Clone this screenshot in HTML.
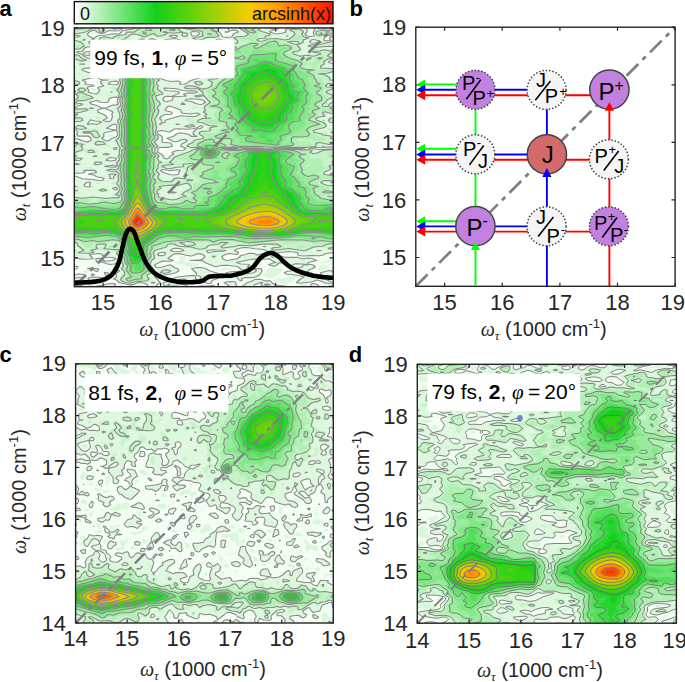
<!DOCTYPE html><html><head><meta charset="utf-8"><style>
html,body{margin:0;padding:0;background:#fff;overflow:hidden}
svg{display:block}
text{font-family:"Liberation Sans",sans-serif;fill:#262626}
.tk{font-size:22px}
.al{font-size:20px}
.om{font-family:"Liberation Serif",serif;font-style:italic}
.pl{font-size:22px;font-weight:bold;fill:#000}
.lb{font-size:21px;fill:#000}
.cbt{font-size:18px;fill:#111}
.cf{font-size:20px;fill:#000}
.cb{font-size:24px;fill:#000}
.cs{font-size:13px;fill:#000}
.cs2{font-size:16px;fill:#000}
</style></head><body>
<svg width="685" height="682" viewBox="0 0 685 682">
<defs>
<linearGradient id="cbg" x1="0" x2="1" y1="0" y2="0"><stop offset="0" stop-color="#ffffff"/><stop offset="0.315" stop-color="#11d11a"/><stop offset="0.485" stop-color="#78d20a"/><stop offset="0.676" stop-color="#f5cc00"/><stop offset="0.79" stop-color="#ff9a00"/><stop offset="1" stop-color="#ff1400"/></linearGradient>
<clipPath id="clipa"><rect x="74.3" y="27.9" width="259.0" height="258.8"/></clipPath>
<clipPath id="clipc"><rect x="75.6" y="363.8" width="257.7" height="259.2"/></clipPath>
<clipPath id="clipd"><rect x="417.3" y="364.3" width="259.1" height="258.9"/></clipPath>
</defs>
<rect x="74.3" y="1.6" width="258.7" height="22.2" fill="url(#cbg)" stroke="#111" stroke-width="1.4"/>
<text x="80" y="19.5" class="cbt">0</text>
<text x="331" y="19.5" text-anchor="end" class="cbt">arcsinh(x)</text>
<g clip-path="url(#clipa)">
<rect x="74.3" y="27.9" width="259.0" height="258.8" fill="#d9f8db"/>
<g transform="scale(0.25)">
<path fill-rule="evenodd" fill="#f4fdf4" d="M297 104l584 0-14 1-8 6 0 9 24 6 17-3 5-3-1-8-12-8 257 0 16 3 13-3 163 0 0 424-3 1 3 1 0 61-68 2 44 2 24-1 0 439-32 5-8 7-8 3-20 2 12 4 35-4 3 9 18 3 0 58-7 3 7 15 0 17-77 0-19-3-10-5-1-8-13-4-25 4-4 8 9 8-11 0-9-8-16-3-17 11-61 0-35-5-8 0-8 5-747 0 0-16 16-2 33-14-17-8-16-1-16 3 0-55 10-3-10-6 0-4 9-7-4-8-5-1 0-499 10-5-10-4 0-155 5-2-5-3 0-221 12 0-12-1 0-39zM501 112l13 2 12-2-4-3-8-1zM1123 112l1 4 19-4-11-2zM369 128l-5 8 6 2 14-2-6-6zM434 128l8 1 6-1-6-1zM1095 128l13 2 18-2-2-4-8-2zM773 136l6 2 9-2-9-3zM905 136l-4 8 18 0-3-5zM1231 136l6 3 8-1 2-2-2-3-8-1zM677 168l14 2 8-2-8-4zM798 192l13 2 6-2-14-4zM360 200l11 0-1-3-9-2zM528 200l29 0-11-4zM705 208l2 0 8 1 2-1-2-1-8 1zM597 224l5 4 8 1 33-2 16 3 16-6-8-5-41-1zM351 280l2 1 5-1-5 0zM704 280l-5 5-16 3 24 6 3-6 10-8-5-3zM361 352l9 13 8 0 6-5-10-8zM684 441l15 1 5-1-13-2zM672 465l3 0 6 0-6-1zM642 529l1 0 2 0-2 0zM433 537l-2 8 3 2 8 1 12-3 4-8zM691 593l21 0-5-2zM972 1002l30 0-14-2zM718 1026l3 16-20 8 14 8 16-2 8 4 5 7 11 2 24-3 18-7-18-7-40-3-10-7 15-8-2-8zM1001 1042l27 7 5-7zM389 1059l-3 8 8-1 10-7zM644 1059l10 0-3-3zM1006 1067l14 1 15-1-15-5zM1059 1067l1 0 4 0-4-1zM1276 1067l-4 8 2 8 3 0 16-1 22-7-6-11-8-3-16 0zM883 1075l0 5 8 3 17-5 24 0 6-3-38-6zM1071 1075l-2 8-15 16 2 8 12 4 24 1 39-29-2-8-5-3-48-1zM334 1083l-2 8 13 1 6-1 7-8-13-2zM698 1099l1 0 8 0 8 0 3 0-3-1-8 0-8 1zM650 1107l1 10 3 6 13-1 13-7-5-8zM1150 1107l-2 3-8 2-33 3-7 3-1 5 9 6 16 5 24 2 25-15 16-14-16-4zM891 1115l9 4 8 0 16-1 9-3-9-6zM367 1131l-16 8 2 7 36-7 20-8-15-3zM718 1131l13 2 18-2-18-5-8 1zM478 1139l-5 8 18 0-2-8zM555 1139l-34 8 17 3 24-1 9-2-4-8zM1282 1139l11 4 23-4-23-4-8 1z"/>
<path fill-rule="evenodd" fill="#ddf8de" d="M297 104l208 0-31 19-16 1-24-2-16 10-8 1-16-1-16-12-8 2-12 6-9 8 5 8 16 8 8 0 11-8 13-3 24-1 24-5 26 1 14-14 40-5 16-8 26-5 281 0 0 16 26 8 12 20 17 2 16-2 8-4 0-8 21-8-13-8-24 5-4-13-9-8 147 0 10 3 10-3 67 0-21 7-8 6-24 6-6 5 30 8 32-6 5-2-4-8 15-7 49-6 19 5 4 8 0 8-8 8 7 8 18 2 12-2-4-16 6-8-5-16 87 0 0 34-41 6-5 16 6 4 16-2 5-2-4-8 7-5 16 0 0 50-8-1-8 4 16 3 0 35-16 2-12 8 12 5 16-1 0 110-8 6 8 3 0 151-17 7 17 8 0 50-106 6 42 5 64-2 0 98-16-1-5 4 21 2 0 315-8-3-24 2-8 2-8 5-16 3-64 1-23-6 1-8-35-4-37 4-26 8-7 8 6 3 24-6 24 6 49 0 24 7 16-4 16 1 22 9-34 8-4 6-8 1-32-2-33 7-7-3-9-8-24 0-8 9-8 4-8 0-18-5 18-7 13-2-29-15-24 2-40-1-64 13-2 1 2 1 16 5 32 1 2 2-8 8 6 4 8 3 40 0 5 9-10 16-14 8-13 3-32 0-14 5 1 8-3 0-8-3-9-13-23-8-16-2-3-6 51-6 8 1 16 8 8 1 27-4 11-8-6-5-8-2-48 2-16-12-40-5-49 5-40-16-8-7-49-1 41-3 8-3 9-10-9-8-8-3-16 0-16 8-8 1-40-9-24 0-27 19 20 8-9 3-32-1-33 15 4 8 13 4 48-11 16 11 12 4 5 8-13 8-28 7-49 5-7 4 9 8 7 10 7 6-14 8-2 8 17 4 32-2 24 2 8-2 4-2-4-4-32 2-16-3-6-3 0-8 22-6 24-14 17-4 63-5 4 5-1 8 13 4 6-4 2-8-18-8 0-8-19-16 21-5 16 0 16 3 24 12 56 14-8 1-23 15-17 6-8 13-8 1-40-11-32 4-18-5-6-6-8-1-16 3-11 12 3 3 8 3 23 2 9 4 5 4-2 8-163 0 3-8 0-8-12-6-24-3-22 9-10 1-40-8-16-12-13-5 13-7-2-9 4-8 11-8-24-8 5-8 17-8-3-6-32 5-16-3-16-8-24 1-2-6-1-8 11-1 14 1 10 11 33-3 14-8-15-4-32-1-9-11-15-4-36 4 12 15 4 1-13 2-32 1-40-9 0-297 5-1-5-1 0-27 40 13 41 3 24 4 18-1 4-8-30-6-8-6-8-2-16-2 7-3 25-5-8-8-41 0-2 0 5 8-19 4-32-1 0-138 24 2 32 11 8 0 11-6 0-8-11-9-40 0-7-7 5-8-5-8-17-4 0-51 11-1 11-8-22-1 0-22 14-1 1-8 17-3 10-5-10-3-16 1-5 2-3 5-8 3 0-51 15-6-7-8-8-3 0-210 16 2 17-5-33-5 0-35zM1322 112l3 0 8 1 7-1-7-1-8 0zM764 128l-1 8 8 8 16-1 10-7-2-9-16-1zM677 144l22 6 11-6-19-5zM1147 144l1 0 3 0-3-1zM367 160l-12 8 6 10 17-1 17-9-18-8-7-8zM596 160l6 2 23-2-15-5-8 0zM657 160l5 8 5 2 16 6 16 2 10-2 13-16-23-6zM864 160l11 2 13-2-13-4zM1245 160l-7 8 7 3 16 1 25-4-25-9zM768 168l3 2 2-2zM496 176l2 0 1 0-1 0zM776 176l-6 8 17 13 32 6 17-3-2-8-23-14-32-5zM546 184l-38 16 6 6 40-1 16 3 8 5 18 3-10 1-5 7 7 8 14 3 33 0 9 5 8 8-4 8-13 4-49 4 24 3 31 13 10 8 16 7 56 9 8-3 4-5-2-8 14-7 16-3 32 0 26-6-18-10-40-3-12-3 20-8 4-8-28-9-12 1-6 16-6 3-16 1-16-9-4-3-2-8 14-12 24 1 17-5-2-8-7-9-8-3-48 13-52-1-13-4-8-12-18-8-22-3zM339 192l-10 13-24 3 24 10 11-10 47-8-5-8-12-6-17 1zM460 208l-4 8 18 7 16-1 19-6-3-4zM768 216l3 1 8 0 7-1-7-1-8 0zM333 224l16 8 29 6 8 0 8-6-57-13zM808 240l3 9 8 4 17-5 15-8-8-3-16-2zM319 256l2 0 8 1 8-1 1 0-1 0-8 0-8 0zM446 256l4 7 8 1 23-8-15-6zM343 272l-14 5-1 3 25 10 8-1 20-9-20-8zM425 272l-26 8 6 8 13 3 8-2 13-9 3-5 13-3-5-4zM776 296l3 3 16 0 1-3-9-2zM455 304l11 6 8-3 1-3-9-7-8 3zM631 304l5 8 31 11 24 3 16-2 16 4-5 8 5 1 16-1 24-14 33-10-1-2-20-6-4-3-24 6-24-3-24 6-32-3-16-7-16 1zM797 304l14 3 23-3-7-3-24-1zM368 312l-39 8 14 8-3 8 30 4 6 4-23 3-4 5 6 8-2 8 17 6 16 2 8-6 5-10-8-8 3-3 21-5-13-14 0-4 8-5 23-1-31-3-24-12zM440 328l-6 9 32 2 6-3 2-8-8-4-16 1zM656 352l3 9 48 4 10 3-2 6-24 10 8 3 46-3-11-8 21-4 24 0 11-4-19-5-24 1-16-2-24-7zM440 368l2 1 6-1-6 0zM439 392l-8 17-5 1-26-1-6-5-8-2-27 7 7 8 20 4 16 9 8 2 16-1 24-11 16 0 8-3-5-8 4-17-7-4-8 0zM654 392l-2 9 15 6 22-6 3-9-1-6-16-1-16 2zM740 401l7 3 24 3 8 6 16 4 16-1 11-7-11-9-8-2-40-3zM725 417l15 0-9-6zM673 425l-6 4-7 12 28 8-1 8-28 1-13 7-8 8 8 8 0 8 5 3 9-3 0-8 63-18 48 4 13-2 16-8-13-5-24 4-32-3-6-4-2-9-32-12zM391 441l1 8 22 8 11 8 4 8-17 8 22 6 8-3 6-11 2-8-3-8 5-8-10-7-24-8-16 1zM360 481l-11 16 4 1 17-4 16 4 20-9-4-3zM1292 481l1 0 2 0-2-1zM455 497l-29 16 32 7 8 0 2-7-2-14zM637 497l7 0-1-3zM704 497l3 0 8 0 2 0-2-1-8 0zM799 505l-12 6-24 5-64 0-12 5-4 5-8 2-24-6-16 1-7 6 5 8 14 8 3 8-2 8 2 8 33 3 7 13-15 4-24 0-16 2-3 2-1 16 15 8 7 8 3 8 11 3 9-3 3-8 16-8-7-8 3-1 16-6 32-4 5-5-21-8 3-8 5-4 11-4 7-8-18-3-11 3-5 4-16 2-8-1-6-5-17-8 26-8 13-10 16-4 31 6 11 8 23 0-15-8 0-8 14-13 18-3 6-8zM424 529l-6 2-4 6 2 8-9 8 11 7 8 3 8 0 15-10 17-6 6-10-6-15zM454 593l4 5 8-1 2-4-2-3zM782 593l5 1 6-1-6-1zM901 593l23 2 27-2-27-2zM1132 593l65 2 23-2-23-2zM408 617l18 3 11-3-11-3zM373 625l14 0-9-2zM307 633l-11 8 17 1 8-2 7-7-7-2zM433 633l-10 8 19 3 20-3 4-8-24-3zM416 665l42 4 9-4-17-4zM641 681l18 11 24 7 16 1 15-3 1-8 6-8-14-2-24 4-32-5zM436 697l5 8-3 8 12 2 5-2 0-8 11-8-16-1zM347 730l-10 8 2 8 14 2 10-2-5-8 4-8zM1324 730l1 0 8 0 1 0-1-1-8 0zM451 754l7 4 8 1 4-5-4-5zM297 762l8 0 6 0-6-1zM674 770l17 2 13-2-13-3zM1054 986l6 1 2-1-2 0zM692 994l-11 8 10 4 24 1 21-5-15-8zM954 994l-16 8 16 8-6 8-32-4-15 4-13 8 2 8 10 6 8 2 40-7 16-13 18-4 14-5 16 0 24 6 36-9-6-8-14-4-64-8zM290 1002l13 0-6-1zM827 1002l5 8 3 1 24-5 32-1 13-3-53-3zM1268 1002l1 0 8 1 8-1-8 0-8 0zM641 1010l-6 3-5 5 5 4 16 0 10-4 0-8-2-1zM900 128l8-2 5 2zM683 262l8-1 10 3 3 8-5 3-8 3-16 0-16-6zM297 543l5 2-13 5 0-8zM1237 1057l16 3 8 7-8 6-16 6-8 9-20 3 36 2 16 11 8 2 16-7-3-8 27-8 13 0 19 12 0 19-32-1-11 2 31 16-12 3-20-3-28-11-16 7-27 4-29 2-11-2 11-11 20-13-36-7-33-3-11-6 28-8 14-8 26-6 8-9zM297 1066l15 1-5 8-18 3 0-10zM353 1073l8-1 33 3-2 8-6 3-16-9-19-2zM1333 1069l8-1 0 10-10-3zM418 1090l14 1 2 8-8 4-5-4zM290 1099l39-2 9 2 4 8-53 6zM370 1096l8 3-8 3-5-3zM353 1113l8-4 17-1 61 7-21 0-27 8-21 1-11-1-7-8zM1020 1118l16-1 24 6 19 0 21 17 32 2 16 5-8 8-41 0-7-5-40-5-8-6 0-5 8-4-35 9 5 16-46 0-11-8 15-8 6-8 18-5zM900 1130l16-4 24 1 3 4 1 8 5 8-9 8-28 0 10-8-22-14-3-2zM418 1138l24-4 16 1 4 4-6 8 2 1 16 3 32 0 15 4-147 0 1-8 3-1zM1245 1136l16-1 8 4 7 8-7 3-24-3-2-8zM297 1142l24-1 8 2 3 12-43 0 0-13zM787 1146l16-2 32 0 16-3 14 6 8 8-13 0-17-4-4 4-44 0-8-7-5-1zM1309 1147l16-5 16 0 0 13-58 0z"/>
<path fill-rule="evenodd" fill="#c6f4c8" d="M297 104l-8 4 0-4zM337 111l16-3 49-1 14 5 6 8-6 8-14 2-7-2-3-8-6-5-8-1-8 1-33 17-24 4-16 0-8-3 0-18 16-2 16 1zM442 104l52 0-20 12-16 3-8-2-7-5-5-8zM554 111l24-3 6-4 260 0 3 8-1 8 21 8 12 16-12 5-37 3-11 6-24 7-33-13 43-8 3-16-13-5-24-1-48-9-3 7 3 3 22 5 9 8-1 8-6 6-16-1-8-5-1-8-7-2-32 0-8 2-18 8 19 8-9 1-41-5-16-8-8 2-23 10 7 12 8 4 49-4 24 13 32 7 4 8-17 8-11 1-24-9-33 0-24-11-30-5-10-7-7-9 20-8-6-8-15-5-16 0-9 5-3 8 6 8 1 8-3 3-32-2-8 1-5 6 7 8 22 8-24 8-16 2-15-2-9-9-8-3-8 0-6 4 8 8 3 8-13 9-8 4-40-1-20-4 11-6 36-10-11-16 15-8 3-8-11-8 2-8 15-6 40 0 16-5 24-3 8-2 2-8 38-4zM588 120l15 0-9-3zM916 104l27 0-19 4-8-2-4-2zM956 106l4-2 76 0 10 8-8 8 49 16 5 8-18 8 42 1 24 4 16-3 14-10 5-8-8-8-14-8 20-5 32 0 8 4 4 9-6 8 4 8 6 3 24 5-26 8 2 9-21 15 10 16-5 5-21 11 13 5 40-3 16 2 24-4-32-4-10-4 17-8 0-8-25-8 2-2 8-4 32-1 48-10 15-7-1-8 10-1 0 40-16-4-60 5 12 7 24-4 16 7 22 6-6 6-8 2-1 8 17-8 0 18-16 0-16 6-11 8 5 8-12 8 10 6 21 2 11 0 8-4 0 20-42 8 10 4 24 16 8 1 0 27-24-5-11 5 11 3 24-2 0 10-29 13 13 6 16 2 0 48-15 9 15 2 0 21-32-2-5 3 4 8-7 3-34 5 5 8 29 9 6 7 3 8-1 3-16 7-26 6-4 8 14 1 8-4 16-2 7 5 0 8 33 7 0 3-7 6 7 2 0 24-40 7-32 0-40 4-89 0-36 3 93 5 40 0 21 3-13 8 8 2 8 0 24-10 56-3 0 65-16 2 4 8-7 8-17 8-2 8 38 6 0 22-40 0-12 5 20 9 32 0 0 236-28 3 4 4 8 2 16 0 0 12-16 5-16-4-16-7-24-1-16 3-23 10-1 6-16-1-57-10-56 7-12-2-10-8 22-8-40-9-40 7-56-1-48 11-25 2-24-2 6-8-6-3-24 0-9 3-2 8-37 5-16-1-16-6-57-6-7-2-6-6-10-1-6 1-4 8-6 4-43 12-7 8 6 16 0 8-13 8-7 17 20 24-8 8-21 8 8 16 1 8 15 3 7 5-15 5-8-2-8-8-48 1-24 8-24-4-17-8-2-8 7-8 7-16-1-8-11-8 8-16-4-9-3-19-8-7-12-6-3-8 7-6 10-2-2-1-40-1-24 3-16-2-9 1-5 8-10 3-41 2-24 6-5-3 5-8 21-8-13-11-8-2-16 2 0-7 8-1 7-5-7-4-8 0 0-188 40 5 41-6 56 4 49-3-25-4-6-4 22-6 8-7 5-11-5-10-8-5-11-1-14-8 9-4 16-1 6-12-2-8 5-8-1-2-8-6-32-2-18-6 26-6 24 1 5-3 4-8-14-8-1-8 6-1 9-7 1-8-8-8 7-8-1-16 4-8-4-11-8-8-10-5-1-8 11-5 8-7 4-12-3-40-7-8 0-8 9-8 0-8-3-16-8-13-11-3 19-6 8-10-5-8 2-17-9-8 6-8-3-8-7-5-26-11 10-5 8 0 8 5 8-7 6-9 0-8-5-8 5-8 1-8-7-9-8-4-20-3 20-7 16-14 27-3 16-8-35-7 8-4 40 1 13 2 1 8 9 8 41 6 24 10 3 16-7 8 2 8 19 8-12 8-2 8 6 6 10 2-12 8 19 16 6 8-32 8 7 17 12 8 2 8-15 16 8 8 0 8-3 8-8 8-5 8-1 8 4 8-3 8 6 8-1 8-7 16 2 8 10 8 1 8-15 16 14 16-11 8-1 16 18 16-6 8 9 8 16 6 16-2 23-20 25-8-1-8 25-2 16-6 8-7 16 3 16-4-16-4-24 4-23-8 8-8 18-8 5-12 38-4-2-8-14-8-1-8 11-7 28-1-1-8 7-8-34-13-22 5 1 8-11 4-24 1-18-5 32-8 0-8-15-8-4-8 14 0 7 3 16 2 24-5 17-16-12-8 5-8-2-3-12-5 12-4 3-4 22-16-17-16-8-4-24 1-14-6 30-12 3-4-11-6-16-5-32 0-15-5 7-9 32-3 6-4-6-8 24-6 16 2 12 12-27 8 15 7 8 1 20-8 1-16-20-8 15-6 30-2-6-8 0-8-36-8-6-8 23-8-7-8 5-8 37-12 7-4-3-16-37-8-4-8 13-8 1-8-20-16 11-8-10-8 2-3 8 2 1 9 23 5 33-8 40 1 4-6-16-8 20-7 26-1 17-8-39-24zM1032 160l12 3 14-3-14-4zM1162 168l19 4 6-4zM909 192l15 3 19-3-11-5zM1313 401l-6 8 2 3 8 0 19-11-3-5-8 0zM1269 577l8 3 12-3-12-2zM890 593l34 4 56-3 69-1-77-1-40-4zM665 657l2 0 8 1 3-1-3-1-8 1zM751 657l12 3 12-3zM641 673l-6 2-7 6 14 16-3 8 2 8 4 8 6 2 24 1 9-3 7-8 8-4 24 0 8-3 2-9 10-16-4-5-16-4-16 0-24 5-32-6zM652 746l-4 8-17 8-1 8 12 8-5 8 6 3 48 6 12-1 18-8-8-8 47-24-1-8-12-8-32 5-32-1zM729 970l18 7 8 0 8-3 3-4-19-2zM407 978l-13 5-3 3 11 4 8-1 4-3-3-8zM1076 109l6-5 43 0-25 12-8 1-16-3-4-2zM1269 104l72 0 0 3-16 0-17 5 9 5 24 1 0 13-24 7-35 6 0 8-5 3-14-3 11-8-5-1-7-7-1-8 8-5 35-3-35-6-5-10zM948 135l10 1-2 3-8-1zM293 152l11 8 9 1 8-2 8-8 8-2 12 3-1 8-17 8 12 16-22 13-8 2-24-4 0-44zM739 168l14 8-6 4-16-3-2-1 2-6zM522 179l8 0 1 5-9 2-5-2zM297 215l16 4 24 16 18 5-18 5-16 2-32-11 0-24zM530 216l8-4 8-1 17 13-9 4-16-1-9-3zM426 223l24 0 16 9-14 8-2 8-16 4-16 0-12-12 12-12zM779 230l17 2-17 1-7-1zM594 240l16 1 13 7-21 6-24-2-7-4zM297 263l14 1-6 2-4 6 1 8-13 6 0-23zM345 264l33 0 32-4 8 1 3 3-27 4-16-3zM675 272l8-2 9 2zM305 295l16-3 9 4-17 4-8-2-1-2zM410 302l24-5 8 3 9 12-9 1-24-4-13-5zM297 310l8-1 6 3-14 6-6-6zM297 321l16 3 10 4-2 8-8 5-24 2 0-23zM675 335l5 1-5 7-8-7zM321 350l16 1 10 9-13 8 11 7 16 5 18 12-42 12-24 3-24 8 0-17 16-5 3-9-12-8 21-8-10-8 6-7zM426 378l19 6-19 2-5-2zM771 424l19 1 4 8-23 3-5-3zM337 431l33-2 15 4-7 3-57 16-32 2 0-18zM386 464l10 1 8 8-10 2-13-2zM297 469l32 1 5 3 4 8-9 6-8 2-32 0 0-20zM1317 471l24-3 0 26-16-1-13-4-1-8zM691 481l8-1 3 1-3 0-8 0-1 0zM667 496l11 1-3 2zM305 501l24 0 32 15 17-2 26 7-8 8 8 16-12 8 2 8 28 8 20 16-8 3-8-6-48 0-8-5 8-9 8-6 6-1-14-8-17-16-8-2-28 2 0-8 4-4 24-4-40-3-16-5 3-8zM1317 512l24 1-16 8-8 1-6-1 2-8zM707 553l1 0-1 0-1 0zM297 560l6 1 12 8 32 8-14 8 6 8 6 4 8 0 25-4 8 4 6 12-39 5-8-1-8-6-8-1-16 3-3 8 7 8-12 2-16 9 0-47 7-4 0-8-7-3 0-15zM353 633l1 0-1 0zM394 632l16-2 5 3-13 4-13-4zM297 649l9 0 23 8-8 4-32-1 0-8zM378 647l24-2 24 4-9 8-39 7-10-7 3-8zM345 669l25-1 3 5-20 2-10-2zM297 678l8-3 8 6-8 4-8-1-2-3zM410 705l2 0-2 1-3-1zM297 712l8 8 8 1-24 2 0-14zM386 729l19 1-11 6-8-2-2-4zM297 741l16 3 8 6 9 4-9 1-32-5 0-9zM394 753l24-1 8 2 9 8-17 6-24-2-8-4 5-8zM297 768l30 2-14 3-8 7-8 1-8-2 0-14zM1237 1009l24 1-8 3-21-3zM851 1017l24 1-8 9-16 2-10-3 5-8zM988 1026l3 0-3 4-10 4 2-8zM643 1081l24-6 26 8-13 8-21 4-16-1-8-3 4-8zM819 1098l32-1 16 2-8 3zM948 1095l14 4-6 2-8-1-4-1zM297 1105l18 2-26 2 0-5zM1325 1102l16 0 0 8-23-3zM763 1122l8 0 1 1-1 0-8 0-1 0zM811 1122l8-5 8 0 6 6-14 2zM1229 1123l8-1 1 1-1 0-8 0-1 0zM675 1131l16 0-3 8-13 2-10-2zM924 1130l2 1-2 1-5-1zM1060 1135l16 0 8 4-8 4-8 1-14-5zM297 1146l17 1 5 8-30 0 0-10zM988 1145l8-1 5 3 3 8-12 0-8-8zM1116 1146l13 1 2 8-21 0 1-8zM1325 1146l16-1 0 10-40 0zM450 1155l8 0 8 0 8-1 8 0 8 0 8 0 4 1-4 0-8 0-8 0-8 0-8 0-8 0-8 0-2 0zM610 1153l9 2-13 0zM651 1155l8-1 8 0 3 1-3 0-8 0-8 0-4 0zM715 1153l16-4 8 6-28 0zM811 1154l8 0 3 1-3 0-8 0z"/>
<path fill-rule="evenodd" fill="#b0f0b3" d="M450 104l36 0-20 9-8 0-4-1zM594 104l23 0 9 4 6-4 55 0 20 11 4 5-4 7-24 0-21-7 5-5 9-3-41-2-6 10 6 2 8 11 7 3-7 1-33-7-8 2-2 4-14 5-16 0-15-5-3-8 10-9 8-1 16 6 16 2 20-6-19-8zM731 104l107 0 2 8-7 8 26 10 11 14-19 3-19-3-18-8 7-8-10-6-16-5-24 1-16-3-24-8-7-3zM972 107l6-3 48 0 6 8-9 8 14 8-5 8 7 8-11 6-11 10 4 8 23 3 36-11 28-3 15 3 1 8 8 4 16 1 17 7 20 12-10 8-23 8-1 8 25 8 25 16 20 9 44-1-4-1-5-7 2-8 11-6 24-1 14 7-14 10-16 6 0 8-21 16 21 5 32 0 14 3-14 9-40 3-8 4 16 12 20 4-4 2-5 6 10 16-6 8 13 8-11 8-2 8 3 8 16 8-1 8-16 17-20 8 4 8 23 9 40 3 0 16-16-3-16-6-24 0-14 5 3 8-7 8-14 8 5 8 24 8 11 6 3 10-43 10-13 6 6 8 28 16 29 8-5 8-13 4-16-1-24-6-16 1-32-4-8 3-2 3 2 3 8 1 40-2 13 14-8 8-102 2-64 5-40-3-64 0-48-3-46 7 38 6 160-6 129 10 25-2-1 8 12 8-4 17 16 3 24-2 15 6 1 4 6 4-6 1-6 7 6 8 20 8-36 16-2 8 66 12 0 11-48-3-15 4-10 9 10 8 23 5 40 1 0 3-16-1-9 8 25 9 0 11-40 6-8 6 8 3 16 2 24-1 0 180-48 2-18 6-14 2-10-2-6-8-24-3-24 1-24 6-33 2-8-2-8-11-128 17-22-2-6-8-4-1-73-5-8 1-16 8-16 2-24-7-32 1-40-7-72 8-16 5-15 11-26 4-20 20 6 16-18 24 0 9 12 16-4 9-7 7-16 8 0 8 6 8-15 7-24 0-24 7-29-6-2-8 14-8 3-8-14-24 8-8-2-8-7-9-1-16-15-16 2-8 9-8-3-8-3-4-8-1-24 4-8-1-8-6 8-5 24 0 8-3-2-8-14-4-24 5-56 4-12 3 6 8-11 6-16-4-16-11-3-7-5-1-16-3-16 2 0-176 40 5 42-3-10 10-11 6 3 0 14 0 43-12 64 3 8-9 1-6-7-8 1-8 8-16-9-16 3-17-2-16 4-8-10-16 7-8 2-8-8-8 10-16 0-8-4-8 4-8-1-16 8-8-10-16-4-16 9-24-3-16 1-16-6-16 1-8 6-8 1-16-7-16 10-24-4-8 2-17-8-8 5-9-7-15 11-24-3-16 3-8-4-14-12-10 12-14 8-4 40-5 32 1 24 4 31 10 4 16-5 8-1 8 12 8-6 8 0 8 4 8-5 16 17 16-23 8 15 33-6 16 5 8-15 40 5 8 2 16-1 16-3 8 1 8 9 8 1 8-17 16 14 16-8 8-1 16 10 8 5 8-8 8 3 16 0 24-8 8 12 16-7 8 1 8 12 12 34 5 3 8-21 1-16-3-9 2-2 8 7 8-9 8 0 8 6 8-2 10 9 10 32 3 16 9 24-1 9-7 15-7 34-9 1-8-20-8 28-16-3-16 8-6 19-2 6-9-17-11-11-13-12-8 7-8-1-8 6-8 18-8-15-6-34-2-2-8-4-2-32-2-5-4 49-16 28-16 32-8-16-5-27-3 4-8 23-13 33-11-6-8-15-8 4-4 16-2 32 5 18-7-12-8 25-8-1-8-6-6-8-2-38 0-17-8-6-8 13-2 24 1 8-4 3-3-6-8-2-8 6-8 11-8-12-4-16-1-16-10 8-7 20-10-12-11-9-14 0-8-16-16 28-8 10-8 5-8 15-16 12-8-9-8-2-8-16-8-10-8 51-16 1-16 9-8 1-8-50-24 12-9 33 2 32-3 11-6-2-8 31-8 8-5 14-3-6-6-8-2-24 3-12-11 36-5 15-11-15-8-23-16zM1212 264l9 8 8 1 15-1 8-8-23-4zM879 561l4 1 6-1-6 0zM1220 665l9 4 5-4-5-7zM782 681l18 0-5-2zM1092 106l4-2 15 0-11 8-8 1-7-1zM1277 104l47 0-39 9-8-3-4-6zM297 119l18 1 0 8-12 0-8-8zM329 119l16-3 9 4-17 4-11-4zM1173 119l18 1-2 4-16-2-6-2zM1197 127l2 1-2 2-2-2zM1277 126l40-3 16 5-26 8-30 4-9-4 2-8zM1060 135l2 1-2 0-6 0zM1189 140l8-1 14 13-14 9-32-1zM418 151l28 9 19 16 1 8 19 8-19 3-10-3 1-8-39-5-4-3-7-16 3-6zM466 151l16-6 4 7-12 2zM787 151l16-1 6 2-14 4-13-4zM297 167l-8 4 0-7zM1341 167l0 1-1 0zM602 175l33-6 17 7-9 6-17 1-16-2-12-5zM900 174l16 2-5 8-11 1-7-1 1-8zM1317 175l14 1-14 2-7-2zM305 182l8-3 11 5-11 8-8 0-2 0-3-8zM1245 183l24 1-16 2zM394 207l16-2 5 3-18 8-11 0-6 0 6-1zM1301 207l12 1-12 5-5-5zM297 220l16 4-3 8-21-2 0-9zM297 326l9 2 4 8-21 3 0-14zM1333 327l8-2 0 13-10-10zM321 359l8-1 7 2-7 2-8-1-1-1zM329 384l18 0 11 8-29 4-7-4zM295 409l-6 1 0-3zM1341 405l0 10-6-6zM297 439l26 2-10 1-7 7-17 2 0-12zM297 472l12 1-3 8-17 3 0-11zM1341 472l0 15-16-2-5-4 5-5zM755 505l8-1 2 1-2 0-8 0-1 0zM321 510l8 3-14 0zM1333 561l8 0 0 5-8-1-2-4zM297 596l8 0 7 5-23 6 0-11zM1333 601l8-2 0 36-16 1-8-4-7-7 6-8-7-5-8-3 24-5zM295 625l-6 3 0-7zM450 681l1 0-1 0-1 0zM707 728l8-1 9 3-9 3-8-1-2-2zM795 986l8-3 8 0 4 3-12 3zM1197 983l16-2 5 5-8 8-21 1-3-1 4-8zM297 1152l5 3-13 0 0-6zM1317 1153l24-5 0 7-27 0z"/>
<path fill-rule="evenodd" fill="#99eb9d" d="M466 104l9 0-9 2-6-2zM659 104l8 0 3 0-3 0-8 0-2 0zM755 111l8-4 8 0 14 5-14 2zM811 104l20 0-2 8-10 2-8-3-4-7zM980 109l8-5 29 0 3 8-13 8 17 8-12 4-16-4-20-16zM1293 104l6 0-6 0-4 0zM683 117l8-1 11 4-11 3-13-3zM570 127l10 1 5 8-9 0zM1309 127l11 1-11 1-7-1zM835 135l8 0 3 1-3 1-8-1-4 0zM1285 132l4 4-11 0zM426 162l8 0 10 6-2 6-8 2-8-2-7-6zM1084 167l16-3 7 4 9 16 24-4 17 4 9 8-10 8-18 8-5 8 23 16 45 16 8 8-10 8 6 9 16 4 35 3-19 3-9 5 28 16 1 8 8 8 1 8 14 8-23 8 20 4 8 4-8 11-10 5 2 8 15 8 4 8-3 10-16 7-10 8 5 8 14 8-9 4-17 4-3 8 11 8-6 8-16 8-2 8 42 16-33 9-16 11-4 4 14 16-9 8-25 3-32-1-7 6 0 16 9 8-10 6-81 6-48-4-77 0-38-8 7-16-12-8-33 1-16-2-8-7 32-12 26-4-9-4-23-4 23-3 9-5-9-8-3-8 3-8-25-4-7-4 5-16-4-8 2-8 12-8-8-8-8-4-34-4 26-5 7-3 5-8-5-8-25-17 14-8-1-8-12-8 15-8 9-16 19-16 14-8-16-16-14-8 6-8 25-4 9-4 1-16 12-8 10-15 8 0 16 4 16-5-8-9-24 8-8-1-4-6-21-8-13-8 44-8 26-16 16-4 16-7 16 0 12 3-4 5-12 3 2 8 15 0 43-24zM618 175l19 1-11 2zM1277 231l11 1-11 4-5-4zM498 272l32-5 32 1 40 9 7 3 5 8 0 8-5 8 0 8 7 8-2 8 2 16-6 16 9 16-12 8 10 33-2 16 5 8-6 8-9 32 5 8 2 16-2 8 1 24 7 8 0 8-14 16 13 16-11 8 3 8-1 8 10 8 4 8-8 8 1 40-6 8 9 16-7 8 2 8 8 8 1 9-8 8 0 8 4 8-4 8 1 8 5 8-1 16 7 14 9 3 24 1 14 6 10 1 40-5 12-4 4-6 8-2 19 8 16 0 4-8-14-8 9-8-1-8-14-8 21-8 25-24 23-5 39-3-15-4-2-5-41-8-16-8 13-8-3-8 44-16 0-8-11-4-30-4-12-16-30-4-7-4-5-8 15-8 16-16 27-8-24-8-3-8 29-16 16-4 16 0 6 4-2 8 42 8 7 8-39 8 35 7 56 1 56-4 64-2 105 9 13 5 11 7 17 1-17 1-10 7 22 16-5 8-12 8 10 24-5 8 16 13 8 3 8 0 16-5 21 5-1 8-20 7-17 10 2 8 36 8-22 8 5 8 0 8 5 8 15 7 5 9 27 4 22 12 10 1 0 155-16 1-40-5-32 4-40-6-89-1-128 12-64-13-49 1-14 3-10 5-8 0-16-7-8-1-80 0-88 9-53 18 3 8-11 16 5 8 1 8-19 24 1 9 11 16-6 8-22 16-3 8 2 8-30 3-16 6-12-1-6-8 24-8-6-3-15-21-2-8 6-8-11-17-2-17-12-15 1-8 7-8 1-8-10-24-10-8-25-3-56 8-24-5-25 4-16-2-16-7-24 8 0-153 32-1 32 6 41-4 24-5 40 6 24-7 6-5 0-16-5-8 1-8 6-16-7-16 3-17-4-16 5-8-7-16 5-16-6-8 9-16-4-16 4-8-1-16 15-8-14-8-5-24 5-24-1-32-5-16 1-8 6-8 2-16-7-16 7-16 1-8-4-8 2-17-7-8 5-8-5-16 8-24 1-24-6-16-9-8 5-9zM907 609l-7 2-9 6-4 8 13 9 10-1-2-8 12-8zM862 649l5 1 8 0 4-1-4-1-8 0zM813 754l22 4 10-4-18-2zM828 770l7 6 13-6-5-4-8-1zM1333 440l8 0 0 10-7-1-5-8zM1333 480l8-2 0 4-8 0-2-1zM290 601l-1 0zM1333 622l8 1 0 4-15-2zM1293 767l8-4 8 0 16 3 8 4-24 2-18-2zM1333 1154l8 0 0 1-8 0-5 0z"/>
<path fill-rule="evenodd" fill="#82e787" d="M996 108l8-2 4 6-12 2-7-2zM1068 181l16-2 11 5-11 3-16 0-6-3zM980 191l5 1-5 1-2-1zM1132 191l8-2 9 3-25 13-4 11 1 8 15 8-2 8 14 5 37 3-3 8 8 16 7 7 42 25-15 8 10 8-8 8 13 8 0 8-8 8 11 16 9 8 2 8-9 17 0 16-19 8 19 8-7 2-11 14 20 8-3 8-25 8 4 24-9 14-16 7-14 11-37 16-3 16-18 8 6 8-11 8-20 2-32-2-24-6-72-5-23-5 16-8-5-8-25-8 2-8-2-8-6-8 5-8-11-16 9-8-4-8-28-3-10-5 3-8-3-8 1-3 21-13-3-8-17-8 6-8 1-16-16-16-11-1 11 0 5-8-6-8 1-8 13-8-15-8 3-8 39-24 12-16-11-3-16 0-16-5 32-5 8-10 0-9 6-8 10-5 24-3 8-5 10-11 0-8 12-8 10-17 24-1 17 2 15 5 16 1 37-6zM932 207l24-4 8 2 1 3-9 7-8 0-16-5-4-2zM514 271l16-2 32 1 40 10 5 8 0 8-4 8-1 8 5 8 1 16-6 24 7 16-8 8 9 41-2 8 3 8-6 8-6 32 5 16-2 16 2 24 6 8-2 8-10 16 12 16-8 5-16 3 16 7 0 9 13 16-8 8 0 16-2 8 3 8-1 8-6 8 1 8 7 8-5 8 2 8 6 8-6 25 3 8 0 16 3 8-1 8 11 32 13 4 16-3 24 4 48-1 24-7 40-1 14-4 7-8 2-16 44-8 16-16-4-8 17-9 14-15-6-6-8-3-35-8-8-8 19-7 8 0 16 12 8 3 9 0 29-16-28-16 5-16 34-16-5-16-14-8 11-8-5-8 77-10 64-2 105 10 8 2 6 8-12 16 28 8-6 5-12 3-2 8 10 8 0 8-13 24 9 3 8 7 5 6 1 8 10 5 8 12 14 8 7 16-2 8 1 8 27 24 1 8 32-5 16 7 24 2 0 148-56-7-32 6-64-10-209 12-10-1-22-10-16-2-41 3-56-2-120 7-40-5-24 3-16 5-40 25 3 8-7 16 6 8 0 8-18 24 7 25-6 8-18 13-32 1-8-3-9-11 0-8 5-8-12-17-2-16-3-8-7-8-1-8 7-8 1-8-8-24-7-8-36-10-40-4-65 9-24-5-16-1-16 8 0-144 24 1 24 6 49-1 32 4 40-1 8-1 16-9 12-12 0-16-5-8 7-24-6-16 1-25-3-8 4-8-6-16 4-16-5-8 10-16-6-16 4-8 0-16 14-8-12-8-5-24 3-32-5-48 6-8 3-16-7-16 6-16 1-8-3-8 1-17-7-8 5-8-4-16 7-24 1-24-7-16-6-8 6-10zM1164 641l1 1 1-1-1 0zM883 545l8 0 2 0-2 0-8 0zM811 576l16-5 16 6 32 2 12 6-30 8 29 8 2 8-15 16 1 8-47 6-32-15-4-7 9-16 23-8-15-8 1-8zM859 681l17 0 4 8-13 8-8 0-10-8z"/>
<path fill-rule="evenodd" fill="#6ce371" d="M1076 215l24-2 6 3-4 8 2 8-4 8 16 8 24 5 33 11 4 8-4 8 13 16 7 16 19 8-1 8 8 8 2 8-9 8 16 16 5 8-8 8-2 8 5 17-20 16 6 8 2 8-16 24-3 8 5 8-29 6-15 10-5 8 10 24-43 16 5 8-2 8-11 8 3 8-7 3-120-14-5-5 0-8 5-5 22-3-46-4-8-4-4-8-7-8 7-8-13-16 10-8-4-8-13-7-18-1 18-8-17-8 12-16-5-8-13-8 3-8 0-25-4-8-14-16 18-16-18-8 0-8 30-14 27-26-2-8-5-8 5-16 39-10 7-6-3-8 9-8 1-8 10-4 8-2 24 1zM522 272l48 1 25 7 6 8-5 24 4 8 2 16-6 16 5 24-6 8 7 57-5 8 0 16-4 16 5 16-3 16 2 24 5 8-9 24 10 16-22 8 17 8-2 8 13 16-8 8-4 24 2 16-4 8-1 8 7 8-3 8 6 16-6 25 7 32-1 8 10 32 4 6 17 10 8 1 16 0 16-5 24-2 56 8 21-2 3-8 8-4 40-1 8-3-16-8 18-8-5-8 10-8 25-8 22-16 5-8 13-8-5-8 7-8 0-9 11-8 22-8 4-8-6-7-18-9 4-8 17-8 10-16 5-16-22-8 12-10 48-13 24-3 64 0 64 9 17 3 9 6-31 24 0 8 5 5 29 11-8 24-10 8 24 16 1 8 11 9 4 8-4 8 24 8 4 8-1 16 3 8 11 8-5 16 14 9 24 3 72-5 0 138-31-1-17-6-16-2-10 0-10 8-9 0 5-8-32-4-40 2-33 7-128 4-40-1-32-7-24-2-121 3-24-3-24 6-16 1-16-1-10-5-14-3-32 0-34 11-46 32-2 24 5 8-1 8-16 24 4 25-6 8-9 6-24 3-10-1-8-8 5-16-14-17-4-24-6-8-2-8 7-16-6-16 0-8-5-8-19-8-5-8-37-6-81 10-40-4-24 3 0-129 24 10 57-4 88 12 21-4 20-32 0-16-4-8 5-24-3-16 1-25-4-8 4-8-5-16 3-16-3-8 6-8 1-8-6-16 4-9 1-15 11-8-10-8-4-24 3-32-5-48 5-8 3-16-7-16 5-16 0-33-6-8 4-8-3-16 6-24 0-24-6-16-5-8 4-8zM827 582l16-1 28 4-12 2-10 6 22 8 7 8-19 21-16 4-16-1-8-3-15-13 0-8 3-8 23-8-9-8z"/>
<path fill-rule="evenodd" fill="#55de5b" d="M1012 237l72 6 76 29 1 8 13 16 3 8-2 8 25 24-1 8-7 8 25 16 0 8-11 8-1 8 6 9-18 24-4 16 2 8-17 8 6 8-1 8-38 24-8 16-2 8 1 7 10 1-18-3-24 9-32 5-6 5 6 5 24 8 2 11-2 1-35-1 13-8-2-3-24-4-8-4-4-5-1-8-35-6-8-6-4-4 5-8-20-8-6-8 2-8-8-8-19-32 3-8-1-3-4-5-13-8-1-33-16-24 12-8 7-8-9-8-4-8 20-8 12-16 17-16-2-16 2-8 57-16 4-8-16-8zM506 278l24-5 32 0 27 7 5 8-4 16 6 32-8 16 6 24-4 8 2 17-2 8 4 16 0 16-3 8 0 16-3 16 4 24-3 8-1 16 6 16-7 24 8 16-18 8 15 8-2 8 12 16-6 8-6 24 2 16-4 16 5 8 3 24-5 25 9 48 8 24 10 13 17 7 24 3 40-4 64 4 48-10 24 0 20-5 7-16-1-8 10-16 32-24 17-8 3-8-8-8 17-15 16-10 7-8 8-16-12-16 7-8 2-8 5-8 1-8 7-8-9-8 5-8 11-4 2-4 30-8 48-1 40 2 36 7 11 8 3 8-21 16 0 8 6 8 17 8 5 24-11 8 7 8 14 8 9 17-10 16 34 24 11 16 9 8-7 8 4 8 12 10 16 8 16 2 16 0 32-7 32 0 0 118-16 1-48-6-56 0-81 12-64 0-56 4-88-11-57-2-56 3-40-3-32 6-40-7-48 0-38 16-39 32-2 24 4 8-1 8-15 24 0 25-6 6-16 1-8-7 2-8-10-5-14-12-3-24-9-16 6-16-5-16 0-8-4-8-15-8-5-8-26-8-21-3-64 8-33-3-48 0 0-96 24-1 48-9 89 8 16-1 22-7 15-32 0-16-3-8 4-24-4-49 2-8-3-16 1-24 4-16-5-16 4-24 11-8-10-8-3-24 2-32-4-48 4-8 3-16-5-16 4-24-1-25-5-8 3-8-1-24 4-32 0-8-8-24 3-8zM835 585l14 0-6 2zM819 598l16-4 16 1 14 6 6 8-12 16-8 5-16 1-8-1-16-13-2-8 4-8z"/>
<path fill-rule="evenodd" fill="#3eda46" d="M1044 248l16-2 22 2 26 14 32 11 24 23 1 8-4 8 12 24 10 8-11 8 1 8 32 8-3 8-9 8 4 17-9 8-17 8 3 16-6 8 2 8-20 8 3 8-2 16-11 9-19 7-2 8-11 8-8 12-8 4-32 0-16-3-24 1-19-6 7-8-4-6-19-10-16-16-11-16-7-16 3-8-3-8-12-8-6-16-1-17-11-16 2-8 13-8 2-24 11-8 6-16 16-16 2-16 12-8 43-12zM506 280l24-6 32 1 21 5 5 8-4 16 5 32-6 16 4 24-2 8 2 57-4 40 4 24-5 24 5 16-4 24 5 16-15 8 14 8-2 8 10 16-5 8-6 24 2 16-3 16 4 8 3 16-5 33 10 48 9 24 11 16 11 5 25 5 72 0 40 2 64-4 40-16 17-24 10-8-3-8 22-16 6-8 26-8 9-8-5-16 14-17 8-16 10-8 3-8-2-8-10-8 7-16-2-8 15-16-1-16 21-6 16-1 64 1 29 6 3 9 8 7-8 3-4 5-1 16 3 8 10 8-6 16 9 8-5 8 4 8 9 8 8 17-4 8 1 8 25 14 24 22 8 12-5 8 21 27 16 8 42 5 8 0 6-4 2-4 22-6 8 0 11 6-8 8 13 3 0 91-72-5-48 1-81 13-72 0-40 4-104-13-49-3-40 4-80-3-16-3-80 3-16 4-25 12-35 28-6 8-2 24 4 8-2 8-15 23-8 7-8 1-16-2-8-5-4-24-10-16 6-16-8-32-24-19-24-7-32-5-24 2-24 5-33-6-56 3 0-87 24-1 57-6 40 0 40 4 24-2 20-9 12-32-1-24 3-24-4-73 4-40-4-16 3-24 10-8-9-8-3-24 2-32-3-48 6-24-5-16 3-40 0-9-4-8 3-8-1-24 3-32-7-32zM819 600l16-5 8 1 17 5 5 8-3 8-9 8-18 4-8-3-11-9-2-8z"/>
<path fill-rule="evenodd" fill="#28d530" d="M1052 255l21 1 19 12 40 12 2 8 7 8 4 16 13 24 9 8-7 8 2 8 10 8 5 8 1 8 7 17-26 16 0 16-10 16-12 8 0 8-4 8 5 8-13 8-22 8-6 8-21 11-40-7-28-12-24-16-16-16 2-8-6-24-16-15-6-9 1-17-7-16 15-16-3-8 7-16 17-19 14-13-4-8 0-8 6-4 8-2 32-2-3-8 11-5zM514 279l16-3 32 0 16 4 5 8-3 16 3 32-5 16 4 24-3 33 3 32-3 40 3 24-5 24 5 16-3 24 3 16-12 8 13 8-3 8 8 16-6 16-3 16 2 16-3 16 7 24-5 33 8 40 12 32 10 16 25 12 48 3 120 2 45-9 12-8 20-8 6-8 12-8 9-16 1-8 40-14 3-2-3-8 14-8 13-16-3-8 0-9 6-16 14-16 4-8-1-8-3-8 3-8-6-16 10-8 5-8-6-16 14-4 24-2 56 2 19 4-11 16 10 16 2 16 6 8-7 16 1 8 8 24 8 17 2 16 32 16 28 24-2 8 3 16 9 8 2 16 11 8 72 7 32-3 24 4 0 82-72-4-48 0-81 13-80 1-32 3-120-15-41-1-32 3-96-5-87 3-42 20-32 27-5 9-2 8 0 16 3 8-4 11-8 11-16 5-16 1-5-20-12-16 5-16-5-16 0-8-2-8-17-16-12-6-24-8-32-4-48 3-33-3-56 3 0-80 56 0 41-4 88 1 8-2 16-12 12-32 1-64-3-57 4-40-4-16 3-24 10-8-10-8-2-24 2-32-3-48 5-24-4-16 2-49-3-8 4-64-5-32 4-8zM827 599l16-2 8 2 5 2 5 8-4 8-6 6-8 3-8 0-15-9-2-8 4-8z"/>
<path fill-rule="evenodd" fill="#11d11a" d="M522 278l40-1 12 3 4 8-2 8 1 40-3 16 3 24-2 105 3 24-5 24 4 16-2 24 2 16-12 8 13 8-2 8 7 16-7 24 1 24-2 16 5 16-4 41 2 15 6 25 12 32 14 20 16 10 65 5 112 2 48-7 44-22 5-8 14-8 6-16 8-8 31-8 7-8-2-8 25-24 0-33 14-16 4-32-2-16 10-16-10-16 47-4 40 3 9 1-13 8-2 8 15 16 1 16 5 8-7 16 1 8 6 32 9 9 2 16 8 8 20 8 18 16 13 8-6 8 6 8 1 8 7 8 7 16 13 11 21 5 115 4 0 74-128-2-73 12-120 2-56-5-32-6-57-3-80 1-56-4-88 4-12 3-31 16-30 25-9 15-3 8 1 16 2 8-7 13-8 2-8-1-23-14-4-8 4-16-6-16-2-16-15-16-18-10-24-7-32-4-81-1-56 4 0-73 185-3 16-6 12-12 3-8 9-32-2-16 3-40-3-17 0-32 3-88 12-8-12-8-3-24 2-32-2-48 5-24-4-16 2-49-3-8 4-64-5-32 4-8zM1060 278l8-3 16 1 14 4 13 8-8 8 7 8 27 16 17 24-5 8 11 16 2 16 9 8 2 9-17 8-5 8-4 16-4 8-18 16-5 16 6 8-26 10-16 9-24 5-16-2-18-6-36-24-6-8 2-8-10-16-2-8-23-24 3-8-2-17 7-8-1-8 5-8-4-8 5-9 13-15 24-16 5-8-10-8 8-3 31-5zM827 601l16-2 8 2 6 8-6 10-8 4-8 0-10-6-3-8z"/>
<path fill-rule="evenodd" fill="#23d117" d="M522 280l40-2 8 2 4 8-3 64 2 24-2 97 3 32-5 24 4 16-2 24 2 16-11 7-6 1 6 1 13 7-2 8 4 16-4 16 1 32-2 16 4 16-4 41 8 40 21 48 17 15 17 6 120 3 61 0 56-8 28-16 8-8 5-8 16-8 3-9 8-7 32-8 8-16-2-8 22-24 4-17-4-8 1-8 11-11 9-5-3-16 5-8 0-16 7-8-2-8 3-8-4-8-13-8 38-3 35 3-18 8 17 24-2 16 10 8-9 8-1 16 7 24-5 8 18 9 3 16 7 8 29 16-5 8 2 3 24 21 1 8 18 24 19 16 19 4 48 3 48-1 24 2 0 67-136-2-65 10-72 3-56 0-80-9-57-4-80 1-56-5-88 4-16 5-33 17-21 17-22 32-3 8 7 16-9 4-24-6-2-6 1-16-7-11-4-21-13-16-31-18-24-4-97-4-64 5 0-66 185-3 18-6 14-18 11-38-1-16 3-40-3-17 0-32 2-88 12-7 13-1-13-1-12-7-2-24 2-32-1-48 4-24-5-24 3-16 0-25-3-8 4-64-5-32zM1028 296l40-5 8 3 8 10 39 16 15 16 3 8-2 8 11 16-1 16 7 8 1 9-10 8-15 31-15 9-15 24 10 8-20 4-24 12-16 0-26-8-6-8-13-8-7-16-14-16-1-8-23-24 5-8-3-9 2-8 9-8-6-24 3-5 19-19 33-24 1-8zM835 601l10 0 6 6 2 2-5 8-13 3-5-3-4-8z"/>
<path fill-rule="evenodd" fill="#35d114" d="M530 280l32 0 8 8-2 8-2 56 3 24-2 8 2 57-2 32 4 32-6 24 4 16-2 24 2 16-15 5-24-1-8-4-1-104 5-24-6-24 3-41-2-8 0-16 4-32-5-48zM1036 310l16-5 8 0 16 4 32 13 17 14 3 16 10 16 0 16 4 8-1 9-17 34-5 6-19 8-15 16-22 8-2 8-9 4-8 0-7-4-25-26-33-46 6-8-6-17 7-8-7-24 25-24zM530 597l24-1 8 0 9 5-3 8 5 16-5 16 2 32-2 16 4 16-4 41 8 40 9 24 13 24 15 16 13 8 121 4 64-1 64-7 18-4 29-24 4-8 18-8 6-8 37-16 4-8 13-13 17-3-17-5-1-3 14-16 18-8 1-9-7-8 14-8 2-8 7-7 8 1 5 6-1 8 4 8-1 8 22 17 3 8 36 24-5 8 6 8 18 16 11 16 31 30 16 8 16 2 120 4 0 50-16 4-24 2-96 0-57 11-80 5-64-2-137-14-72 1-64-5-64 0-32 9-42 23-15 13-16 21-8 7-8 3-16-3-3-9 0-8-9-16-20-17-24-15-104-7-57 1-24-6 0-48 177-2 16-2 16-8 10-16 13-40 3-56-4-17 1-104 1-16zM835 605l8 1 4 3-4 5-8 1-4-6zM1036 609l32 0-16 8-22-8zM1052 618l8 11 0 12 4 16-1 8-11 6-9-14 9-16-3-16z"/>
<path fill-rule="evenodd" fill="#48d212" d="M530 284l24-2 8 2 4 4-4 56-2 8 4 16-2 16 2 57-2 12-3 4 3 5-2 11 6 32-8 24 1 8 5 8-3 24 2 16-9 2-26-2 2-16-4-16 2-80 2-9 10-7-10-5-4-19 3-16 1-25-3-24 3-24 9-8 0-8-13-24-1-16zM1052 319l16-4 18 5 15 8 13 16 9 16 7 32-7 17 0 8-12 16-43 20-16 3-16-2-11-5-3-8-26-31 0-18-4-8 3-8-4-16 2-8 15-8 11-16zM530 600l24-2 12 3-3 8 5 16-5 16 2 32-2 16 5 16-4 16 0 25 9 40 9 24 12 24 24 24 25 5 112 2 72-1 64-8 17-6 24-17 12-15 19-8 6-8 12-8 20-8 9-8 22-8 12-13 6-3 2-16 8-1 6 17 30 8 9 8 0 8 20 16 2 8 8 8 54 44 16 6 16 2 120 3 0 31-24 12-32 6-56-4-40 5-41 11-88 6-72-4-121-15-48-3-32 2-32-3-20-3 1-8-13-6-16 0-10 6-4 8-34 1-24 11-49 28-24 26-16 3-16-9-15-20-33-26-32-13-48 4-89-5 32-24-21 0-35 11 0-28 177-1 24-5 11-9 10-16 13-40 2-32 4-24-4-17-1-32 3-24 0-64zM436 898l6 6 8-6z"/>
<path fill-rule="evenodd" fill="#5ad20f" d="M546 288l9 0-9 6-3-6zM1068 328l16 5 16 14 10 13 7 32-12 25-9 8-12 6-32 6-16-6-24-18-3-4-1-17-5-8 1-8 2-16 6-8 24-17zM554 623l6 2-6 2-2-2zM546 650l8 6 2 17-2 3-8 2-3-5 0-16zM546 686l16 19-8 12-6 4 0 9 6 2 1 14 7 11 13 45 16 32 21 24 47 16-3 16-12 16-26 18-39 22-17 18-8 2-8-1-16-8-24-23-36-28-2-8-10-8 21-24 19-9 7-7 9-16 14-40 1-16 4-8-1-8 4-8 9-8 0-33-7-8-1-8zM1060 765l7 5-15 0zM1052 783l32 3 16 4 19 20 21 13 33 27 16 9 24 6 43 1 5 8-15 16-30 8-16 8-52 17-64 6-40 1-88-8-56-8-34-8-20-8-4-8-13-8-4-8 26-8 52-8 27-16 18-8 16-15 20-9 2-8 11-8zM305 873l11 1-11 1-4-1zM715 873l12 1 7 8-14 0-7-8zM787 874l7 0-7 0-5 0zM394 881l19 1-19 1-7-1zM1277 881l53 1-53 8-2-8z"/>
<path fill-rule="evenodd" fill="#6cd20c" d="M1060 344l16 6 13 10 15 24-4 17-16 16-8 4-16 2-16-1-12-5-13-16 1-9-6-16 6-8 13-8 1-8zM546 757l8 1 8 11 13 41 13 24 19 24 25 16 8 8 4 8-9 16-9 8-48 29-16 13-8 2-24-7-8-6-43-39-9-16 12-16 26-24 22-48 6-24zM1052 793l16 0 16 3 50 30 39 30 42 18 6 8-9 8-28 16-28 11-20 5-60 5-40 0-72-7-56-9-21-5-25-16-2-8 17-16 40-8 39-21 12-11 12-7 38-17z"/>
<path fill-rule="evenodd" fill="#7fd209" d="M1036 373l16-4 16 3 19 12-1 8-18 19-8 3-8-1-7-4 8-8-9-5-11-12-2-8zM546 772l8-2 18 40 24 40 36 32 5 8-8 16-9 8-58 36-8 2-16-3-16-8-36-35-9-16 11-16 23-24zM1028 809l32-5 24 3 40 20 76 55-5 8-22 16-17 7-24 7-40 4-40 2-48-4-48-6-52-10-23-16 1-8 8-8 15-8 25-8 34-19 18-13z"/>
<path fill-rule="evenodd" fill="#92d108" d="M546 784l8-1 39 67 33 32 5 8-8 16-13 11-48 28-8 3-16-3-14-7-33-32-8-16 3-8 27-32zM1036 817l16-4 16 0 40 13 24 14 36 26 18 16-2 8-21 16-23 9-40 6-32 2-42-1-62-7-40-9-16-7-10-9 2-8 22-16 22-8 52-30z"/>
<path fill-rule="evenodd" fill="#a6d006" d="M554 792l40 64 26 26 5 8-8 16-19 16-36 20-16 2-16-5-20-17-14-16-8-16 3-8 25-32 30-56zM1044 824l16-2 40 9 25 11 33 24 18 16-1 8-21 16-22 7-32 6-64 1-58-6-30-6-29-10-7-8 1-8 22-16 22-8 47-24z"/>
<path fill-rule="evenodd" fill="#b9cf05" d="M554 801l38 57 23 24 5 8-7 16-19 15-32 17-16 2-16-6-16-12-14-16-8-16 3-8 24-32 19-37 8-11zM1036 833l32-1 24 3 21 7 43 31 10 9 0 8-10 9-16 9-25 6-39 4-40 0-40-4-42-8-22-8-8-8 1-8 22-16 49-22z"/>
<path fill-rule="evenodd" fill="#cdce03" d="M546 809l8-1 8 8 27 42 22 24 4 8-7 16-9 8-13 8-32 15-16-3-16-9-18-19-8-16 3-8zM1044 841l40-1 24 6 41 28 8 8 0 8-8 8-14 8-27 6-32 4-40-1-40-4-27-5-23-8-10-8 1-8 23-16 44-18z"/>
<path fill-rule="evenodd" fill="#e1cd02" d="M546 814l8-1 8 7 23 38 22 24 4 8-8 16-9 8-40 19-16-2-16-10-14-15-8-16 2-8zM1028 849l40-4 32 5 41 24 8 8 0 8-8 8-17 8-40 7-56-1-40-5-16-5-25-12 1-8 25-16 31-11z"/>
<path fill-rule="evenodd" fill="#f4cc00" d="M546 819l8-1 8 7 20 33 21 24 3 8-8 16-9 8-35 16-16-3-16-9-11-12-8-16 2-8zM1020 856l40-6 32 4 41 20 8 8 0 8-9 8-16 7-32 6-48-1-48-7-27-13 0-8 27-16z"/>
<path fill-rule="evenodd" fill="#f8bf00" d="M546 823l8-1 4 4 21 32 20 24 3 8-8 15-10 9-30 13-16-3-16-10-7-8-8-16 2-8zM1044 857l24-2 32 8 23 11 9 7 1 9-10 8-15 6-32 4-48-2-42-8-12-8-1-8 33-16z"/>
<path fill-rule="evenodd" fill="#fab200" d="M546 828l8-1 8 9 33 46 3 8-3 8-9 10-16 10-16 6-16-3-12-7-8-8-8-16 2-8zM1028 865l32-5 24 3 24 9 16 9 1 9-17 10-32 6-40-2-37-6-13-8 0-8z"/>
<path fill-rule="evenodd" fill="#fda500" d="M554 833l8 8 29 41 3 8-8 13-13 11-19 7-8 0-15-7-9-8-8-16 1-8 23-37 8-11zM1028 873l24-6 24 0 16 4 24 11-1 8-13 8-26 4-61-4-17-8 1-8z"/>
<path fill-rule="evenodd" fill="#ff9700" d="M546 839l8-1 8 9 25 35 2 8-3 8-8 8-12 8-12 4-8 0-16-8-8-9-5-11 6-16zM1060 874l19 0 24 8 1 8-19 8-49-1-26-7 4-8z"/>
<path fill-rule="evenodd" fill="#ff8400" d="M546 845l8-2 6 7 24 32 1 8-3 8-8 8-20 9-8 0-16-9-10-16 1-8zM1036 882l40-2 9 2 4 8-21 4-32-2-9-2z"/>
<path fill-rule="evenodd" fill="#ff7100" d="M546 850l9 0 25 32 1 8-3 8-8 7-16 7-8 0-11-6-8-8-3-8 5-16z"/>
<path fill-rule="evenodd" fill="#ff5d00" d="M546 855l8 0 8 9 14 18 1 8-7 11-16 8-8 0-8-4-7-7-4-8 3-11z"/>
<path fill-rule="evenodd" fill="#ff4a00" d="M546 861l8 0 18 21 1 8-4 8-15 8-8 0-8-5-7-11 1-8z"/>
<path fill-rule="evenodd" fill="#ff3700" d="M546 868l8-1 14 15 1 8-5 8-10 4-8 0-6-4-5-8 1-8z"/>
<path fill-rule="evenodd" fill="#ff2400" d="M554 874l9 8 1 8-8 8-10 0-6-8 0-8 6-8z"/>
<path fill-rule="evenodd" fill="#ff1700" d="M546 881l10 1 0 8-2 2-9-2z"/>
<path fill="none" stroke="#8c8c8c" stroke-width="5.0" stroke-linejoin="round" d="M317 104l4 1 13-1M505 104l-16 8-7 7-8 4-16 1-24-2-16 10-8 1-16-1-16-12-8 2-12 6-9 8 5 8 16 8 8 0 11-8 13-3 24-1 24-5 26 1 6-4 8-10 40-5 16-8 26-5M853 104l0 16 14 6 12 2 4 9 8 11 17 2 16-2 8-4 0-8 21-8-5-5-8-3-8 0-16 5-4-13-9-8M1050 104l10 3 10-3M1137 104l-21 7-8 6-24 6-6 5 22 7 8 1 24-4 13-4-4-8 7-4 8-3 25-2 16-5 8 1 19 5 4 8 0 8-8 8 7 8 18 2 12-2-4-16 6-8-5-16M1341 138l-16 4-25 2-5 16 6 4 16-2 5-2-4-8 7-5 16 0M289 147l16 2 8-1 9-4-33-5M1341 197l-8-1-8 4 16 3M1341 238l-16 2-12 8 4 3 8 2 16-1M1341 362l-8 6 8 3M289 374l15-6-7-8-8-3M289 434l14-1 1-8 17-3 10-5-10-3-16 1-5 2-3 5-8 3M289 466l11-1 11-8-22-1M1341 522l-17 7 17 8M289 542l13 3-13 5M289 554l24 2 16 7 16 4 8 0 11-6 0-8-11-9-40 0-7-7 5-8-5-8-17-4M1341 587l-72 3-34 3 42 5 64-2M1341 694l-16-1-5 4 21 2M289 702l14 3 26 10 41 3 24 4 18-1 4-8-30-6-8-6-8-2-16-2 7-3 17-2 8-3-8-8-41 0-2 0 5 8-19 4-32-1M289 731l5-1-5-1M1341 1014l-8-3-24 2-8 2-8 5-16 3-32-1-32 2-16-2-7-4 1-8-35-4-37 4-26 8-7 8 6 3 17-3 7-3 24 6 49 0 24 7 16-4 16 1 22 9-34 8-4 6-8 1-32-2-8 0-16 7-9 0-7-3-9-8-24 0-8 9-8 4-8 0-18-5 18-7 13-2-5-1-24-14-24 2-40-1-64 13-2 1 2 1 16 5 32 1 2 2-8 8 6 4 8 3 40 0 5 9-10 16-14 8-13 3-32 0-14 5 1 8-3 0-8-3-9-13-23-8-16-2-3-6 11-3 40-3 8 1 16 8 8 1 27-4 11-8-6-5-8-2-32 3-16-1-8-8-8-4-40-5-17 0-24 5-8 0-40-16-8-7-49-1 41-3 8-3 9-10-9-8-8-3-16 0-16 8-8 1-24-4-16-5-24 0-7 3-20 16 20 8-9 3-32-1-33 15 4 8 4 2 9 2 16-3 24-8 8 0 16 11 12 4 5 8-13 8-28 7-49 5-7 4 9 8 7 10 7 6-14 8-2 8 17 4 32-2 24 2 8-2 4-2-4-4-32 2-16-3-6-3 0-8 22-6 24-14 17-4 47-5 16 0 4 5-1 8 5 3 8 1 6-4 2-8-18-8 0-8-19-16 21-5 16 0 16 3 24 12 32 9 24 5-8 1-23 15-17 6-3 2-5 11-8 1-40-11-24 5-8-1-18-5-6-6-8-1-16 3-11 12 3 3 8 3 23 2 9 4 5 4-2 8M289 1068l16-3 7 2-5 8-18 3M1341 1078l-10-3 2-6 8-1M289 1099l8 0 16-3 16 1 9 2 4 8-13 3-40 3M1341 1114l-32-1-11 2 27 13 4 3-4 2-8 1-16-2-16-7-16-5-24 8-48 5-11-2 11-11 20-13-36-7-33-3-11-6 11-5 17-3 14-8 26-6 4-2 4-7 21-1 3-2 16 3 8 7-8 6-16 6-8 9-20 3 36 2 8 4 8 7 8 2 8-2 8-5-3-8 35-9 8 1 8 8 8 4M289 1142l32-1 8 2 2 4 1 8M374 1155l1-8 3-1 32-5 24-6 16-1 8 1 4 4-6 8 2 1 16 3 32 0 15 4M587 1155l3-8 0-8-12-6-24-3-24 9-16 0-36-8-12-11-13-5 5-1 8-6-2-9 4-8 11-8-24-8 5-8 14-6 3-2-3-6-8-1-8 4-16 2-16-3-12-5-4-3-24 1-3-14 19-1 6 1 10 11 33-3 14-8-15-4-32-1-9-11-7-3-8-1-36 4 12 15 4 1-13 2-32 1-40-9M795 1155l-8-7-5-1 21-3 32 0 16-3 14 6 8 8M860 1155l-9-3-8-1-4 4M912 1155l10-8-25-16 11-4 16-1 16 1 3 4 1 8 5 8-9 8M976 1155l-11-8 15-8 6-8 18-5 16-8 16-1 8 1 16 5 19 0 5 2 4 6 12 9 40 4 8 3-8 8M1099 1155l-7-5-40-5-8-6 0-5 8-4-8 0-27 9 1 8 4 8M1283 1155l34-11 24-2M1325 111l-3 1 3 0 8 1 7-1zM771 126l-7 2-1 7 6 9 18-1 10-7-1-8zM900 128l8-2 5 2zM683 141l-6 3 14 5 8 1 8-3 3-3-11-4zM1148 143l-1 1 1 0 3 0zM370 152l-3 8-12 8 4 8 11 3 8-2 8-3 9-6-18-8zM602 155l-6 5 6 2 23-2-15-5zM659 159l-2 1 5 8 5 2 16 6 16 2 10-2 6-9 7-7-23-6-40 5M867 157l-3 3 3 2 8 0 13-2-13-4zM1253 158l-8 2-7 8 7 3 16 1 25-4-25-9zM771 167l-3 1 3 2 2-2zM498 176l-2 0 2 0 1 0zM779 173l-9 11 9 9 8 4 32 6 17-3-2-8-23-14-22-2-10-3M546 184l-15 8-23 8 6 6 40-1 16 3 8 5 18 3-10 1-5 7 7 8 14 3 33 0 9 5 8 8-4 8-13 4-49 4 24 3 31 13 10 8 16 7 56 9 8-3 4-5-2-8 14-7 16-3 32 0 26-6-18-10-40-3-12-3 20-8 4-8-28-9-8-1-4 2-6 16-6 3-16 1-16-9-4-3-2-8 14-12 24 1 8-1 9-4-2-8-7-9-8-3-48 13-52-1-13-4-8-12-18-8-22-3zM345 189l-6 3-10 13-24 3 24 10 11-10 38-5 9-3-5-8-4-4-8-2zM466 207l-6 1-4 8 18 7 16-1 19-6-3-4zM771 215l-3 1 3 1 8 0 7-1-15-1M337 219l-4 5 20 9 25 5 8 0 8-6-8-3-49-10M811 239l-3 1 3 8 8 5 17-5 15-8-16-5-16 1-8 3M321 256l-2 0 2 0 8 1 8-1 1 0-1 0-8 0zM450 255l-4 1 4 7 8 1 8-1 15-7-7-4-8-2zM683 262l8-1 10 3 3 8-5 3-8 3-16 0-16-6zM345 272l-8 1-8 4-1 3 25 10 8-1 20-9-20-8zM426 272l-27 8 6 8 5 3 8 0 8-2 13-9 3-5 13-3-5-4-24 4M779 295l-3 1 3 3 16 0 1-3-9-2-8 1M458 300l-3 4 11 6 8-3 1-3-9-7zM635 301l-4 3 5 8 31 11 24 3 16-2 8 1 8 3-5 8 5 1 16-1 8-3 16-11 33-10-1-2-20-6-4-3-24 6-24-3-16 5-16 1-24-3-16-7zM803 300l-6 4 6 2 31-2-7-3zM370 311l-41 9 14 8-3 8 5 2 25 2 6 4-23 3-4 5 6 8-2 8 17 6 16 2 8-6 5-10-8-8 3-3 21-5-5-4-8-10 0-4 8-5 23-1-23-1-8-2-24-12zM442 327l-9 9 9 2 24 1 6-3 2-8-8-4zM659 352l-3 0 3 9 8 2 40 2 10 3-2 6-24 10 8 3 46-3-11-8 21-4 24 0 11-4-11-4-8-1-24 1-16-2-24-7zM442 368l6 0-6 0M442 392l-3 0-8 17-5 1-26-1-6-5-8-2-27 7 7 8 20 4 16 9 8 2 16-1 24-11 16 0 8-3-5-8 1-8 3-9-7-4-8 0zM659 387l-5 5-2 9 7 4 8 2 22-6 3-9-1-6-24-1zM747 398l-7 3 7 3 24 3 8 6 16 4 8 1 8-2 11-7-11-9-8-2-40-3zM731 411l-6 6 15 0zM675 424l-8 5-7 12 7 3 21 5-1 8-28 1-13 7-8 8 8 8 0 8 5 3 9-3 0-8 63-18 48 4 13-2 16-8-13-5-24 4-32-3-6-4-1-8-1-1-32-12-16-4M394 439l-3 2 1 8 22 8 11 8 4 8-17 8 6 3 16 3 8-3 6-11 2-8-3-8 5-8-10-7-24-8-8-1zM361 480l-8 13-4 4 4 1 17-4 16 4 20-9-4-3-24-2-8-3zM1293 480l2 1-2-1M458 496l-8 2-24 15 32 7 8 0 2-7-2-14zM643 494l-6 3 6 1 1-1zM707 496l-3 1 3 0 10 0zM803 503l-16 8-16 4-24 2-32-2-16 1-12 5-4 5-8 2-24-6-16 1-7 6 5 8 14 8 3 8-2 8 2 8 33 3 7 13-15 4-24 0-16 2-3 2-1 16 15 8 7 8 3 8 11 3 9-3 3-8 16-8-7-8 3-1 16-6 24-1 8-3 5-5-21-8 3-8 5-4 11-4 7-8-10-3-8 0-11 3-5 4-16 2-8-1-6-5-17-8 26-8 13-10 16-4 31 6 11 8 23 0-9-3-6-5 0-8 7-8 7-5 18-3 6-8zM426 529l-8 2-4 6 2 8-9 8 11 7 8 3 8 0 15-10 17-6 6-10-6-15-8-1-16 5zM458 591l-4 2 4 5 8-1 2-4-2-3zM787 592l-5 1 5 1 6-1-6-1M908 592l-7 1 23 2 27-2-19-2-24 1M1132 593l65 2 23-2-23-2-65 2M410 617l16 3 11-3-11-3-16 3M378 623l-5 2 14 0-1-2-8 0M313 632l-6 1-2 3-9 5 17 1 8-2 7-7zM434 633l-11 8 19 3 20-3 4-8-24-3zM418 665l8 2 32 2 8-2 1-2-17-4zM643 681l-2 0 10 8 8 3 24 7 16 1 15-3 1-8 6-8-14-2-24 4-32-5-8 3M442 696l-6 1 5 8-3 8 4 1 13-1 0-8 11-8-8-1-16 0M353 728l-6 2-10 8 2 8 14 2 10-2-5-8 4-8-9-2M1325 729l-1 1 1 0 8 0 1 0-1-1zM458 750l-7 4 7 4 8 1 4-5-4-5-8 1M305 761l-8 1 8 0 6 0-6-1M675 769l16 3 13-2-13-3zM1060 986l-6 0 6 1 2-1zM699 993l-7 1-11 8 10 4 24 1 21-5-15-8-22-1M956 994l-8 2-10 6 16 8-6 8-32-4-15 4-13 8 2 8 10 6 8 2 40-7 8-5 8-8 18-4 14-5 16 0 16 6 8 0 36-9-6-8-14-4-32-3-32-5-16 0zM297 1001l-7 1 7 2 6-2zM827 1002l0 3 5 5 3 1 24-5 32-1 13-3-53-3zM1269 1002l-1 0 1 0 8 1 8-1-8 0zM643 1010l-8 3-5 5 5 4 16 0 10-4 0-8-10-1-8 1M353 1073l8-1 33 3-2 8-6 3-16-9-19-2zM418 1090l14 1 2 8-8 4-5-4zM370 1096l8 3-8 3-5-3zM353 1113l8-4 17-1 16 1 24 5 21 1-21 0-27 8-21 1-11-1-7-8zM1245 1136l8-2 8 1 8 4 7 8-7 3-24-3-2-8zM293 104l-4 1M492 104l-18 10-16 3-12-5-4-8M696 104l17 8 4 8 6 6 7 2-7 2-24 2-24-1-16-5-8 2 16 4 0 4-16 6-16 3-9-2-8-8-8 0-32 13-8-2-2-2-22-7-16-1-8 3-24 17-24 8-2 4 1 8 6 8 20 8-17 6-16 2-8-1-8-4-8-8-16-2-8 3-4 4 12 16-16 10-16 1-24-1-14-2 45-16-7-16 8-4 3-4 1-8-8-8 1-8 19-5 32 6 13-9 35-5 6-3 3-8 31 0 22-16 26-2 1-6M842 104l3 8-2 8 21 8 12 16-17 5-32 0-16 8-16 4-8-1-16-8 43-8-3-2-3-6 4-8-17-7-24-1-32-6-16-5-6-5M933 104l-9 1-8-1M1033 104l8 8-8 8 11 5 37 11-5 6-14 2-2 9-24 1-8 5 0 2 8 4 16-1 13-4 3-4 40-2 32 6 16-3 18-13 6-8-5-8-18-8 16-4 24 1 9 3 7 6 1 2-7 8 4 8 10 5 14 3-24 8 3 8-17 9-3-1 1-8-6-2-24-1-16 3 7 1 17 7 16 2 2 6 7 8 2 8-3 2-8 3-20 3 5 8 23 8 8 0 24-3 24 4 31-9-7-4-28-4 12-3 16-1 24-5 31 9-15 8-7 8 7 3 16 5 3-8 5-4M1121 104l-21 10-8 2-15-4 9-8M1341 106l-24 1-13 5-3 3-16 1-8-1-8-3-3-8M289 117l16-2 16 1 32-6 49 0 8 2 8 8-6 8-10 0-3 0-5-13-16-3-8 1-17 10-16 7-32 5-16-6M1341 129l-24 8-32 5-8 1-8-2-5-5 0-8 5-3 8-2 40-3 24 1M289 154l8 6 23 8 9 5 8 11-16 10-8 3-24-4M1341 187l-24-2-64 5-21-6 13-5 32-1 40-9 16-7 8-10M289 217l24 4 6 3 2 5 8 6 18 5-10 3-16 0-16-6-16-3M1341 232l-16 0-16 5-15 11 3 8-14 8-1 8 59 4M289 274l3 6-3 1M1341 283l-32 10-36 3 28 4 7 4 11 8 0 8 22 2M289 322l16 2 8 2 4 2 1 8-13 5-16 1M1341 342l-24-9-8 4-8 7 8 4 24 1 8 3M1341 352l-32 11-4 5 4 5 16 5 9 6-9 8-16 7-8 12-12 6 1 8 19 2 7-2 0-8 9-5 16-12M289 401l16-2 6-7 2-8-11-8 19-6 8 1 9 5 23 8 12 8-36 10-24 0-8 7-16 4M1341 421l-16 7-5 5 21 3M289 437l56-2 7 6-31 8-32 4M1341 455l-16-1-24-7-11 2 2 8 7 8-22 2-15 6 6 8 25 8 9 8 3 8-4 3-8 3-40 10 2 8 30 6 8 5 34 5-5 8 19 4M289 471l32 0 6 2 4 8-10 4-32 2M1341 492l-21-3-6-8 7-8 20-4M289 560l4 1 1 8-5 1M1341 575l-24 3-32-7-16-1-7 7 2 8-35 4-89 0-45 4 102 6 40 0 12 2-10 8 14 6 16-3 25-11 47-3M289 593l14-8 4-8 6-2 20 2-9 8 6 8-3 8-26 8-6 8 11 8-17 9M1341 639l-8 2-5 8 5 6 8 0M1341 659l-8-1-17 7 7 8-6 7-21 9-1 8 46 8M289 711l4 2-4 8M1341 724l-40-2-8 1-11 7 15 8 12 3 16 1 16-1M289 743l18 3-18 2M1341 752l-8 2 8 2M289 768l7 2-7 3M289 788l40 5 41-5 56 6 24-3 24 0 4-5-4-5-13-3 5-2 8-8 7-14-7-13-6-3 1-8 5-9 0-8-2-8 5-8-3-5-8-6-24-1-15-4 15-4 24 2 8-5 2-9-10-8 2-8 9-8 1-8-6-8 6-8-1-16 4-8-17-32 10-8 6-16-3-16 1-16-1-8-6-8 1-8 7-8 1-8-3-16-5-8-1-8 10-8 3-8-5-8 2-17-8-8 5-8-2-8-9-8 7-7 3-9 5-8 0-8-4-8 4-8 0-8-8-10-16-6 8-3 16-16 8-2 29-3 11-5 16 1 8 4 40 5 29 11 3 16-6 8 1 8 17 8-11 8-1 8 7 8-4 8 3 8 14 8 5 8-30 8 7 17 10 8 3 8-6 5-7 11 7 8-2 8-2 8-10 16-2 8 5 8-2 8 4 8-2 16-4 8 2 8 10 8 0 8-15 16 14 16-10 8-2 16 11 8 6 8-7 8 6 12 11 4-11 4-3 4 0 16-8 8 13 16-5 8 0 8 11 10 8 2 32 2 8-4 8-10 8-1 32 3 3-2-2-16 10-16-1-8 8-8 26-8-12-3-32 2-7 1 3 8-4 2-32 3-16 5-20-2-16-8 12-4 35-4-17-8 6-3 16-18 56-20 16-9 34-6-18-4-24 1-15-5 8-8 17-8 5-8 38-8-5-8-13-8 0-8 13-4 24-1 8-2-4-9 4-3 26-5-34-3-24-11-20-2 2-8 18-7 31-1-15-1-7-7 7-8-13-8 8-8-4-8 1-8 23-16-10-8-21-24 1-9-14-8-3-6-40 1-17-3 6-8 19-1 24 5 16 7 16 0 13-3 14-8 4-16-18-8 11-3 24-2 7-3-8-8 0-8-31-10-9-6 27-8-10-8 2-8 14-1 6 1-11 8 5 4 25-4 1-8-3-8 8-8-5-16-24-8-13-8 8-8 3-6 18-10-2-4-5-4 30-8 8-1 40 7 4-6-4-8-14-8 14-5 32-2 15-9-38-24 11-8M1341 973l-39 5-9 6-40 4-12 6-20 8-8 1-57-9-56 7-8-2-6-5 6-3 24-2 9-3-17-10-56 0-48 7-48-2-16 5-49 6-7-6 16-10 12-6-21-1-8 1-8 6-8 2-32 3-14 13-18 3-21-3-11-5-8-1-24-1-24-3-8-2-8-6-16-1-12 3-5 8-7 4-33 9-7 3-6 8 5 18-1 6-11 8-4 8-2 9 13 16 2 8-8 8-19 8 2 8 6 8-2 2-8 6-16 2-24 0-24 8-24-4-13-6-2-8 16-16-1-8-3-8-9-8 7-8 0-8-6-9 0-16-6-8-13-8-1-8 15-7 0-2-8-3-24 0-32-3-3-1 3-1 7-15-7-2-16 0-15 2-1 2-2 6 2 5 4 3-27 8 7 2 4 6-21 3-32-1-8-2 23-8-15-13-8-4-7-15-17 2M289 986l1 0-1 0M1341 988l-4-2 4 0M289 1105l8 2-8 1M1341 1109l-17-2 9-4 8 1M289 1146l16 2 9 7M483 1155l9 0M717 1155l6-3 8 0 4 3M1115 1155l1-3 8 0 2 3M1305 1155l20-8 16-1M586 112l-3 8 3 1 16 1 6-2-14-6-8-2M731 129l16 4 3 3-2 8-9 2-10-2zM337 157l2 3-6 0zM562 157l8-1 7 4 9 11 8 0 32-6 17 1 24 15 22 3 5 8-11 4-8-1-16-6-41-1-24-9-16-3-16-8-7-8zM843 174l21 2-13 3-8-1-3-2zM908 190l-6 2 22 5 16-2 6-3-6-6-8-1-24 5M546 221l4 3-8 0zM426 228l16-4 12 8-11 8-1 8-16 0-12-8zM1237 231l-4 1-9 8 9 0 12-8 0-1-8 0M506 248l1 0-1 0-2 0zM586 247l8-1 11 2-11 2-11-2zM418 302l16-1 5 3-5 4-8 0-14-4zM779 328l16-2 8 1 7 9-15 4-8-2-9-10zM321 352l11 0 12 8-7 5-16 2-10-7zM779 384l8-2 16-2 7 4-15 3-8 0zM361 432l9 0 3 1-3 0-9 0-1 0zM305 505l8-3 16 1 16 10-8 3-8 1-16-1-11-3zM739 505l24-6 8 0 7 6-23 4zM337 527l24 0 17-4 8 2 13 20-5 4-8 2-8-2-5-4-3-7-9-7-24 1-5-3zM386 567l8-2 16 2 5 2 5 8-18 2-16 0-5-2 2-8zM1293 585l2 0-2 0-2 0zM891 592l-5 1 14 3 24 2 56-3 77-2-21-2-64 0-40-4zM361 601l9 0 8 8-17 1-9-1 1-6zM386 648l21 1-5 8-16 2-8-2 2-8zM297 654l8 0 12 3-20 2-5-2zM747 721l8 3 17-3-17-3zM731 736l-16 5-32-1-47 6 7 8-15 8-1 8 7 8-2 8 3 3 8 3 48 8 16-3 24-9 14-2-18-8 4-2 4-6 30-16-1-8-9-11-8-2zM402 759l8-3 8 1 9 5-17 3-12-3zM1309 785l18 1-18-1M723 970l-5 0 19 8 2 4 8 2 16 0 19-6-8-8-19-4zM1317 992l16-4 3 6-11 3-11-3zM851 1026l8-1 1 1-1 1-8 0 0-1zM651 1082l16-3 16 4-9 8-15 2-17-2zM819 1122l4 1-4 0-1 0zM610 1129l9 2-9 1-4-1zM675 1137l4 2-7 0zM1060 1137l8-1 12 3-12 3-11-3zM475 104l-9 2-6-2M670 104l-13 0M831 104l-2 8-10 2-8-3-4-7M1017 104l3 8-13 8 17 8-12 4-16-4-20-16 12-8M1299 104l-10 0M1341 450l-7-1-5-8 12-1M1341 482l-10-1 10-3M1341 627l-8 0-7-2 7-3 8 1M289 812l32-1 32 6 41-4 24-5 32 6 8 0 24-7 6-5 0-16-5-8 1-8 4-8 2-8-7-16 3-17-1-8-3-8 5-8-7-16 4-8 1-8-6-8 9-16-4-16 4-8-1-16 15-8-14-8-5-24 5-24-2-16 1-16-5-16 1-8 6-8 2-16-7-16 7-16 1-8-4-8 2-17-7-8 5-8-5-16 8-24-1-16 2-8-6-16-9-8 4-8 9-6 24-5 24-2 24 1 32 6 15 6 5 8 0 8-5 8 0 8 7 8-2 8 2 16-6 16 9 16-12 8 10 33 1 8-3 8 5 8-6 8-9 32 5 8 2 16-2 8 2 8-1 16 7 8 0 8-8 6-6 10 13 16-11 8 3 8-1 8 10 8 4 8-8 8 2 8-2 16 1 16-6 8 9 16-7 8 2 8 8 8 1 9-8 8 0 8 4 8-4 8 1 8 5 8-2 8 1 8 7 14 9 3 24 1 14 6 10 1 40-5 12-4 4-6 8-2 19 8 16 0 4-8-14-8 9-8-1-8-14-8 21-8 25-24 23-5 39-3-15-4-2-5-41-8-16-8 13-8-3-8 25-10 19-6 0-8-11-4-24-2-6-2-12-16-30-4-7-4-5-8 15-8 16-16 27-8-6-3-18-5-3-8 29-16 24-5 8 1 6 4-2 8 28 4 17 6 4 6-39 8 26 6 25 2 40 0 56-4 72-2 89 7 16 5 16 9 17 1-9 2-8-1-10 7 22 16-5 8-12 8 10 24-5 8 16 13 8 3 8 0 16-5 21 5-1 8-20 7-17 10 2 8 36 8-13 3-9 5 5 8 0 8 5 8 15 8 5 8 27 4 8 2 14 10 10 1M1341 966l-16 1-40-5-32 4-40-6-89-1-128 12-52-9-12-4-49 1-14 3-10 5-8 0-16-7-8-1-80 0-88 9-53 18 3 8-11 16 5 8 1 8-19 24 1 9 11 16-6 8-22 16-3 8 2 8-30 3-16 6-12-1-6-8 24-8-6-3-15-21-2-8 6-8-4-8-7-9-2-17-12-15 1-8 7-8 1-8-10-24-10-8-25-3-56 8-24-5-25 4-16-2-16-7-8 1-16 7M1328 1155l13-1M755 111l8-4 8 0 14 5-14 2zM683 117l8-1 11 4-11 3-13-3zM570 127l10 1 5 8-9 0zM1309 127l11 1-11 1-7-1zM835 135l11 1-11 0-4 0zM1285 132l4 4-11 0zM426 162l8 0 10 6-2 6-8 2-8-2-7-6zM1084 167l16-3 7 4 9 16 24-4 8 1 9 3 9 8-10 8-18 8-5 8 7 7 16 9 33 10 12 6 8 8-10 8 6 9 16 4 35 3-19 3-9 5 17 8 11 8 1 8 8 8 1 8 14 8-23 8 20 4 8 4-8 11-10 5 2 8 15 8 4 8-3 10-16 7-10 8 5 8 14 8-9 4-17 4-3 8 11 8-6 8-16 8-2 8 25 8 17 8-33 9-8 4-8 7-4 4 9 8 5 8-9 8-25 3-32-1-7 6 0 16 9 8-2 3-8 3-17 0-32 5-32 1-48-4-77 0-38-8 3-3 4-13-12-8-33 1-16-2-8-7 32-12 26-4-9-4-17-2-6-2 23-3 9-5-9-8-3-8 3-8-25-4-7-4 1-8 4-8-4-8 2-8 12-8-8-8-8-4-8-2-26-2 26-5 7-3 5-8-5-8-25-17 14-8-1-8-12-8 15-8 9-16 19-16 14-8-16-16-14-8 6-8 25-4 9-4 2-8-1-8 12-8 10-15 8 0 16 4 8-1 8-4-8-9-24 8-8-1-4-6-21-8-13-8 44-8 26-16 16-4 16-7 16 0 12 3-4 5-12 3 2 8 15 0 11-5 3-3 17-8 12-8zM618 175l8-1 11 2-11 2-8-1-2-1zM1277 231l11 1-3 2-8 2-5-4zM908 609l-8 2-9 6-4 8 13 9 10-1-2-8 12-8zM867 648l-5 1 17 0zM819 752l-6 2 22 4 10-4zM835 765l-7 5 7 6 13-6-5-4zM1293 767l8-4 8 0 16 3 8 4-24 2-18-2zM289 820l16 8 8 2 16 1 41-5 48 8 40 4 21-4 8-16 12-16 0-16-4-8 5-24-3-16 1-25-4-8 4-8-5-16 3-16-3-8 6-8 1-8-6-16 4-9 1-15 11-8-10-8-4-24 3-32-5-48 5-8 3-16-7-16 5-16 0-33-6-8 4-8-3-16 6-24 0-24-6-16-5-8 4-8 4-2 16-5 16-2 32 1 16 3 17 5 6 8-1 8-4 8 0 8 4 8 2 16-6 16 0 8 5 16-6 8 3 17-1 8 5 16-2 8 2 8-5 8 0 16-4 16 5 16 0 8-3 8 2 24 5 8-9 24 10 16-22 8 17 8-2 8 13 16-8 8 0 8-4 16 3 8-1 8-4 8-1 8 7 8-3 8 6 16-6 25 2 16 5 16-1 8 10 32 6 8 15 8 8 1 16 0 8-1 8-4 24-2 30 6 26 2 21-2 3-8 8-4 8-1 32 0 8-3-16-8 18-8-5-8 10-8 17-4 8-4 22-16 5-8 13-8-5-8 7-8 0-9 11-8 22-8 4-8-6-7-18-9 4-8 17-8 10-16 5-16-22-8 12-10 52-14 60-3 32 1 48 7 25 5 9 6-31 24 0 8 11 8 23 8-8 24-10 8 10 8 14 8 1 8 11 9 4 8-4 8 18 4 6 4 4 8 1 8-2 8 3 8 11 8-1 8-4 8 6 4 8 5 32 3 64-5M1341 955l-8 1-23-2-17-6-16-2-10 0-6 3-4 5-9 0 5-8-32-4-40 2-33 7-128 4-40-1-32-7-24-2-121 3-24-3-24 6-16 1-16-1-10-5-14-3-32 0-34 11-46 32 1 8-3 16 5 8-1 8-16 24 4 25-6 8-9 6-24 3-10-1-8-8 5-16-14-17-4-24-6-8-2-8 5-8 2-8-6-16 0-8-5-8-19-8-5-8-37-6-81 10-40-4-16 1-8 2M1076 215l24-2 6 3-4 8 2 8-4 8 8 3 8 5 24 5 33 11 4 8-4 8 13 16 7 16 19 8-1 8 8 8 2 8-9 8 16 16 5 8-8 8-2 8 5 17-8 8-12 8 6 8 2 8-16 24-3 8 5 8-5 3-24 3-15 10-5 8 10 24-17 8-26 8 5 8-2 8-11 8 3 8-7 3-8 1-12-4-28-2-72-9-5-5 0-8 5-5 22-3-6-2-40-2-8-4-4-8-7-8 7-8-13-16 10-8-4-8-5-5-8-2-18-1 18-8-17-8 8-8 4-8-5-8-13-8 3-8 0-25-4-8-14-16 18-16-18-8 0-8 30-14 27-26-2-8-5-8 1-8 4-8 15-5 24-5 7-6-3-8 9-8 1-8 10-4 8-2 24 1zM827 582l16-1 28 4-12 2-10 6 22 8 7 8-19 21-16 4-16-1-8-3-15-13 0-8 3-8 23-8-9-8zM289 849l32 0 49-5 40-1 56 3 8-1 16-7 5-4 3-6 9-26 1-8-2-16 3-24-3-73 3-40-3-16 3-24 10-8-10-8-3-24 2-32-3-48 6-24-4-16 2-40 0-9-4-8 3-8-1-24 3-32-6-32 4-8 6-2 16-3 16 0 16 0 20 5 4 8-3 16 4 32-4 8-2 8 4 24-2 8 1 17-2 8 3 16 0 16-2 8 1 16-2 16 3 24-5 24 5 16-2 8-2 16 5 16-14 8 14 8-3 8 3 8 7 8-8 16-3 16 2 16-3 16 4 8 3 16-5 33 3 16 5 16 0 8 11 32 11 16 13 7 25 4 32 1 40-1 48 3 64-6 36-16 5-8 23-24-2-8 19-12 16-4-4-8 20-6 12-10 2-8-5-8 3-9 8-8 4-11 13-13 3-8-1-8-7-8 4-8 0-8-4-8 11-8 5-8 0-8-3-8 19-5 40-2 40 2 25 5-3 24 3 16 2 8 7 8-6 16 4 17 15 23 0 17 3 8 23 11 25 21 7 8 2 8-3 8 5 8 8 8 5 16 23 7 48 3 19-2-1-8 14-3 8 1 5 2-10 8 21 5M1341 934l-24 0-48-5-48 1-81 14-80 0-32 3-104-12-49-3-40 4-96-7-80 3-16 4-25 12-37 30-6 8-1 8 0 16 3 8-2 8-4 8-9 12-16 7-16 0-4-3-4-8-2-16-7-8-3-8 6-16-6-16 1-8-3-8-11-8-7-8-8-4-24-7-32-5-24 1-24 5-33-6-56 4M1060 248l16 1 28 15 28 8 12 8 4 8 11 8 1 8-4 8 11 24 11 8-10 8 1 8 12 6 16 2-2 8-7 8 5 17-12 9-15 7 3 16-6 8 0 8-18 8 1 24-9 8-23 8-3 8-10 8-3 8-14 6-16-1-24-8-8 0-16 5-12-2 8-8-4-8-19-8-19-16-5-8-8-8-5-16 2-8-2-8-11-8-5-7-4-9 0-17-11-16 5-8 11-8 0-16 3-8 10-8 6-16 12-10 2-6 0-8 4-8 10-5 40-12 16-12zM819 601l16-5 8 0 15 5 6 8-4 8-9 8-8 3-8 0-8-3-10-8-2-8zM289 859l185-3 18-6 13-16 12-40-1-16 3-40-3-17 2-8-2-24 2-24 1-24-2-16 1-24 12-7 13-1-13-1-12-7 0-16-2-8 2-32-1-48 4-24-5-24 3-16 0-25-3-8 4-64-5-32 5-8 26-2 24 2 4 8-2 8 1 40-2 16 2 24-1 33 1 32-2 32 3 32-5 24 4 16-2 24 2 16-11 7-6 1 6 1 13 7-2 8 4 16-4 16 1 32-2 16 4 16-4 41 8 40 12 32 9 16 17 15 17 6 120 3 61 0 56-8 28-16 8-8 5-8 16-8 3-9 8-7 32-8 8-16-2-8 22-24 4-17-4-8 1-8 11-11 9-5-3-16 5-8 0-16 7-8-2-8 3-8-4-8-13-8 38-3 35 3-18 8 7 12 10 12-2 16 10 8-9 8-1 16 7 24-5 8 18 9 3 16 7 8 29 16-5 8 2 3 24 21 1 8 25 32 12 8 19 4 48 3 48-1 24 2M1341 925l-136-2-65 10-72 3-56 0-80-9-57-4-80 1-56-5-88 4-16 5-33 17-21 17-13 16-6 14-3 2-3 8 7 16-9 4-20-4-4-2-2-6 1-16-7-11-1-13-3-8-13-16-15-10-16-8-24-4-97-4-64 5M1028 296l24-5 16 0 8 3 8 10 39 16 15 16 3 8-2 8 11 16-1 16 7 8 1 9-10 8-15 31-15 9-6 8-3 8-6 8 10 8-20 4-24 12-16 0-26-8-6-8-13-8-7-16-14-16-1-8-23-24 5-8-3-9 2-8 9-8-6-24 3-5 19-19 13-8 20-16 1-8zM835 601l10 0 6 6 2 2-5 8-5 2-8 1-5-3-4-8 7-8zM546 288l9 0-9 6-3-6zM1068 328l8 1 8 4 16 14 10 13 6 24 1 8-12 25-9 8-12 6-24 6-8 0-16-6-16-10-8-8-3-4-1-17-5-8 1-8 2-16 6-8 24-17 16-5zM554 623l6 2-6 2-2-2zM546 650l8 6 2 17-2 3-8 2-3-5 0-16zM546 686l16 19-8 12-6 4 0 9 6 2 2 6-1 8 7 11 13 45 16 32 21 24 14 6 33 10-3 16-12 16-26 18-39 22-17 18-8 2-8-1-16-8-24-23-36-28-2-8-10-8 5-8 16-16 11-4 8-5 7-7 9-16 14-40 1-16 4-8-1-8 4-8 9-8 0-33-7-8-1-8zM1060 765l7 5-7 1-8-1zM1052 783l32 3 16 4 19 20 21 13 33 27 16 9 24 6 43 1 5 8-15 16-30 8-16 8-52 17-64 6-40 1-88-8-56-8-34-8-20-8-4-8-13-8-2-6-2-2 18-4 8-4 52-8 16-8 11-8 18-8 16-15 20-9 2-8 11-8 39-6zM305 873l11 1-11 1-4-1zM715 873l12 1 7 8-14 0-7-8zM787 874l7 0-7 0-5 0zM394 881l19 1-19 1-7-1zM1277 881l16-1 37 2-53 8-2-8zM546 788l8-2 8 12 19 36 13 19 30 29 5 8-8 16-11 10-48 28-8 2-16-2-12-6-27-24-6-8-8-16 3-8 26-32zM1044 818l8-2 16 1 40 12 24 13 20 16 13 8 18 16-2 8-21 16-22 8-30 5-32 3-40 0-56-6-32-6-32-9-6-3-7-8 1-8 22-16 22-8 56-30zM546 814l8-1 8 7 23 38 22 24 4 8-8 16-9 8-13 8-27 11-8 0-8-2-16-10-14-15-8-16 2-8 22-32 14-26zM1028 849l40-4 16 1 16 4 30 16 11 8 8 8 0 8-8 8-17 8-40 7-56-1-40-5-16-5-11-4-14-8 1-8 25-16 31-11zM554 833l8 8 11 17 18 24 3 8-8 13-13 11-19 7-8 0-15-7-9-8-8-16 1-8 23-37 8-11zM1028 873l24-6 24 0 16 4 24 11-1 8-13 8-26 4-32-1-29-3-17-8 1-8zM546 857l8 0 21 25 1 8-4 8-10 7-8 3-8 0-8-4-6-6-4-8 2-9z"/>
</g>
</g>
<g clip-path="url(#clipc)">
<rect x="75.6" y="363.8" width="257.7" height="259.2" fill="#d9f8db"/>
<g transform="scale(0.25)">
<path fill-rule="evenodd" fill="#f4fdf4" d="M342 1447l9 0-9 6-7-6zM374 1447l71 0 2 8 10 8 5 20 40 20 8 2 9-10-1-10-15-6-9-6-7 6-1 5-4-21-10-8-4-8 33 0 9 7 16 4 2 5-6 16 19 8 1 19 8 7 8-2 5-8-1-8-11-8-5-8 0-8 6-8-1-8 3-8 209 0 5 8 2 8-2 8 5 8 10 8 23 12 16 4 7-16-23-4-5-4 0-8-11 1-14-9 14-10 24-5 8 1 8 9 8 1 2-4-6-8 90 0 2 5 9-5 222 0-2 8 10 4 16-8 8 0 7-4 132 0 13 11 0 43-16-16-10 2-3 8-3 2-8 0-8-10-4-8 0-8-4-5-8-3-6 8 5 8-3 8 28 26 40 10-1 69 1 239-14 10 1 8 5 3 8-9 0 19-8 1-1 2 1 16 8 5 0 139-4 1 4 0 0 183-2 2-2 16-10 16 6 15 8-4 0 43-16-2-8 2-16-2-8 4 0 8 8 2 8-8 8-1 4 7 11 8 2 8-2 8 9 2 0 137-16-2-8 5-11-21-5-3-6 3-6 8 0 16-4 16 8 7 16-21 8-2 16 16 2 8-144 0-2-5-3 5-373 0-4-8-11-9-8 1-13 16-483 0 0-278 4-11-4-2 0-322 8-15 13 1 0-8-5-4-16 3 0-25 17-6-4-8-13 0 0-144 8-1 2-8-2-6-8-2 0-58 12-22-4-3-8 2 0-34 8-1 2-4-10-2 0-20 6-2 1-9-7-8 0-30 10-2 6-4 16 3 24-1 8 2 16 12 16-3-11-25-10-8zM900 1455l2 4 8 1 14-5-14-5zM436 1463l2 1 3-1-3-1zM602 1463l-1 8 5 9 16-1 0-8-4-8-12-5zM668 1463l4 8 14 12 9 4 15 6 8 0 6-6-6-5-16-3 6-8 0-8-6-3zM1023 1463l-2 8 4 8 5 3 8-1 2-10-3-8-7-5zM848 1471l-8 8 6 3 8 3 8-2 4-4-4-8-8-3zM893 1471l-7 8 8 11 8 4 16-5 0-10-8-11-8-2zM938 1471l4 4 2-4-2-1zM1196 1471l1 7 2-7zM1245 1471l8 4 5-4-5-7zM314 1479l8 0-4-5zM632 1487l6 8 8-1 7-7-7-6-8 0zM350 1495l8 5 8 9 12-6-4-11-8-3-16 3zM819 1511l-9 9-2 8 6 7 8 2 8-3 6-6-6-15-8-7zM355 1520l3 12 15 12 5 8 12 5 4-5-17-16-11-20-8 1zM948 1528l10 1 5-1-5-4zM511 1536l7 3 10-3zM713 1536l1 8 4 2 8-2 2-8-2-4-8-3zM861 1536l1 0 0-1zM461 1584l9 2 5-2-5-3zM314 1632l3 8 9 7 8-1 8-6-24-11zM1323 1737l10 3 2-3-2-6zM332 1777l-6 8 3 8 5 3 8 1 7-4 4-8-3-8-8-4zM581 1833l1 8 1-8-1 0zM679 1873l7 8 4-8-4-2zM557 1881l-3 8 20 13 23-5-7-3-8-10-16-5-8 0zM361 1889l5 7 9-7-9-2zM321 1897l0 16 5 7 8 2 4-17 9-8-5-5-8-3-8 3zM426 1905l-7 8 7 8-9 16 5 4 8-2 3-10 11-8 0-8-6-9-8-1zM661 1905l1 1 7-1-7-1zM539 1921l3 9 8 2 4-3 1-8-5-3zM578 1929l4 3 7-3-7-5zM309 1937l9 7 0-8zM354 1937l12 4 9-4-9-7-8 3zM756 1937l8 8-2 9 8 0-2-17-10-1zM377 1954l3 8 2 1 32 0 8 13 16-14 15 0-47-2-10-6-14-4zM730 1962l-12 10-3 6 3 6 8 1 16-9 16-1 2 3 0 8 6 6 21-14 0-8-5-3-8 0-8 4-8-16zM644 1978l-1 8 3 2 8 2 11-4 1-8-4-4-8-1zM819 1986l3 1 8-1-8-3zM1174 1994l4 8 21 8 0-8-11-8-7-3zM325 2002l-3 8 4 8 16-1 8-7-8-9-8-2-8 1zM589 2002l1 1 0-1zM1322 2002l3 2 6-2-6-5zM467 2010l1 8-6 6-23 10-1 8 8 2 24-1 24-8 8 2 8 6 4-1-4-16 7-8-7-8-32 8-6-8zM685 2010l1 9 11-1-3-9zM586 2018l4 5 5-5-5-6zM613 2018l1 0 4 0-4 0zM631 2018l-5 8 20 10 8 0 16-10-8-11-8-1zM782 2018l-5 8 13 2 1-2zM811 2026l3 1 1-1-1-2zM726 2034l-8 9 8 2 11-3-3-5zM1113 2034l3 8-2 16 3 1 8-3 7-22-7-6-8 0zM1260 2034l1 24 8 7 4-7-10-16 1-8-3-4zM338 2042l4 5 8 0 7-5-7-5-8 0zM402 2042l4 3 9-3-9-2zM547 2042l-1 8 11 16 9 2 9-2-22-24zM356 2058l2 9 8 1 6-10-6-8-8 1zM1093 2058l8 2 5-2-5-2zM1325 2066l-14 16 12 16 10 1 4-9-6-8 4-16-2-4zM311 2074l-6 8 5 7 16 2 5-9-5-8zM1154 2074l3 5 9-5-9-3zM795 2082l3 3 9-3-1-3zM1252 2082l-3 8 4 7 8 2 24-4 8-5-2-8-6-4-24-2zM385 2098l5 12 5 4 0 8-5 4-8 0-4 4 4 2 24 0 3-2-3-8-6-8 3-16-13-5zM470 2098l-8 6-16-2-8 1-1 3 4 8 5 4 8-2 8-7 20-3-4-8zM670 2098l0 12 8-1 0-3zM819 2098l-13 19-9 5 9 15 16-8 25-7-4-16-5-6-8-4zM1204 2098l1 3 2-3zM574 2106l-7 8-2 8-15 6-8 1-16-3-3 4 3 8 8 1 24-3 8-4 8-8 9-2 10-8-1-8-2-2-8 0zM915 2106l11 9 8 1 5-10-5-5-8-1zM1208 2106l5 3 10-3-10-3zM733 2114l1 1 1-1-1-1zM954 2114l-3 8 7 8 8 4 8-2 7-10-15-12-8 1zM1060 2114l2 2 3-2zM1121 2114l4 2 2-2-2-3zM1296 2114l-1 8 6 5 15-5-7-7zM682 2122l12 8 8 1 3-1 2-8-13-5-8 0zM767 2122l7 5 10-5-10-5zM1066 2122l12 14 9-6-2-12-7-4-8 3zM1186 2130l-5 8 8 8 16-4 8 6 0-11-8-1-8-6-8-2zM891 2138l-8 8 3 3 16 4 16-3 5 4 2 8 16 8 9 11 16-1 8-4 6-6 4-8-2-7-8 0-8 4-8-1-3-4 0-16-5-6-8-1-24 5-16-2zM1141 2138l-4 8 3 8 18 0-7-16-2-2zM318 2146l1 8 7 5 13-5 3-8-8-4-8 0zM708 2154l2 4 8-1 4-3-4-2zM761 2154l5 2 8-2-8-3zM1062 2154l8 3 2 5 6 3 7 2 10-5-20-8zM1245 2154l0 1 1-1-1 0zM413 2162l1 12 8 1 5-13-5-6-8 3zM476 2162l10 25-16 2-8 7 8 7 24-4 6-4-6-8 16-21 2-4-2-6-8 2-8 7-16-6zM566 2162l8 11 8 4 10-15-2-2-16-4zM1213 2162l11 17-5 16 6 8 4 2 16-8 16 8 14-2 1-8-7-11-24-4-14-10-1-8-9-4zM315 2170l-2 9 5 4 8 2 5-6-5-12-8-1zM371 2170l3 3 11-3-3-2-8 0zM737 2170l4 9 1 11 8 4 8-4 2-3-2-6-9-11-7-3zM1277 2170l8 5 11-5-11-6zM628 2179l2 1 1-1-1-2zM913 2179l5 8 2-8-2-4zM520 2187l6 12 18-4-4-8-6-3-8-3zM354 2203l4 6 8-3 2-3-10-4zM1004 2203l4 8 6 2 8-2-2-8-6-5-8 0zM1196 2203l-1 8 21 0-11-11-8 0zM694 2211l0 1 1-1-1-2zM924 2211l2 7 9-7zM908 2219l2 4 15-4-7-3zM324 2227l2 5 8 0 2-5-10-5zM676 2227l21 0-3-3-8-1zM790 2227l0-3zM873 2227l10 16 3 8 6-16-14-12zM1021 2227l-7 3-4 5 5 8 7 3 8-1 3-2-3-10zM1132 2227l1 2 8 2 3-4-3-5-8 1zM1217 2235l-4 8 8 1 12-9-4-3-8 0zM778 2251l6 0-2-2zM809 2251l5 4 5-4-5-7zM1067 2251l3 4 19-4-4-3-7-1zM1157 2251l-5 8 1 8 20 5 9-5-17-13zM893 2259l9 13 8 0 8-5-8-11-8-1-8 1zM1040 2259l6 6 21-6-5-4-16 1zM1228 2267l-8 8 1 4 8 1 10-5-2-9zM1328 2267l-8 8 5 9 8 0 3-1-1-16-2-6zM1259 2275l1 8 9 1 9-1 3-8-4-5-8-3zM748 2283l2 2 4-2-4-2zM937 2283l5 7 9-7-9-2zM756 2291l3 0-1-3zM817 2291l-3 9 8 4 6-5 1-8-7-2zM886 2291l-5 8 5 4 8-1 4-3 2-8-6-5zM1204 2307l1 4 8 0 2-4-2-5zM1221 2444l8 4 4-4-4-2zM669 2468l9 4 5-4-5-8zM755 2476l3 1 2-1-2-1zM1123 2476l0 8 2 1 2-9zM989 2484l8 8 13 0-4-16-8 2zM1237 2484l1 8 15 4 0-6-8-6zM827 2492l3 2 1-2zM1077 2492l8 5 16 1 6-6-14-4zM534 1447l9 0-9 5z"/>
<path fill-rule="evenodd" fill="#ddf8de" d="M382 1447l50 0-1 8-9 10-9 6-15 3-12-11-4-10-6-6zM494 1452l9 3 2 8-11 0-5-8zM566 1447l118 0-14 7-19 1-1 8 5 8-9 2-11-2 7-16-12-6-24 0-8 9-5 13 5 16 3 0-3 2-4 14 5 8-5 9-12 9-24 12-7 11-1 8 8 2 16-5 8-9 24-10 5-10-8-8 3-3 32-1 8 4-8 5-5 11 5 10 8 1 18-11 2-8 11-8 9-2 16 17 0 9 3 8 5 3 8 1 8-4 8-7 8-13 11 12-6 8-13 8-1 8 17 8 8 0 8-6 8 3 0 11 8 3 16-5 16 1 29-7-5-8-8 2-3-2-6-8 9-16 8-3 24 5 16-8 24 3 16-3 8 1 2 5-10 3-6 13 6 19 0-3 10-8 21-8 1-16 24-11 5-13-5-7-32-4-8-14 1-8 23-2 7-6-19-16 5-8-5-8 86 0-10 2-11 22 3 8 0 6-8 2-8-5-8-1-22 14 1 8 5 6 16-12 8-1 16 5 8 0 2-6 6-3 16-1 4-4 6-16-10-8-4-8 4-8 38 0 9 3 8 7 16 2 9 4 6 8-2 24 3 4 32-13 5 1 5 8-3 8 1 5 8 9 8 0 11-6 0-8-8-8 1-8 17-8-1-8-10-8 3-8 11-8 29 0 0 8-6 8-1 8 8 8 5 16 13 8 16-1 24 21 16 0 24 13 0 45-8 11 1 8 3 8 4 4 0 47-10 5-1 8 4 8 7 5 0 34-8-2-8-8-8 3 2 16-10 17 16 4 8 16 8 1 0 59-24 12-3 4 8 16-1 8 3 8-2 16-10 16 6 8 23 12 0 48-7 5 3 8-12 1-10 7-5 8-1 9-8-4-3-29-15-8 3-8 7-8-8-15-8-1-11 7-4 17-5 8-15 8-5 6-8-4-8-10-8-5-8 0-11 5 27 23 16-5 9 14-2 8-7 4-8 0-8-4-8-11-34-21-3-8 5-1 7-7-5-8-1-9 9-8-10-7-3 7 2 8-7 5-3 12-5 6-24 7-1 11 9 14 8 4 8-1 8 3 18 12-1 8-9 4-13-4-11-10-13 2-3 3-34-11-6-2-5-14-11-4-15-2-8 5-16 21-8-2-32-17-3-9 4-8-5-8-20-11-16-5-8 8 4 8-13 16 1 1 8 8 16-5 8 1 4 3 4 7 16 6 2 3-10 10-16-10-23 0 1 8 6 2 5 6 2 8-6 8-1 8 6 8-14 20-8 4-13-8-6-8-2-8 8-8 4-8 0-8-7-9-15-7-9-4-24-4-5 8-1 8 6 5 8 1 24-2 3 4-3 8-8 11-8 2-36-21 2-8-6-7-24 6-15-23 7-4 9-12 0-8-9-5-16-2-18-9 0-8 7-9 0-8-5-5-24-3-16-7-8 1-16-4-16 7-8 11 8 4 16-1 8 4 1 1-9 8-16 3-8 7-8-3-12-15 20-8-22-16 6-10 16-3 16 5 8-3 4-5 1-8 4-8 15-15 16 2 27-19-3-1-32 5-7 4-1 6-8-1-10-5-14-14-16-11-16 5-3 4 0 8-21 11-8 3-8-3-8 2-3 3 2 8 17 1 5 7-13 6-8 7-8-4-16 1-13-10 8-8-3-8-8-3-16 0-6-5 2-16 4-4 4-12-1-8 4-8 17-6 16 7 8-2 7 1-1 8 6 16 0 8-3 8 7 5 8 0 8-5 6-16-7-8-7-16 11-8 4-8-7-5-16-3-8 3-16-1-8 11-8-3-8-7-16 3-8-3-8-7-8-2-7 6-8 16-11 8-4 8 11 16-9 8 5 16-1 2-8-2-8-5-2-3 5-8-19-7-11 15-3 8 2 8-12 8 7 16-7 6-17 2-6 8 12 8-2 8-3 4-8 1-8-2-1-19-4-8-11-14-4-2 1-16-13 1-8-6-11-3 19-5 4-3 1-8-2-8-19-9-8 1-8 7-8 3-8-3-15 1 3 8-12 8-24-3-16-5-8 3-8 0 0-6 24-10 8-1 16 7 16-1 0-8-16-15-8-2-8 4-8-1-8-5-16 5 0-11 5-7-5-7 0-40 16-1 16-11 17-5-1-4-16-1-16 9-16 2 0-53 5 6-2 8 29 16 16-4 16 6 16-1 16 2 9-3-1-8-5-8-11-7-8 1-8 8-16 6-8-2-9-6-23-8 1-8 7-7 14-1-14-1-3-7 0-16 27-6 5-2 3-8-8-6-34-18 5-8-2-8 7-16-15-16 2-8 13-14 8 1 15 13-2 16 11 7 5-7-11-8 2-24 4-4 8 3 18 17 3 8-18 16-2 8 7 5 8 1 16 6 12-4 4-4 16 6 5-2 4-8-9-15-18-9 3-8-1-8-8-16 6-8 18 1 8 17 8 3 8-1 16 9 8-2 8-15 16 10 24 8 8 0 8-14 11-8-2-8 7-8 16-5 10-12-2-11 7-13-6-8-9-5-5-11 1-8zM973 1455l-1 8-5 8 7 6 8 0 5-6-2-8zM1076 1503l-1 8 3 3 4-3-4-8zM1261 1528l0 2 2-2zM1157 1536l8 2 1-2zM1266 1536l-5 13-5 3 16 0-3-19zM1233 1552l6 8 6 2 8-2 0-8-8-5-8-1zM577 1560l4 8-6 16 2 8 5 8 8 3 6-3 5-8-10-16-4-16-5-3zM618 1560l4 8 5 24 3 2 16-5 8 7 8 2 13-6 2-8-6-8-15-8-10-12-24-3zM1276 1560l2 8 15 11 7 13 3 16 6 5 4-5-1-8-7-8 20-15 0-14-8-4-16 4-16-7zM459 1576l-7 8-2 8 4 6 8 2 30-16-2-8-12-3-8-2zM706 1584l2 8 18 7 8-1 5-6-5-10-8-6zM909 1584l-7 7-16 8-16-2-8-5-16 5-4 3-1 8 5 4 16-8 8-1 8 5 12 0 12-6 8-7 3-11zM524 1592l4 8-3 16 12 0 9-8-1-8-4-8-7-5zM484 1616l-6 3-16-2-4 7 4 12 8 1 36-13-12-11zM668 1616l2 1 6-1-6-1zM679 1616l-1 8 8 4 16 17 12-13-7-8-1-8-4-7-8 1zM836 1616l2 4 2-4-2-3zM405 1624l-3 8-12 8-1 8 9 6 8-5 4-9 11-8 0-8-7-4zM780 1624l4 24-2 2-8-5-16 0-5 3-3 15-8-1-40-13-8 1-6 6-2 8 4 8 12 2 16-2-1 8-7 3-2 5 3 8 7 4 8 0 5-4-5-14-7-2 23-1 16-5 16 2 16 11 8 2 8-10 15-7 2-8-11-16-3-8-11-5-8-11-8-3zM1289 1632l7 8 13 2 11-2 3-8-14-8-16 3zM637 1648l9 16 6-8-6-9-8-1zM369 1656l-19 8 8 8 24-4 7-4-15-9zM828 1680l-3 8 5 2 5-2-1-8zM664 1720l6 7 10-7-10-2zM694 1720l8 5 8-5-8-4zM408 1728l6 4 9-4-9-3zM779 1728l3 2 2-2-2 0zM360 1753l-3 8-39 10-8 6 3 8 13 15 16 6 16-12 4-9-6-16 2-7 16-1 2-8-10-4zM764 1753l-3 8 5 1 1-9-1-2zM596 1769l2 6 2-6-2-5zM705 1769l-4 8 1 11-16 5 9 8 4 16 3 2 4-2 4-8-1-8 4-8 10-8 1-8-5-8-9-2zM438 1777l8 8 6-8-6-2zM661 1777l9 7 7-7-7-2zM382 1785l9 16-1 3-8 7-8-3-10 1-1 8 3 9 8 3 15-12 1-4 16 0 8 7 8 2 8 0 7-5-3-8-4-3-16 0-16-24-8-2zM1282 1785l-1 8 4 5 6 3-7 16 9 4 8-2 5-10-10-8 5-2 15-14-15-8-8 0zM777 1801l5 3 4-3-4-3zM494 1817l-3 8 11 8 0-8-8-10zM459 1849l-24 16 3 7 24-5 11-10-3-8zM1237 1849l-2 8 10 2 16-8 16 3 6-5-6-6-8 0-8 2-8-2-8 1zM845 1881l-1 8 2 2 8 2 6-4-6-8zM1266 1881l3 5 16 7 8 2 4-6-4-8-8-2-16-4zM1221 1889l0 2 8-1 1-1-1 0-8 0zM1172 1897l1 9 8 2 13-3 8-8-5-6-8 0zM793 1905l13 3 4-3-4-5-8-1zM1279 1905l-5 8-1 8 4 16 7-8 2-8 13-8-6-14-8 0zM1210 1921l-8 8 7 8 4 12 8 11 16-11 19-4-11-10-3-6 0-8-5-5-8-1zM1132 1937l1 1 1-1-1 0zM1309 1937l8 19 3-2 1-17-4-4zM921 1954l5 1 1-1-1-5zM853 1962l7 8 10 5 8 0 6-5-14-12zM875 1986l3 13 8 11 8-2 12-14-4-7-8-5-16 0zM718 1447l36 0 7 8-2 16 1 8 6 8 13 8-8 8-4 8 4 9-5 5-5-14-11-12-16-4-5-16-8-8 5-2 8 1 6-7-1-8zM806 1455l11 0 3 8-6 3-4-3zM846 1447l29 0 3 8 8 1 1 7-9 10-19-10zM886 1447l9 0-9 7-3-7zM1125 1447l27 0-11 14-8-2-11-12zM1277 1447l43 0 20 16-2 8-5 7-16 1-8 5-8 0-4-13zM926 1463l3 0-3 3-2-3zM1173 1462l8-2 7 3-7 15-8 0-3-7 1-8zM446 1471l12 16 10 8 10 15 16-1 13 2 3 6 4-6 12-7 8 5 7 11-15 4-16-3-16 6-8-10-8-3-8 6 0 9-8 4-8-2-13-11-3-19-10-22 10-6zM662 1477l8 2 8 15 10 1 14 6 16 1 10 9-2 4-8-1-8-5-16-2-5-4-3-6-21-2-5-16zM302 1486l0 4-8 4 0-14zM326 1487l10 0 6 19-8 3-11-6-6-8zM390 1486l9 1 1 8-10 4-3-4-2-8zM614 1487l8 3 5 5-5 7-19-7 5-8zM1341 1479l0 13-4-5zM654 1503l8-5 2 13-2 4-8 0-3-4zM846 1496l8 5 8 1 8-6 16 4 8 4 6 7 1 9-7 10-8 4-8-4-8-10-16 3-8 0-4-3-1-17zM861 1511l1 2 1-2-1-3zM798 1504l7 7-7 4-3-4zM926 1526l0 7-3-5zM782 1543l9 1 4 8-5 3-17-3zM302 1639l-2 9-6 8 0-23zM566 1805l8 1 4 3 2 8-3 8-11 2-8-2 3-16zM358 1864l8 2 3 7-9 8-10 2-3-10zM702 1861l19 12 0 16 4 8-7 7-8-2-2-5 3-8-2-8-3-8-9-8zM390 1880l4 1-4 3-3-3zM510 1876l29 5 11 24-16 9-5 7-2 8 3 8-4 6-8-8-2-6-18-8 8-8 18-8-3-8-14-16zM414 1892l5 5-5 2-8-2zM1333 1894l8 0 0 8-8 1-8-6zM350 1904l23 1-1 8-6 5-16 0-4-5zM598 1912l10 9-10 0-6-8zM406 1920l5 1-1 8-4 7-8 4-5-11 5-7zM654 1917l8 0 7 4-3 8 4 13 3 3-3 10-5 7-8 0 2-8 8-9-13-4-8 2-6 11-18 13-4-5-12-5-16 0-8-3 0-9 64-11 4-13zM298 1929l17 25-7 16 2 5 8-2 8-8 16 8 8-3 7 8-7 6-16-6-16 2-24-7 0-45zM334 1937l1 0-1 1 0-1zM406 1945l0 1 0-1zM478 1945l9 0 7 9 8 5 10-5 6-8 8 1 33 15-9 12-24 22-8 1-16-6-16-13-8-2-9-14 1-11zM390 1977l8-2 24 15 8 0 8-5 8 0 11 9-3 6-8 2-9 8 5 8-12 9-8 0-10-9 4-8-20-8-4-8 3-8zM622 1976l0 2-1 0zM686 1977l8-1 6 2-2 8-12 3-4-3 2-8zM742 1985l3 1-3 2zM310 1993l5 9-5 12-8 2-8-4 1-10 7-8zM790 1992l16-2 9 4 2 8-15 8-8 0-11-8 1-8zM630 2000l7 2-7 1-7-1zM710 1999l8 3-8 3-3-3zM366 2005l7 5-3 16-4 5-9-5 0-8zM758 2009l9 1-9 16 23 16-7 5-24-4-4-9 0-8-18-8zM1333 2010l8-3 0 6zM550 2012l8-1 8 2 9 13 3 8-4 4-50-12zM1277 2015l0 4-2-1zM1022 2025l16-2 7 3-10 16 4 8 7 5 24-2 8-2 15 21 17 10-1 16-8 12-31-6-14-6 1-8 4-8-3-8-4-5-24 0-7 5-3 8 12 8-10 9-8 2-3-3-1-8-4-4-27-4 5-8-2-8 2-8 10-8 1-8-6-8 9-1 8 3 8-3zM1019 2058l3 2 2-2-2-4zM1054 2025l5 1-5 1-5-1zM1085 2025l8-2 5 3-2 16-11 2-5-18zM310 2032l9 2 2 8-19 1-8 3 0-8 8 1zM598 2034l16-1 16 6 6 3 2 8-17 8-7 9-16 5-5-6 19-8 3-8-16-8zM694 2032l10 2-2 8-8 8 0 6-8 0-12-6 0-8 4-4zM1237 2032l3 2-3 6-7-6zM1309 2028l8 4 3 10-11 13-8 0-8-3-2-2 3-8zM1333 2036l8-1 0 14-8-2-6-5zM430 2049l16 9-8 21-8 2-8-2-8 8-8 2-14-7-1-8 23-4 5-4 3-11zM462 2049l20 9-4 6-8 1-24-7zM574 2047l9 3-9 1zM662 2056l8 0 2 2-10 3-2-3zM726 2058l8 0 5 8 1 8-15 0-6-8zM838 2057l8-4 16-1 12 14-4 8-8 0-24-15zM1173 2055l5 3-5 3-2-3zM1205 2057l8 4 16 1 8-5 8-2 1 11-17 4-16 0-3 4 0 8-13 3-8-1-2-2 12-8 6-8-3-8zM302 2062l24 1 16-3 3 6-3 8-16-7-24 1-7-2zM534 2059l8 4 8 9 7 2 9 8-8 5-8-3-4 6 20 5 2 3-10 5-8 11-16-8-24 2-6-2-8-8 14-19 19-5zM766 2065l16-3 4 4 1 8-5 3-8 11-16 10-2-16 2-8zM1141 2061l5 5-5 11-8 8-4-3-2-8zM295 2082l3 8 8 8-12 22zM342 2075l14 7 9 8-7 2-16-5zM622 2082l16-7 10 7-10 6-8 1zM902 2079l8-1 4 4 1 8-5 3-8-1-3-10zM1229 2079l8 2 1 9-9 6-9-6zM1341 2081l0 1 0 1 0-1zM686 2089l16 9-6 8-3 0-9-8-3-8zM1141 2087l11 3 13 10 8-5 8 0 5 3 2 8-13 16-2 11-8 4-8-4-16-21-7-14zM790 2097l10 1-1 8-9 2-4-2 0-8zM1301 2093l8 0 4 5-4 7-8-1-6-6zM374 2106l1 0-1 0zM414 2104l8 2 5 8 10 8 1 6 16 0 16-11 6 5-6 7-4 1 4 8-8 4-5 12-3 2-8-5-8 0-7-5 7-5 0-7-16-5-3-7 1-8-6-6zM750 2103l8-5 11 8-11 12-8-4zM886 2105l8 0 26 17-10 4-16-3-28 7-4 32 1 17-6 8-3 2-16-6-32 14-8 10-8 0-8-4-11-24 3-7 16 2 24-5 8-14 19-9-1-8 22-14 8-12zM982 2104l5 2-5 3-8-3zM1325 2106l16-6 0 19-8-1-5-4zM990 2114l8-1 1 1-1 1-8-1zM1030 2121l8-1 8 3 17 15-17 15-16-15-8-2-5-6zM1101 2117l8 1 5 4 1 16-22 10-2-2zM302 2123l10 7-5 8 1 8-6 7-8 4 0-18zM630 2130l11 16-11 11-16 8-6 5 5 9 1 8-4 8-12 4-8 0-4-4 4-3 8-17 6-5 2-20 16-19zM742 2129l8 1 5 8-13 13-5-21zM1229 2130l24-2 24 5 8-3-2 8-14 7-8 1-16-6-14-2zM358 2138l16 6 16-3 16 3 4 2-12 23-4-7-12-7-8 0-8 6-16 25-8-2-7-14 2-8 12-8zM478 2136l9 2-9 2-8-2zM710 2138l3 0-3 2-4-2zM1014 2137l2 1 1 8-3 5-8-1-7-4 7-7zM1325 2136l16 6 0 12-16-2-4-6 1-8zM694 2145l8-4 4 5-12 10-5-2zM1293 2144l5 2-5 9-3-9zM1173 2154l9 0-11 25-6 3-18-3-1-9 19-6zM670 2162l16-4 1 4-5 8 10 9 10 3 10-12 6-2 5 2 4 9-4 8 6 8-3 10-8 2-16-15-16 3-8-13-16-6-8-6zM886 2162l8-2 9 2-5 17 4 8-8 4-10-4 0-25zM1030 2162l8-2 5 2-5 8-8-5zM1117 2161l5 1-5 1zM1261 2162l4 8-4 3-11-3 3-6zM302 2167l3 3-7 17 3 8-7 3 0-34zM438 2165l8-1 8 5 10 1 1 9-11 5-8 11-12 0-3-8 0-8zM542 2167l8-1 8 3 2 1-1 9-9 2-9-2-3-9zM998 2165l16 2 6 3-6 13-8 3-19-7 4-9zM1317 2165l24 0 0 34-8 0-7 4-6 8 0 8 3 8-6 2-7-2-8-8 4-8-13-11-6-13 22-12zM398 2172l7 15-3 8 4 4 19 4 0 8 5 2 14 14-5 8 1 8 14 5 16 1 18-14-4-8-14-3-9-5 9-8 24 2 8-5 8-1 4 4 5 16 7 3 7-3 17-16 16 6 16 0 11 18 5 2 8-2 6 8 3 8-10 32 7 8 2 9 1-9 7-4 16-19 14-9-3-8 29-13 16 1 4 4 1 8-26 16-3 9-7 7 31 12 16-5 24 1 8 5 6 11-27 8 5 12 8 4 16-1 4-7 5-16 17-8-4-16 9-16 17-11 4 3 3 8-4 16-7 16-1 8 5 6 16 7 24 3 5-8-4-8 0-8 9-24-2-6-16-2-5-8 5-7 8-2 16 16 16-12 13 13-4 16-17 8-1 8 10 8 15 10 32-7 7 5 1 8 8 2 32-4 16 3 16-10 8-1 24 0 16 7 18-5 14-8 15 5 16-2 11-3 29-24 8-1 4 9-2 8 6 4 5-4 4-16 31-13 6 13-2 8-22 24-1 8 3 2 32 5 16 0 8 2 8 8 16 4 12-21 4-2 24 1 4 1-2 8 18 8 12 2 0 97-8-4-3-6-2-16-3-2-8 0-8 4-20 6-10 24-10 2-16 4-7-6-9-14-8 2-18 12 3 8 13 8-7 8-7 4-16-10-8-1-24 3-6 4 2 8 14 8 0 8-18 4-6 4-21 0 8-8 3-8-2-8-14-13-16 0-1-3 1-9 16-1 14-6-6-6-24 3-4 3-20 19-1 5 2 8-8 5-24-1-16-7-8 17-8-1-4-5 0-8 7-8-2-8-9-14-8-5-8-1-16 6-7 6-2 8 5 8-4 7-24-9-8-8-24-9-8 1-6 2-8 8-23 16-3 5-4-13-4-3-24-8-16 2-24-4-2 13-6 6-8 1-36-15 1-8-5-1-16 2-8-1-8 20-8 2-7-6 0-8-4-8-13-13-5 5-14 24 11 18 6 6 2 8-376-1-8-5 1-10 4-8-5-3 0-217 8 8 8 2 8-3 16 9 8-3 2-10-4-8 7-16 11-11 16-5 8-14 8 1 11 13-7 16 12 13 8 0 10-5 3-8-5-8-1-8-7-7-18-9-14-2-8-4-10-10 28-8zM501 2251l-7 1-7 7 15 3 8-1 3-2-3-5zM386 2259l4 2 10-2-2-3-8 0zM565 2267l1 4 4-4zM547 2275l3 2 13-2-5-2zM672 2315l6 6 7-6-7-5zM1130 2323l3 6 26-6-26-5zM871 2331l7 7 9-7-9-3zM733 2339l11 0-2-2-8-2zM1125 2347l1 0-1 0zM605 2460l-3 8 4 2 10-2 2-8-4-4zM627 2476l3 4 5-4-5-2zM1062 2175l8-2 20 6 5 8-10 7-7-2-20-13zM966 2186l16 1 2 16 17 24-1 8 9 16 0 8-6 8-5 2-20-10-7-8 6-8-2-8-21-16 6-24zM1181 2183l8-4 8 8-16 4-6-4zM566 2194l8-1 7 2-2 8-13 4-5-4zM638 2191l8-1 9 5-9 8-8-2-5-6zM326 2201l16-3 0 14-8 3-6-4-7-8zM678 2201l2 2-2 2zM1038 2202l8 1 9 8-5 8 4 1 17-1 14-12 8-1 6 5-1 8-17 8-2 8-9 7-16 4-8-3-5-8 2-8-2-8-3-3-2-5zM1125 2202l0 9-2 0zM766 2209l8 4 1 6-9 4-3-4zM846 2210l8-3 8 4-8 8zM622 2215l6 4-14 16-3-8zM638 2217l8-4 5 6-5 5-13-5zM814 2218l16-3 3 4-11 10zM310 2225l6 10-6 3-8-2 3-9zM1109 2223l8-4 8 16 10 8 3 8-5 6-16-4-7 6 1 8-2 2-8 2-4-4 11-8-1-8-8-8 2-8zM1165 2224l16 5 8 0 8-5 8-1 6 4-22 10-8 10-8 0-10-4-2-8zM758 2233l8 2-8 3-6-3zM1269 2234l24 3 22 14 5 8-27 4-8-11-16-5-4-4 1-8zM742 2236l5 7-2 8 5 8-4 8-12 4-8 6-8-1 7-9-1-8 10-15zM926 2251l16-5 8 1 8 4 4 8-11 8-9-1-14-7zM1022 2258l1 1-1 4-2-4zM1189 2253l8-1 6 7-6 5-8-3-2-2zM1046 2280l8-4 16 0 8 17 7 6-7 8-32-5-4-3-2-8zM1253 2290l10 1-5 8-5 2-3 6 9 16-6 4-8-1-1-11-15-6-2-2-1-8 3-5 8-2 8 1zM1253 2457l21 11-5 6-8 0-8-4-2-2 0-8zM718 2480l8-2 5 6 3 8 9 8-26 0zM862 2483l8 8 3 9-31 0 4-5zM894 2483l8-3 8-1 24 9 8-10 16 10 16 1 8 9 16 2-58 0-6-5-7 5-47 0 6-5zM758 2492l8-1 0 1-8 0-1 0zM1317 2484l9 8-5 8-6 0-5-8zM1062 2498l8 2-13 0zM1213 2494l9 6-11 0z"/>
<path fill-rule="evenodd" fill="#c6f4c8" d="M390 1449l16 3 5 3-1 8-12 5-8-5-2-8zM574 1447l22 0-1 8-5 8-8 3-8-4-6-7 1-8zM646 1447l4 0-4 2-3-2zM750 1455l2 8-2 4-2-4zM990 1447l10 0 6 3 5 5-4 8-1 2-7-2-1-8-16-8zM1054 1448l20-1 0 8-12 11-8-2-4-9zM1133 1447l13 0-5 4-8 0-4-4zM1301 1450l16 1 8 5 11 7-3 6-8 5-16 1-11-12-4-8zM1109 1463l8 1 7 7 1 8-8 7-8 0-12-7-3-8zM1213 1457l8 2 5 4-5 7-8-2-5-5zM742 1479l2 8-2 1zM1070 1476l8-1 6 4-6 11-10 5-4 8 1 8 6 17-4 8 3 9 8-4 7-9 24 0 5-4-13-7-7-10-2-8 9-6 8 1 12 13 12 5 16-10 8 2 2 3-4 9-17 16 27 21 8 3 10 0 5-8-3-8 9-16 3-4 8 2 5 10 7 8-4 5-21 3-1 8 14 3 16-1 9 6-2 8 1 3 8 2 11 11 5 1 8-1 16-9 8 6 4 11-4 4-16 8-21 4-15 16 4 6 8 5 24-16 4 13-5 16 15 8 2 6 8 0 2-14 6-5 8 1 7 4 4 8-3 14-3 2-21 2-8-7-8 7-16-2-8 7-1 9 2 8 21 16 10 5 16 0 8 3-14 17 1 8 21 4 3 4-2 8-9 1-16-2-16 3-4-2 1-16-13-5-6 5-1 16-11 8 2 14 5 2-5 0-14 16 14 11 19-11-10-16 7-4 8 1 5 11 0 8-4 8 1 8-26 3-14 5-2 9-16 2-16 26-8-1-3-4-5-12-6 4-7 24-6 8-1 24-4 8-24 0-24 9-16 48-8 3-8-3 3-8-1-8-9-10-9 2 2 16-5 8-4 2-8-3-6-7-1-8 4-33-5-1-21 1-12 8 0 8-7 4-40-4-8 4-40-29-14 9-2 9-8 0-3-9-5-3-16 8-8-2-4-11 4-8 8-4 16 1 6-5-1-8-5-10-8-2-16-17-8 3-14 10-2 14-8-2-14-20 14-4 13-12-5-6-4-10 2-8-1-16 7-8-9-8 2-8-3-24-10-3-8 9-8 4-8-3-5-7-1-8 3-16 23-17-20-15-32 7-8 6-12-6-1-8 5-8 8-2 8 2 8-3 0-5-17-8 9-2 16 1 16 17 8-1 16-8 24 6 16-14 8-1 4-6-4-4-17-4-16-16-4-8 5-5 16-4 8-17 16 5 24-3 32-13 6-19 2-17 8 0 0 6-5 3 13 6 16-6 9-8-15-16 0-8 25-16 5-10 8-5 8-4 16 3 8-2 8-7 2-8 14-8zM1030 1528l0 8 8 0 22-8-14-6zM859 1656l3 9 8-4 2-5-10-2zM821 1737l11 0-2-2zM1249 1737l4 5 6-5-6-8zM851 1745l3 4 1-4zM845 1769l1 0 1 0-1-1zM1183 1825l6 12 9-4 6-8-7-5-8 0zM1220 1825l1 2 0-3zM844 1833l6 16-4 8 8 4 8-7 5-13-4-8-9-7-8 1zM1072 1905l-1 8 7 8 21 0-4-8-10-7-7-3zM1229 1478l8 9-7 8 1 8 6 8 13 0 1 9-6 4-8 2-6-6-2-7-16-4-9-14 2-8zM454 1493l8 10-3 8-5 2-5-10 1-8zM950 1493l5 2-5 5-7-5zM1277 1517l11 3 19 24-5 8-11 0-15-32zM862 1552l16-2 8 6 8 1 7 11-1 8-6 6-8 4-4-2-8-8-13-8-3-8zM486 1555l10 5-10 6-5-6zM438 1567l8-4 11 5-19 18-7-10zM678 1566l8-4 4 6-4 5zM606 1569l4 7-4 2-3-2zM558 1582l8 5 2 5-2 9-10-9-2-8zM790 1598l10 2-10 3-6-3zM334 1605l24 6 16-1 14 14 1 8-15 9-8 1-8-4-16-13-20-9 4-6zM718 1607l11 1-3 3-8 0zM638 1612l20 12 2 8 7 8-5 7-30-23-1-8zM1325 1613l10 3-2 3-8-1zM534 1624l8-2 22 10 10 14 5 2 11 0 8-5 24 3 8 9 0 4-16-1-3 14 3 14 8 0 8-4 8-8 10 6-14 8-20 4-1 4 7 8 3 8-2 8-7 4-24 2-16-1-16 2-32-8-12 1-8 8 3 9 14 8-2 8-7 8-12 3-3 5-1 8-4 4-8 1-6-5 6-23 8 4 6-5-14-1-24-19-9 4 1 8 5 8-5 6-8 2-8-2-9-14 11-17 2-8 16-8 0-8-7-8 3-8 8-4 24 16 24 2 17-6-1-8-32-3-7-5 1-8 6-6 24 0 8 6 32-7 5 7-1 8-17 8-2 8 4 8 19 8 5-8 0-8 4-8 7-8 0-8-8-12-8-6-8-1-6-5-10-3-13-13zM483 1720l3 5 10-5-2-2-8 0zM758 1623l8-1 1 2 3 8-4 4-8-1-4-3zM430 1636l8-2 8 3 1 3-9 11-8 2-8-2-3-3 4-8zM494 1637l16-1 4 4 0 8-4 6-8 1-16-7 2-8zM1341 1640l0 11-8 1-3-4zM358 1679l8 2 3 7-11 11-3-3-2-8 3-8zM398 1688l8-1 16-6 8 1 10 6 2 8-4 5-8 1-24-1-10-5 0-8zM1285 1694l4 2-4 2-4-2zM646 1726l31 27 3 8-10 5-8 1-19-6 5-16-2-4-9-4 2-9zM382 1735l6 2-6 5-3-5zM558 1739l27 6-2 16-35 24-14 22-14 10-2 4-7-20 6-16 17-21 17-3 6-8-2-8zM326 1756l1 5-3 0zM622 1760l8 3 6 6-2 8-12 7-8-2-4-5 4-13zM734 1767l8 2-8 0zM414 1774l8-3 14 22-6 3-8 0-6-3-4-8zM1325 1792l8 1 8 21 0 4-8 4-8 1-8-6-1-16zM374 1799l5 2-6 0zM454 1814l16 0 3 3-11 4-4 4 3 8-3 8-12 5-7-5 2-8 9-8zM678 1816l2 1-2 1zM606 1824l8 1 7 8-7 16 8 8-8 2-5-2-9-16zM734 1829l8-2 9 6-9 11-9-3-4-8zM1245 1870l9 3-9 4-5-4zM774 1898l3 7 14 8 1 8-18-2-6-6zM830 1900l20 5-20 8-3-8zM1333 1928l8 3 0 27-12-13 0-16zM296 1937l11 17-5 10-8 1 0-30zM1149 1943l8 1 4 10-4 5-8 2-8-7zM1237 1960l8-3 8 5-8 6-8 2zM1022 1977l11 9-3 5-11-5zM1309 1985l1 1-1 0zM854 1991l8 3 3 8-11 7-8 0-6-7 6-8zM1038 1992l2 2-5 0zM926 2000l8-3 2 5-10 3-2-3zM1173 2017l6 1-6 1zM1078 2071l4 3-4 3-3-3zM518 2090l4 0 2 8-11 0zM1085 2085l11 5-3 6-8-2-5-4zM1038 2129l3 1-3 3-4-3zM1325 2170l8 0 8 3 0 16-8 2-14-4-1-8zM366 2232l7 3 6 8-6 8-2 8 5 8 6 3 8 0 16-5 24-16 9 2 7 8-8 8 3 8 21 8 16-10 8-2 16 4 24-5 21 21 3 9 8 2 16-6 16 0 5 3 2 8-5 8 6 8 8-10 8-1 23 3-7 3-6 13 8 8 6 3 8 2 40-11 8-10 20 8 2 8-2 8 7 8 13 2 16-5 16 5 5-2 27-26 8-3 16 5 32 1 5 15 11 3 24-3 40-13 19 5 5 7 16-10 32-13 21 8 3 12 8 0 8-12 8-1 5 1-5 16 8 5 8 2 15-8 24 8 16 2 8-6 5-11 3-2 8-1 8 3 8 11 16 2 14-5-4-8 6-4 32 9 5 3 3 9 16-6 8 3 7 2 9 10 15-2 1-4 32 10 16-3 0 45-24-8-32 11-10 6-6 10-6-2 1-8-11-8-24 12-24 17-8 3-16-3-9 3-7 8-8 2-7-2 5-8-2-8-12-7-24 3-8-3-39 6 13 9 1 8-9 8 1 8-4 8-2 0-8 0-7-8 4-8-5-9-16-15-16 2-24-11-13 9-11 4-8 13-8 3-16-8-26-4-22-9-8 2-16 10-8 2-8-2-5-3 8-8-3-8-8 0-8-5-8 0-16 1-16 13-16-16-22 7 2 8-4 3-16-2-8 4-16 0-16-4-8-12-8-6-8 1-16 9-9 7 0 8-15 6-8-2-2-4 2-9-8-4-16 1-6 4 0 16-18 20-8-3-6-9-10-4-3 4 6 16-3 8-8 6-8 1-16-7-24-5-32 14-16 0-16-5-16 9-8-1-32-14-3 10-5 7-35 1-15-16 11-8 1-8-10-3-8 0-14-5-10-11 0-125 26-17-2-14-8 3-8-3-1-2 1-2 8-2 8 4 8 0 8-8 16-8 9-40zM352 2299l6 5 13-5-13-8zM807 2347l7 6 4-6-4-2zM953 2412l-17 8 6 5 8 2 9-7 3-8zM737 2420l5 12 3-4-1-8zM1169 2428l4 1 2-1zM1062 2233l4 2-8 0zM526 2241l4 2-4 2zM558 2250l9 1-9 5zM550 2259l1 0-1 0zM598 2256l2 3-2 4-3-4zM990 2252l3 7-4 0zM1189 2283l10 0 1 8-3 3-8 2-3-5zM1054 2290l8-3 2 4-2 2-8-1zM670 2297l3 2-3 2-2-2zM1109 2322l8 6 2 3-10 5-6-5 3-8zM1285 2336l8-1 7 4-1 8-6 8-8-5-2-11zM1333 2347l5 0-5 1-5-1zM774 2445l6 7-1 8-5 3-8-3 0-8zM606 2481l10 3-2 4-8 6-6-2 2-8zM302 2489l6 3-6 0z"/>
<path fill-rule="evenodd" fill="#b0f0b3" d="M398 1455l2 0-2 4-2-4zM574 1453l3-6 8 0 5 8-8 5-8-4zM1309 1455l21 8-5 5-8 2-8-3-4-4zM1101 1543l8 2 24 11 3 12 5 3 16 0 8 5 8 9 8 17 8 4 12-6 0-16 4-7 8 2 8 10 3 11 9 8-4 9-24 8-9 7-5 8 6 12 8-1 16-10 8 7-3 16 15 24-4 8-8 4-8 1-2 3 3 8 18 8 3 8-3 9 1 8 5 8 1 8-2 3-8 4-16-7-9 8-1 8 18 8 4 8-12 10-24 1-4-3-4-11-8-4-1 7 5 16-10 8-5 8 4 8 0 8-15 8-9 16-9 8-8 5-40 7-8 7-47 11-3 10-5 5-40 1-7-6-1-11-8-2-8 7-3-2-1-8-7-8-13-4-16 11-16 2-16-3-6-6-10-19-6-5 12-32-4-24 6-7 2-9-2-3-8-1-7 4-9 11-7-19 7-7 8-3 8 0 8-6 0-8-6-8 5-16-6-33 7-6 9-2 6-24 15-16-3-8-10-8-3-8 10-6 24-6 6-4-1-8 3-2 16-3 8-8 6-3 18-2 14-6 2-7 16 2 8 7 8-2-1-8-9-8-1-8 3-10 8-2 8 5 8 12 8 3 8-9 23-7zM1185 1777l4 4 4-4zM931 1873l3 12 8-12-8-7zM982 1550l8-2 3 4-3 9-14-1 2-8zM542 1631l2 1-2 1-1-1zM870 1638l16-3 6 5-2 8-4 4-8-2-8-8-8-2zM510 1678l2 2-3 0zM606 1710l3 2-3 2-4-2zM838 1717l8-3 6 6-6 7-13-7zM830 1751l4 2-4 3-5-3zM1109 1903l9 2-9 4-4-4zM1141 1905l1 0-1 0zM926 1911l8 0 2 2-2 4-8-2zM958 1913l2 8-2 3-9-3zM974 1936l8-1 2 2-2 2zM1085 1934l10 3-4 8-6 3-3-3-3-8zM1341 1937l0 11-3-3zM295 1954l-1 0 0-3zM1333 2178l0 2-3-1zM390 2283l2 0-2 1-2-1zM518 2281l8 1 10 9 3 16-1 8 4 4 32-5 7 9 25 17 40 10 16-1 8 2 8 7 8 2 16-1 16 5 8 0 24-5 16 3 16-5 8 0 32 6 16-8 8 6 8 0 56-9 8 3 8 7 8 3 32-4 16 4 4-2 4-7 8 3 48-3 16 3 23 8 24-5 16-1 15-6 9-9 3 9 29 3 16-2 8-7 8-2 19 16 13 8 8 3 32 1 10 4-4 8-22 17-16 1-16 10-16 5-8 7-8 1-4-8-4-1-24 0-16 4-8 0-16-6-24-1-16 9-23-2-16 4-16-3-24 3-24-10-11-13-5-4-32 4-16 12-24 4-48-4-16-5-8 0-8 4-16 4-24-8-24 6-24-3-8 4-8 11-8-3-15-14-9-3-40 17-42 2-12 8-2 9-8 5-24-5-8 2-6 5-1 8 7 8 2 8-10 5-24-12-8-7-8-1-16 10-8-6-8 0-4 3 1 8-3 8-10 1-16-11-8 0-24 4-8-3-9-7-23-8-16 1-16-7-16-1-12-9-12-3 0-109 16-13 24-11 32 2 29-11 3-12 8 2 16-6 16 6 8-1 16 10 8-3 8-8 24 3zM942 2346l0 3-2-2zM1317 2376l24-4 0 32-24-10-16 5-5-3 10-9 5-8zM926 2435l3 1-3 1-6-1zM478 2475l1 1-1 0-1 0zM350 2481l15 3-6 8-9 2-8-2 4-8z"/>
<path fill-rule="evenodd" fill="#99eb9d" d="M1093 1559l8-1 9 2 5 8-6 8-2 8 2 2 8 2 16-6 16-2 17 12 6 8 2 8 9 8 3 8-3 8 2 16 10 24 10 16-1 8 3 16-10 7-1 18-4 8-14 8-3 8 1 8-11 16 0 8 3 8-3 4-16 1-8 6 0 8 12 13-9 16-1 8-10 7-8 2-16-7-16 1-5 5-8 16-10 7-24-2-16-9-8 0-16 16-8-1-8-7-16 0-8-2-8-8-7-10-17-6-8 4 1 18-3 8-14 6-8-1-8-4-7-9-2-16 16-24 17-7 16-1 1-8-9-7-24-2-6-7-1-8 4-16-5-8 5-24 11-1 4-7-4-8-8-3-8-6-4-8 1-8 11-2 5-6 3-10 24-30 2-16 21-24 2-8 6-8 11 0-8 8 9 8 1 8-15 8 4 8 7 4 8-5 8-15 27-16 5-11 16-6 21-15 6-8 18-8zM923 1688l11 12 4-4 2-8-6-3-8 0zM1003 1865l11 2 1-2zM982 1599l11 1-3 4-8 0-3-4zM1221 1726l10 2-2 19-8 2-5-4 1-17zM1205 1760l0 1zM1014 1903l8-6 4 8-4 5-10-5zM422 2295l32 14 32-3 3 9 5 2 24-1 16 14 48 4 16 13 24 2 40 8 16 8 16 2 16 6 40-9 16 2 16-2 48 8 16-1 24-9 40-3 40 24 9-4-1-8 24 5 24-10 24-5 24 0 24 11 15 3 48-14 48 1 24-5 8 6 0 11 32 9 8 1 9-5 4 8-13 5-32 20-16-1-56 7-40-11-16-12-8-3-8 4-3 8 2 8-30 6-40 2-16-6-16-21-8-3-16 4-16-1-19 19-21 4-40-4-32-12-24 1-8 4-40 7-32-4-16 1-16-6-8-1-32 15-56 7-16 11-32 3-24 12-48 2-24 9-24-2-10 9-14 3-16-10-24-9-16-2-48-15-8 1 0-97 24-14 8 1 24-9 24-4zM518 2296l8 1 0 2-8 1zM1333 2379l6 0 1 8-7 4-8-4z"/>
<path fill-rule="evenodd" fill="#82e787" d="M1078 1583l9 1 14 11 32-1 29 6 15 48 13 32-1 6-8 3-4 7 1 24 6 8 0 9-15 16-3 8 0 8-9 16-18 8-9 16-6 24-10 8-5 3-16 0-15-5-8 1-15 9 0 8-9 7-8-1-8-8-48-1-6 3-1 8 7 8-8 1-4-9-12-8-2-8 14-8 8-8-1-8-11-9-16 1-16-9-24 0-6-7 6-6 24-4 8-6-8-12-10-20 3-25 8-8 13-24 1-8-7-8 0-8 8-8 0-10 8-1 16 9 8-2 8-14 8-8 32-21 24-21zM934 1841l7 8-15 3-4 5 1 24-5 8-8 3-8 0-8-6-6-13 1-8 5-5 8-7 16-4 8-8zM390 2312l16-3 24 7 16 8 24-8 16 8 24 0 24 13 40 4 16 8 40 5 24 7 40 13 16 9 8-1 8-8 32-6 32 5 16 6 3 8-11 4-8 8-32 10-24-4-16-8-16 2-16-2-40 18-48 4-64 18-80 14-24-1-8 4-8 9-8 0-8-5-39-14-57-15-8 1 0-87 8-1 16-9 16-3 16-8 24-3zM862 2368l16-3 32 0 20 14 2 8-7 17-7 6-24 2-32-3-13-5-19-16-4-1zM1014 2368l40-4 28 15 1 8-13 19-24 8-32 1-16-8-12-20 4-8zM1125 2370l16-5 24-1 40 3 12 20 0 9-8 8-12 6-40 5-8-2-24-9-20-17 4-8z"/>
<path fill-rule="evenodd" fill="#6ce371" d="M1078 1599l15 8 16-6 24 4 24 17 7 10 8 24 1 16-5 16-1 24-3 8-10 8-3 9 11 8-6 24-7 9-8 2-8 5-16 19-13 5-3 8 0 16-16 0-15-7-32 12-16 1-16-3-8 2-8-13-16-15-21-9 6-16-18-32-2-16 2-9 5-8 9-24 3-16 8-7 16-4 16-22 24-17 18-6 14-17zM910 1855l8 6 3 12 0 8-10 8-9 0-9-8-2-8 3-9 8-6zM398 2315l8 0 40 14 24-4 24 7 16 1 16 7 24 3 40 11 40 4 63 21 9 8-16 4-40 19-32 5-16 0-64 17-80 13-24 0-24 9-104-31-8 1 0-76 24-10 31-7zM870 2369l32-1 12 3 9 8 2 8-6 17-9 4-16 2-24-2-16-7-7-5-4-9 7-8zM1022 2369l24-2 16 3 11 9 2 8-3 9-8 8-18 6-24 1-16-4-8-9-4-11 6-8zM1133 2370l32-4 32 5 9 8 4 8-2 9-8 8-11 4-32 4-8-3-24-13-6-9 1-8zM734 2376l16-4 16 1 16 6 7 8-5 9-19 8-7 2-16-2-16-8-4-9 6-8z"/>
<path fill-rule="evenodd" fill="#55de5b" d="M1062 1613l16-3 15 11 8-2 8-9 8-2 8 8-5 8 5 5 17 3 6 8 1 8 12 16-2 16 2 16-9 24-5 8-5 33-9 10-36 30-8 16-4 3-7-6-8-1-24 13-8 1-8-2-6-8-10-6-8-1-8 4-8 1-7-6-12-16-8-16-15-40 15-41 10-16 9-4 8-7 16-19 40-21zM902 1861l8-2 8 10 0 12-8 6-8-1-6-5-2-7 3-9zM398 2323l8-1 40 11 24-3 32 10 40 5 32 10 63 8 41 16 4 8-28 15-32 9-28 1-60 16-64 7-16 5-24 1-24 7-64-15-40-17-8 0 0-62 32-15 40-7zM878 2371l32 2 7 6 3 8-2 11-5 6-11 3-24-1-16-5-9-5-3-9 12-11zM1030 2371l24 0 8 3 6 5 2 8-3 9-11 8-10 3-16 1-21-4-8-8-1-9 14-11zM1141 2371l32-2 24 7 7 11-2 9-13 9-32 3-8-2-15-10-7-9 0-8zM742 2379l16-3 8 1 5 2 7 8-5 9-15 6-8 1-16-6-5-10 5-5z"/>
<path fill-rule="evenodd" fill="#3eda46" d="M1062 1623l8-2 23 8 16 0 41 35 3 8 1 24-9 16-1 8-13 41-6 6-8 2-8 7-5 9-19 12-39 15-32-13-16-3-16-10-9-9-3-16-10-24-1-9 9-24 30-38 16-14 16-6zM902 1864l8-1 6 10-2 8-4 3-11-3-3-8zM382 2331l24-4 40 9 32-1 24 9 40 5 24 8 72 11 30 11 5 8-19 11-32 9-32 2-56 16-104 12-24 6-8-1-56-12-40-19-8-2 0-49 24-14 48-10zM1165 2371l30 8 5 8-3 9-8 5-32 4-17-9-8-9 0-8 9-5zM870 2376l24-2 16 4 5 9-1 9-4 5-8 3-24 0-8-3-10-5-4-9 6-8zM1022 2376l16-3 16 1 9 5 2 8-3 9-15 8-24 0-16-8 0-9 7-8zM742 2385l16-4 9 6-6 9-11 2-10-2-4-9z"/>
<path fill-rule="evenodd" fill="#28d530" d="M1070 1631l39 8 21 17 15 16 1 16-10 24 1 8-4 16-8 17-8 7-8 3-10 14-24 16-29 6-8-1-40-11-14-10-4-8-3-16 1-8-2-8-7-9 3-8 27-48 7-6 12-10 20-8 9-8zM902 1869l8-1 3 5-3 8-8-2-2-6zM374 2339l16-6 16-2 40 8 32 0 24 9 40 4 24 8 72 12 17 7 10 8-43 16-24 1-64 17-64 7-64 12-64-13-40-21-8-1 0-39 24-15 32-9zM878 2378l16-1 11 2 5 8 0 9-8 5-8 1-16-2-11-4-6-9 9-7zM1022 2379l24-3 11 3 3 8-4 9-10 4-16 1-15-5-1-9zM1141 2377l24-3 8 1 15 4 7 8-6 10-32 5-8-4-12-11 0-8z"/>
<path fill-rule="evenodd" fill="#11d11a" d="M1054 1644l16-4 39 10 12 6 13 16 3 8-7 24-1 24-12 17-39 37-32 10-8-1-43-14-6-8-2-8-1-8 3-8-7-17 1-8 23-48 16-11 16-5zM390 2337l16-2 40 7 32 2 24 7 40 5 24 7 72 15 14 9-30 11-32 4-56 16-64 8-64 10-48-8-16-4-40-23-8-2 0-28 32-18 24-8zM894 2379l8 4 3 4-3 10-8 1-16-2-9-9 17-7zM1038 2379l9 0 7 6 0 4-8 8-8 1-12-2-6-9 10-7zM1149 2378l24-1 7 2 9 8-5 9-27 2-15-11 3-8z"/>
<path fill-rule="evenodd" fill="#23d117" d="M1070 1648l15 3 31 13 3 8 0 16 3 8 1 24-6 8-12 9-7 16-20 17-40 10-32-5-9-6-3-8 5-16-3-8-6-9 10-24 10-16 2-8 10-9 19-7 13-11 8-4zM406 2339l136 20 48 12 40 13 5 3-19 9-18 1-64 18-128 19-56-10-39-20-17-14 0-12 24-17 32-13zM1165 2379l8 2 10 6-10 6-16 0-8-5 0-2 8-6zM886 2385l8 0 4 2-4 7-8-2-5-5zM1030 2386l8-2 9 3-9 6-8-3-2-3z"/>
<path fill-rule="evenodd" fill="#35d114" d="M1070 1656l15 1 24 15 3 32 0 16-18 17-5 16-11 6-40 11-26-1-8-8 4-16-1-8-5-9 6-24 21-24 25-13zM382 2346l24-5 24 3 104 16 56 14 26 13-82 25-128 19-8-1-56-12-32-20-7-11 1-8 5-8 17-10 24-10z"/>
<path fill-rule="evenodd" fill="#48d212" d="M1070 1670l8-5 7 0 12 7 4 6 1 18-4 16 0 8-20 28-11 5-29 5-16-2-4-3-1-16-4-9 0-16 3-8 28-24zM390 2347l16-3 32 3 88 15 56 13 10 4 10 8-20 9-48 13-128 20-8-1-56-13-24-15-11-13 2-8 7-8 18-11 24-8z"/>
<path fill-rule="evenodd" fill="#5ad20f" d="M1070 1678l15-2 8 4 2 8-5 16-2 16-18 20-24 5-12 0-4-3-7-14-2-16 3-8 23-16zM406 2347l32 2 32 8 56 7 56 15 10 8-19 9-47 12-120 19-48-9-16-5-25-17-6-9 3-8 8-8 20-12z"/>
<path fill-rule="evenodd" fill="#6cd20c" d="M1070 1690l8-1 2 7-2 20-16 14-16 2-7-4-9-16 6-8 10-2 8 1 8-4zM374 2355l32-6 32 2 40 9 48 7 48 12 9 8-21 9-44 11-112 17-8-1-48-9-17-10-17-17 3-8 15-13 16-7z"/>
<path fill-rule="evenodd" fill="#7fd209" d="M382 2355l24-4 32 2 40 10 48 6 35 10 11 8-62 18-80 14-24 3-8-1-48-10-13-7-17-17 3-8 19-14z"/>
<path fill-rule="evenodd" fill="#92d108" d="M390 2355l16-2 32 2 40 10 40 5 30 9 11 8-52 17-77 13-24 3-40-7-16-4-19-13-6-9 3-8 8-8 14-7z"/>
<path fill-rule="evenodd" fill="#a6d006" d="M406 2355l32 2 48 12 32 3 20 7 6 8-18 9-30 8-82 13-8 1-48-9-13-5-9-8-7-9 3-8 18-12z"/>
<path fill-rule="evenodd" fill="#b9cf05" d="M382 2361l24-5 32 3 48 12 32 5 11 3 6 8-17 8-32 8-80 13-56-12-17-17 3-8 12-8z"/>
<path fill-rule="evenodd" fill="#cdce03" d="M382 2363l24-5 32 3 48 13 32 5 9 8-41 14-80 13-49-10-14-8-6-9 3-8 10-6z"/>
<path fill-rule="evenodd" fill="#e1cd02" d="M390 2363l16-3 32 3 64 16 14 8-30 11-80 15-48-11-11-6-7-9 5-8 5-3z"/>
<path fill-rule="evenodd" fill="#f4cc00" d="M398 2363l8-1 32 3 49 14 14 8-15 9-40 9-40 6-8-2-40-10-6-3-8-9 6-8z"/>
<path fill-rule="evenodd" fill="#f8bf00" d="M382 2370l24-6 24 2 49 13 12 8-17 9-68 13-48-13-9-9 5-8z"/>
<path fill-rule="evenodd" fill="#fab200" d="M390 2369l16-3 32 4 34 9 10 8-36 13-40 7-41-11-11-9 7-8z"/>
<path fill-rule="evenodd" fill="#fda500" d="M398 2370l8-2 31 3 27 8 11 8-29 11-40 7-8-1-25-8-13-9 9-8z"/>
<path fill-rule="evenodd" fill="#ff9700" d="M406 2370l32 4 17 5 14 8-23 9-40 8-8-2-30-15 9-8z"/>
<path fill-rule="evenodd" fill="#ff8400" d="M390 2377l16-5 16 1 25 6 15 8-24 8-32 6-18-5-13-9z"/>
<path fill-rule="evenodd" fill="#ff7100" d="M398 2377l8-3 16 1 18 4 13 8-47 12-12-3-12-9 8-8z"/>
<path fill-rule="evenodd" fill="#ff5d00" d="M398 2379l8-3 16 1 10 2 12 8-38 10-19-10z"/>
<path fill-rule="evenodd" fill="#ff4a00" d="M406 2378l16 1 7 8-23 7-13-7z"/>
<path fill-rule="evenodd" fill="#ff3700" d="M406 2382l12 5-12 4-7-4z"/>
<path fill="none" stroke="#888888" stroke-width="4.2" stroke-linejoin="round" d="M432 1447l-1 8-9 10-9 6-7 3-8 0-8-5-4-6-4-10-6-6M684 1447l-6 5-8 2-8-1-11 2-1 8 5 8-9 2-11-2 7-16-12-6-24 0-8 9-5 13 5 16 3 0-3 2-4 14 5 8-5 9-12 9-24 12-7 11-1 8 8 2 16-5 3-5 5-4 24-10 5-10-8-8 3-3 32-1 8 4-8 5-5 11 5 10 8 1 3-3 15-8 2-8 11-8 9-2 16 17 0 9 3 8 5 3 8 1 8-4 8-7 7-9 1-4 2 4 9 8-6 8-13 8-1 8 17 8 8 0 8-6 8 3 1 3-1 8 8 3 16-5 16 1 29-7-5-8-8 2-3-2-6-8 9-16 8-3 24 5 7-2 9-6 24 3 8 0 8-3 8 1 2 5-10 3-6 13 6 19 0-3 10-8 14-4 7-4 1-16 24-11 3-5 2-8-5-7-24-1-8-3-8-14 1-8 7-2 16 0 7-6-19-16 5-8-5-8M754 1447l7 8-2 16 1 8 6 8 13 8-8 8-4 8 4 9-5 5-5-14-3-1-8-11-16-4-5-16-8-8 5-2 8 1 6-7-1-8-5-4-8 0-9-4M875 1447l3 8 8 1 1 7-9 10-19-10-14-16M895 1447l-9 7-3-7M1032 1447l-10 2-8 20-3 2 3 8 0 6-8 2-8-5-8-1-8 7-8 2-6 5 1 8 5 6 16-12 8-1 16 5 8 0 2-6 6-3 16-1 4-4 6-16-10-8-4-8 4-8M1084 1447l9 3 8 7 16 2 9 4 6 8 0 16-2 8 3 4 32-13 5 1 5 8-3 8 1 5 8 9 8 0 11-6 0-8-8-8 1-8 17-8-1-8-10-8 3-8 11-8M1152 1447l-11 14-8-2-11-12M1242 1447l0 8-6 8-1 8 8 8 5 16 5 5 8 3 16-1 24 21 16 0 16 10 8 3M1320 1447l20 16-2 8-5 7-16 1-8 5-8 0-4-13-21-24M294 1480l9 7-1 3-8 4M1341 1492l-4-5 4-8M1341 1536l0 11M1341 1581l-3 3-5 8 1 8 3 8 4 4M294 1633l9 7-3 8-6 8M1341 1659l-10 5-1 8 4 8 7 5M294 1690l5 6-2 8 21 13 8 3 16-4 16 6 16-1 16 2 8-2 0-9-5-8-11-7-8 1-8 8-8 4-8 2-8-2-9-6-23-8 1-8 7-7 14-1-6-1-8 0-3-7 0-16 27-6 5-2 3-8-8-6-34-18 5-8-2-8 7-16-15-16 2-8 13-14 8 1 8 9 7 4-2 16 3 4 8 3 5-7-11-8 2-24 4-4 8 3 18 17 3 8-18 16-2 8 7 5 8 1 2 2 14 4 12-4 4-4 16 6 5-2 4-8-9-15-18-9 3-8-1-8-8-16 6-8 18 1 8 17 8 3 8-1 16 9 8-2 5-11 3-4 3 4 13 6 16 4 8 4 8 0 8-14 11-8-2-8 7-8 16-5 10-12-2-11 1-5 6-8-6-8-9-5-5-11 1-8M1341 1719l-8-2-8-8-8 3 2 16-10 17 16 4 8 16 8 1M294 1730l0-6M294 1754l8-2 8 1 15-8 1-3 17-5-1-4-16-1-5 5-11 4-16 2M294 1808l5-7-5-7M1341 1825l-24 12-3 4 8 16-1 8 3 8-2 16-6 8-4 8 6 8 23 12M294 1846l24-10 8-1 16 7 16-1 0-8-16-15-8-2-8 4-8-1-8-5-16 5M1341 1902l-8 1-8-6 8-3 8 0M294 1928l4 1 4 8 13 17-2 8-5 8 2 5 8-2 8-8 16 8 8-3 7 8-7 6-16-6-16 2-24-7M1341 1973l-7 5 3 8-12 1-10 7-5 8 0 8-5 0-4-3-1-5-2-24-15-8 3-8 7-8-8-15-8-1-11 7-4 17-5 8-15 8-5 6-8-4-8-10-8-5-8 0-11 5 27 23 16-5 9 14-2 8-7 4-8 0-8-4-8-11-34-21-3-8 5-1 7-7-5-8-1-9 9-8-10-7-3 7 2 8-7 5-3 12-5 6-24 7-1 11 9 14 8 4 8-1 8 3 9 4 9 8-1 8-9 4-13-4-11-10-13 2-3 3-34-11-6-2-5-14-11-4-15-2-8 5-16 21-8-2-8-6-16-5-8-6-3-9 4-8-5-8-20-11-16-5-8 8 4 8-13 16 1 1 8 8 16-5 8 1 4 3 4 7 8 4 8 2 2 3-2 4-8 6-16-10-23 0 1 8 6 2 5 6 2 8-6 8-1 8 6 8-14 20-8 4-8-3-5-5-6-8-2-8 8-8 4-8 0-8-7-9-8-2-7-5-9-4-24-4-5 8-1 8 6 5 8 1 24-2 3 4-3 8-8 11-8 2-16-11-20-10 2-8-6-7-16 6-8 0-15-23 7-4 9-12 0-8-9-5-16-2-8-6-10-3 0-8 7-9 0-8-5-5-24-3-16-7-8 1-16-4-16 7-4 3-4 8 8 4 16-1 8 4 1 1-9 8-16 3-8 7-8-3-12-15 20-8-22-16 6-10 16-3 16 5 8-3 4-5 1-8 4-8 15-15 16 2 8-7 8-4 11-8-3-1-16 4-16 1-7 4-1 6-8-1-10-5-14-14-5-2-11-9-16 5-3 4 0 8-21 11-8 3-8-3-8 2-3 3 2 8 17 1 5 7-13 6-8 7-8-4-16 1-13-10 5-3 3-5-3-8-8-3-16 0-6-5 2-16 4-4 4-12-1-8 4-8 17-6 11 6 5 1 8-2 7 1-1 8 6 16 0 8-3 8 7 5 8 0 8-5 4-8 2-8-7-8-7-16 11-8 4-8-7-5-8-3-8 0-8 3-16-1-6 6-2 5-8-3-8-7-16 3-8-3-8-7-8-2-7 6-1 5-7 11-11 8-4 8 11 16-9 8 5 16-1 2-8-2-8-5-2-3 5-8-19-7-7 7-4 8-3 8 2 8-12 8 7 16-7 6-8 0-9 2-6 8 12 8-2 8-3 4-8 1-8-2-1-3 0-16-4-8-11-14-4-2 1-16-5-1-8 2-8-6-11-3 11-1 8-4 4-3 1-8-2-8-19-9-8 1-8 7-8 3-8-3-15 1 3 8-12 8-8-3-16 0-8-4-8-1-8 3-8 0M294 2004l8-10 8-1 5 9-5 12-8 2-8-4M1341 2013l-8-3 8-3M294 2038l8 1 4-5 4-2 9 2 2 8-19 1-8 3M1341 2049l-8-2-6-5 6-6 8-1M294 2081l4 9 8 8-12 22M1341 2083l0-2M1341 2119l-8-1-5-4-4-8 9-2 8-4M294 2139l8-16 10 7-5 8 1 8-6 7-8 4M1341 2154l-16-2-4-6 1-8 3-2 16 6M294 2164l8 3 3 3-7 17 3 8-7 3M1341 2199l-8 0-7 4-6 8 0 8 3 8-6 2-7-2-8-8 4-8-13-11-4-5-2-8 22-12 8-10 8-2 16 2M294 2256l8 8 8 2 8-3 16 9 8-3 2-10-4-8 7-16 11-11 8-1 8-4 3-8 5-6 8 1 11 13-7 16 12 13 8 0 10-5 3-8-5-8-1-8-7-7-18-9-14-2-8-4-10-10 10-5 18-3 6-7 7 15-3 8 4 4 16 2 3 2 0 8 5 2 14 14-5 8 1 8 14 5 16 1 18-14-4-8-14-3-9-5 1-4 8-4 16 2 8 0 8-5 8-1 4 4 5 16 7 3 7-3 9-11 8-5 8 1 8 5 16 0 4 10 7 8 5 2 8-2 6 8 3 8-10 32 7 8 2 9 2-1-1-8 7-4 16-19 14-9-3-8 29-13 8-1 8 2 4 4 1 8-26 16-3 9-7 7 31 12 8-4 8-1 24 1 8 5 6 11-27 8 2 8 3 4 8 4 16-1 4-7 5-16 17-8-4-16 9-16 9-8 8-3 4 3 3 8-4 16-7 16-1 8 5 6 16 7 8 2 16 1 5-8-4-8 0-8 4-16 5-8-2-6-16-2-5-8 5-7 8-2 16 16 16-12 13 13-4 16-17 8-1 8 25 18 32-7 7 5 1 8 8 2 16-1 16-3 16 3 8-3 8-7 8-1 16 1 8-1 16 7 18-5 14-8 15 5 24-4 16-10 16-15 8-1 4 9-2 8 6 4 5-4 0-8 4-8 31-13 6 13-2 8-22 24-1 8 3 2 32 5 16 0 8 2 8 8 16 4 12-21 4-2 16 2 8-1 4 1-2 8 18 8 12 2M1341 2438l-8-4-3-6-2-16-3-2-8 0-8 4-20 6-10 24-10 2-16 4-7-6-9-14-8 2-18 12 3 8 13 8-7 8-7 4-8-3-8-7-8-1-24 3-6 4 2 8 14 8 0 8-18 4-6 4M294 2486l5-10-5-3M308 2500l-6-1-8-5M327 2500l-7 0M551 2500l-1 0M717 2500l-1-16 2-4 8-2 5 6 3 8 9 8M842 2500l4-5 16-12 8 8 3 9M880 2500l6-5 8-12 8-3 8-1 24 9 8-10 8 3 8 7 16 1 8 9 16 2M940 2500l-6-5-7 5M1057 2500l5-2 8 2M1130 2500l8-8 3-8-2-8-14-13-16 0-1-3 0-8 25-4 6-4-6-6-24 3-4 3-20 19-1 5 2 8-8 5-24-1-16-7-8 17-8-1-4-5 0-8 7-8-2-8-9-14-8-5-8-1-16 6-7 6-2 8 5 8-4 7-8-2-16-7-8-8-24-9-8 1-6 2-8 8-23 16-3 5-4-13-4-3-24-8-16 2-16-4-8 0-2 5 0 8-6 6-8 1-36-15 1-8-5-1-16 2-8-1-8 20-8 2-7-6 0-8-4-8-13-13-5 5-3 8-11 16 11 18 6 6 2 8M1211 2500l2-6 9 6M1315 2500l-5-8 7-8 9 8-1 4-4 4M494 1452l9 3 2 8-11 0-5-8zM806 1455l11 0 3 8-6 3-4-3zM974 1455l-2 8-5 8 7 6 8 0 5-6-2-8zM926 1463l3 0-3 3-2-3zM1173 1462l8-2 7 3-7 15-8 0-3-7 1-8zM446 1471l12 16 10 8 2 6 8 9 16-1 13 2 3 6 4-6 4-1 8-6 8 5 7 11-15 4-16-3-16 6-8-10-8-3-8 6 0 9-8 4-8-2-8-5-5-6-3-19-5-14-5-8 10-6zM662 1477l8 2 8 15 10 1 14 6 16 1 4 1 6 8-2 4-8-1-8-5-8-3-8 1-5-4-3-6-8-1-8 1-5-2-5-16zM326 1487l8-1 2 1 7 16-1 3-8 3-11-6-6-8zM390 1486l9 1 1 8-10 4-3-4-2-8zM614 1487l8 3 5 5-5 7-19-7 5-8zM654 1503l8-5 2 13-2 4-8 0-3-4zM846 1496l8 5 8 1 8-6 16 4 8 4 6 7 1 9-7 10-8 4-8-4-8-10-16 3-8 0-4-3-1-17zM1078 1503l-3 8 3 3 4-3zM798 1504l7 7-7 4-3-4zM862 1508l0 5 0-5M926 1526l1 2-1 5-3-5zM1261 1527l0 3 2-2zM1157 1535l8 3 1-2zM1269 1533l-3 3-1 8-4 5-5 3 13 1 3-1 0-8zM782 1543l9 1 4 8-5 3-8 0-9-3zM1237 1546l-4 6 4 7 8 3 8-2 0-8-8-5zM582 1557l-5 3 4 8-6 16 2 8 5 8 8 3 6-3 5-8-10-16-4-16zM622 1553l-4 7 4 8 5 24 3 2 16-5 8 7 8 2 13-6 2-8-6-8-15-8-10-12zM1277 1558l1 10 15 11 7 13 3 16 6 5 4-5-1-8-7-8 13-8 7-7 0-14-8-4-16 4-4-3-12-4zM462 1574l-10 10-2 8 4 6 8 2 30-16-2-8-20-5zM710 1583l-4 1 2 8 18 7 8-1 5-6-5-10-8-6-16 7M910 1583l-8 8-16 8-8 1-8-3-8-5-16 5-4 3-1 8 5 4 16-8 8-1 8 5 8 1 8-3 11-6 7-8 1-8-3-1M526 1590l-2 2 4 8-3 16 12 0 9-8-1-8-4-8-7-5zM486 1615l-8 4-8-3-8 1-4 7 1 8 3 4 8 1 36-13-12-11zM670 1615l-2 1 2 1 6-1zM686 1614l-7 2-1 8 8 4 5 4 3 6 8 7 2-5 10-8-7-8-1-8-4-7-8 1zM838 1613l-2 3 2 4 2-4zM406 1622l-4 10-12 8-1 8 9 6 8-5 4-9 11-8 0-8-7-4zM782 1621l-2 11 4 16-2 2-8-5-16 0-5 3-3 15-8-1-40-13-8 1-6 6-2 8 4 8 12 2 16-2-1 8-7 3-2 5 3 8 7 4 8 0 5-4-5-14-7-2 23-1 16-5 16 2 16 11 8 2 8-10 15-7 2-8-11-16-3-8-11-5-8-11-8-3M1293 1627l-4 5 4 6 16 4 11-2 3-8-14-8zM638 1646l3 10 5 8 6-8-6-9zM374 1655l-16 4-8 5 0 2 8 6 24-4 7-4zM830 1679l-5 9 5 2 5-2-1-8zM670 1718l-6 2 6 7 8-4 2-3zM702 1716l-8 4 8 5 8-5-8-4M414 1725l-6 3 6 4 9-4zM782 1728l-3 0 3 2 2-2zM366 1749l-6 4-3 8-39 10-8 6 3 8 13 15 8 4 8 2 8-4 8-8 4-9-6-16 2-7 8 1 8-2 2-8-2-2zM766 1751l-5 10 5 1 1-9-1-2M598 1764l-2 5 2 6 2-6zM710 1767l-5 2-3 4-1 4 2 8-1 3-16 5 9 8 4 16 3 2 4-2 4-8-1-8 4-8 10-8 1-8-5-8-9-2M438 1777l8 8 6-8-6-2-8 2M662 1776l0 3 8 5 7-7-7-2zM390 1780l-8 5 9 16-1 3-3 5-5 2-8-3-10 1-1 8 3 9 8 3 15-12 1-4 16 0 8 7 8 2 8 0 7-5-3-8-4-3-16 0-5-5-3-9-5-7-11-5M1285 1781l-3 4-1 8 4 5 6 3-7 16 9 4 8-2 3-2 2-8-5-6-5-2 5-2 15-14-15-8-8 0zM782 1798l-5 3 5 3 4-3zM566 1805l8 1 4 3 2 8-3 8-11 2-8-2 3-16zM494 1815l-3 10 3 4 8 4 0-8-8-10M462 1848l-27 17 3 7 24-5 11-10-3-8-8-1M1237 1848l-2 9 10 2 7-2 9-6 16 3 6-5-6-6-8 0-8 2-8-2-8 1zM358 1864l8 2 3 7-9 8-10 2-3-10 3-4zM702 1861l19 12 0 16 4 8-7 7-8-2-2-5 3-8-2-8-3-8-9-8zM390 1880l4 1-4 3-3-3zM510 1876l29 5 11 24-16 9-5 7-2 8 3 8-4 6-8-8-2-6-6-4-12-4 8-8 18-8-3-8-8-8-6-8zM846 1881l-2 8 2 2 8 2 6-4-6-8zM1269 1875l-3 6 3 5 8 2 8 5 8 2 4-6-4-8-24-6M1221 1889l0 2 9-2zM414 1892l5 5-5 2-8-2zM1173 1896l-1 9 9 3 13-3 8-8-5-6-8 0zM350 1904l8-1 15 2-1 8-6 5-8 1-8-1-4-5zM798 1899l-5 6 13 3 4-3-4-5zM1285 1899l-11 14-1 16 4 8 7-8 2-8 13-8-6-14zM598 1912l10 9-2 2-8-2-6-8zM406 1920l5 1-1 8-4 7-8 4-5-11 5-7zM654 1917l8 0 7 4-3 8 4 13 3 3-3 10-5 7-8 0 2-8 8-9-13-4-8 2-6 11-18 13-4-5-12-5-16 0-8-3 0-9 40-5 24-6 4-13zM1213 1920l-8 4-3 5 7 8 4 12 8 11 16-11 19-4-11-10-3-6 0-8-5-5-8-1zM334 1937l1 0-1 1 0-1zM1133 1937l-1 0 1 0M1309 1937l2 8 6 11 3-2 1-17-4-4zM406 1945l0 1 0-1zM478 1945l9 0 7 9 8 5 10-5 6-8 8 1 33 15-9 12-24 22-8 1-16-6-16-13-8-2-9-14 1-11zM926 1949l-5 5 5 1 1-1-1-5M854 1960l-1 2 7 8 10 5 8 0 6-5-14-12zM390 1977l8-2 8 7 16 8 8 0 8-5 8 0 8 4 3 5-3 6-8 2-9 8 5 8-12 9-8 0-10-9 4-8-20-8-4-8 3-8zM622 1976l0 2-1 0zM686 1977l8-1 6 2-2 8-4 2-8 1-4-3 2-8zM742 1985l3 1-3 2zM878 1982l-3 4 1 8 3 8 7 8 8-2 12-14-4-7-8-5zM790 1992l16-2 9 4 2 8-15 8-4 1-4-1-11-8 1-8zM630 2000l7 2-7 1-7-1zM710 1999l8 3-8 3-3-3zM366 2005l7 5-3 16-4 5-9-5 0-8 8-8zM758 2009l9 1-3 8-6 8 16 9 7 7-7 5-24-4-4-9 0-8-18-8zM550 2012l8-1 8 2 9 13 3 8-4 4-16-3-16-6-8 1-10-4 18-8zM1277 2015l1 3-1 1-2-1zM1022 2025l8-3 8 1 7 3-10 16 4 8 7 5 24-2 8-2 3 7 12 14 17 10-1 16-8 12-16-5-15-1-14-6 1-8 4-8-3-8-4-5-24 0-7 5-3 8 12 8-10 9-8 2-3-3-1-8-4-4-24-2-3-2 5-8-2-8 2-8 10-8 1-8-6-8 9-1 8 3 8-3zM1054 2025l5 1-5 1-5-1zM1085 2025l8-2 5 3-2 16-11 2-5-18zM598 2034l8-2 8 1 16 6 6 3 2 8-17 8-7 9-8 4-8 1-5-6 19-8 3-8-16-8zM694 2032l10 2-2 8-8 8 0 6-8 0-8-3-4-3 0-8 4-4zM1237 2032l3 2-3 6-7-6zM1309 2028l8 4 3 10-11 13-8 0-8-3-2-2 3-8zM430 2049l16 9-8 21-8 2-8-2-8 8-8 2-14-7-1-8 23-4 5-4 3-11zM462 2049l20 9-4 6-8 1-24-7zM574 2047l9 3-1 1-8 0zM662 2056l8 0 2 2-10 3-2-3zM726 2058l8 0 5 8 1 8-6 1-9-1-6-8zM838 2057l8-4 16-1 12 14-4 8-8 0-24-15-2-1zM1022 2054l-3 4 3 2 2-2zM1173 2055l5 3-5 3-2-3zM1205 2057l8 4 16 1 8-5 8-2 1 11-9 1-8 3-16 0-3 4 0 8-13 3-8-1-2-2 12-8 6-8-3-8zM302 2062l24 1 16-3 3 6-3 8-16-7-24 1-7-2zM534 2059l8 4 8 9 7 2 9 8-8 5-8-3-4 6 4 3 16 2 2 3-10 5-8 11-16-8-24 2-6-2-8-8 14-19 19-5zM766 2065l8-3 8 0 4 4 1 8-5 3-8 11-16 10-2-16 2-8zM1141 2061l5 5-5 11-8 8-4-3-2-8zM342 2075l14 7 9 8-7 2-16-5-1-5zM622 2082l16-7 10 7-10 6-8 1zM902 2079l8-1 4 4 1 8-5 3-8-1-3-10zM1229 2079l8 2 1 9-1 3-8 3-9-6zM686 2089l16 9-6 8-3 0-9-8-3-8zM1141 2087l11 3 13 10 8-5 8 0 5 3 2 8-13 16 0 8-2 3-8 4-8-4-8-13-8-8-7-14zM790 2097l10 1-1 8-9 2-4-2 0-8zM1301 2093l8 0 4 5-4 7-8-1-6-6zM374 2106l1 0-1 0zM414 2104l8 2 5 8 3 1 7 7 1 6 16 0 16-11 6 5-6 7-4 1 4 8-8 4-3 4-2 8-3 2-8-5-8 0-7-5 7-5 2-3-2-4-16-5-3-7 1-8-6-6zM750 2103l8-5 8 4 3 4-11 12-8-4zM886 2105l8 0 26 17-10 4-16-3-8 4-16 1-4 2-4 32 1 17-6 8-3 2-16-6-8 2-24 12-8 10-8 0-8-4-11-24 3-7 16 2 24-5 8-14 19-9-1-8 22-14 8-12zM982 2104l5 2-5 3-8-3zM990 2114l8-1 1 1-1 1-8-1zM1030 2121l8-1 8 3 17 15-17 15-16-15-8-2-5-6zM1101 2117l8 1 5 4 1 16-22 10-2-2 7-24zM630 2130l7 8 4 8-11 11-16 8-6 5 5 9 1 8-4 8-12 4-8 0-4-4 4-3 1-5 7-12 6-5 2-20 16-19zM742 2129l8 1 5 8-10 8-3 5-4-13-1-8zM1229 2130l24-2 24 5 8-3-2 8-14 7-8 1-16-6-8 1-6-3zM358 2138l16 6 16-3 16 3 4 2-12 23-4-7-12-7-8 0-8 6-16 25-8-2-7-14 2-8 12-8zM478 2136l9 2-9 2-8-2zM710 2138l3 0-3 2-4-2zM1014 2137l2 1 1 8-3 5-8-1-7-4 7-7zM694 2145l8-4 4 5-12 10-5-2zM1293 2144l5 2-3 8-2 1-1-1-2-8zM1173 2154l9 0-9 16-2 9-6 3-16-2-2-1-1-9 19-6zM670 2162l16-4 1 4-5 8 10 9 10 3 5-3 5-9 6-2 5 2 4 9-1 5-3 3 3 1 3 7-3 10-8 2-16-15-16 3-8-13-16-6-8-6zM886 2162l8-2 9 2-1 8-4 9 4 8-8 4-10-4 0-25zM1030 2162l8-2 5 2-5 8-8-5-2-3zM1117 2161l5 1-5 1zM1261 2162l4 8-4 3-11-3 3-6zM438 2165l8-1 8 5 8 0 2 1 1 9-11 5-8 11-12 0-3-8 0-8zM542 2167l8-1 8 3 2 1-1 9-9 2-9-2-3-9zM998 2165l16 2 6 3-6 13-8 3-16-5-3-2 4-9zM1062 2175l8-2 20 6 5 8-10 7-7-2-11-5-9-8zM966 2186l8-1 8 2 2 16 10 16 7 8-1 8 9 16 0 8-6 8-5 2-20-10-7-8 6-8-2-8-21-16 1-8 4-8 1-8 4-8zM1181 2183l8-4 8 8-16 4-6-4zM566 2194l8-1 7 2-2 8-13 4-5-4zM638 2191l8-1 9 5-1 3-8 5-8-2-5-6zM326 2201l16-3 0 14-8 3-6-4-7-8zM678 2201l2 2-2 2zM1038 2202l8 1 9 8-5 8 4 1 17-1 14-12 8-1 6 5-1 8-17 8-2 8-9 7-8 4-8 0-8-3-5-8 2-8-2-8-3-3-2-5zM1125 2202l0 9-2 0zM766 2209l8 4 1 6-1 2-8 2-3-4zM846 2210l8-3 8 4-8 8zM622 2215l6 4-9 8-5 8-3-8zM638 2217l8-4 5 6-5 5-13-5zM814 2218l8-3 8 0 3 4-11 10-4-2zM310 2225l6 10-6 3-8-2 0-6 3-3zM1109 2223l8-4 8 16 10 8 3 8-5 6-16-4-7 6 1 8-2 2-8 2-4-4 11-8-1-8-8-8 2-8zM1165 2224l8 1 8 4 8 0 1-2 7-3 8-1 6 4-22 10-8 10-8 0-10-4-2-8zM758 2233l8 2-8 3-6-3zM1269 2234l24 3 22 14 5 8-19 4-8 0-8-11-16-5-4-4 1-8zM742 2236l5 7-2 8 5 8-4 8-12 4-8 6-8-1-1-1 8-8-1-8 7-8 3-7zM502 2251l-8 1-7 7 7 3 8 0 8-1 3-2-3-5zM926 2251l16-5 8 1 8 4 4 8-4 5-7 3-9-1-14-7zM390 2256l-4 3 4 2 10-2-2-3zM1022 2258l1 1-1 4-2-4zM1189 2253l8-1 6 7-6 5-8-3-2-2zM566 2266l-1 1 1 4 4-4zM550 2274l-3 1 3 2 13-2-5-2zM1046 2280l8-4 16 0 5 7 3 10 7 6-7 8-32-5-4-3-2-8zM1253 2290l10 1-5 8-5 2-3 6 9 16-6 4-8-1-1-11-15-6-2-2-1-8 3-5 8-2 8 1zM678 2310l-6 5 6 6 7-6-7-5M1133 2318l-3 5 3 6 8-3 16-1 2-2-10-3zM878 2328l-7 3 7 7 9-7-9-3M734 2335l0 5 10-1-2-2-8-2M1125 2347l1 0zM606 2458l-4 10 4 2 10-2 2-8-4-4zM1253 2457l21 11-5 6-8 0-8-4-2-2 0-8zM630 2474l-3 2 3 4 5-4zM758 2492l8-1 0 1-8 0-1 0zM592 1447l1 8-3 5-8 4-8-4-4-5 1-8M1070 1447l0 8-8 8-8-4-2-4 6-8M1144 1447l-3 2-9-2M294 1938l11 16-3 6-8 2M1341 1955l-10-10 0-8 2-5 8 1M1341 2182l-2 5-6 2-8-3-4-7 4-6 8-1 8 5M294 2327l8-7 21-13 3-8 7-8 9-6 4 6 1 8 9 8 10-1 13-7-9-8-15-8 1-24 2-6 8 1 4 13 4 3 16 3 16-2 16-13 8-5 6 6-3 8 1 8 4 4 8 2 16 7 16-11 8-2 8 4 8 1 16-5 8 0 9 8 7 8 2 8 6 6 8 3 4-1 4-1 8-6 8-2 3 1 6 8-4 8 4 8 7 4 8 5 16 4 4 3 20 8 32-7 6 15 2 1 16-7 10 6 14 4 8 0 16-4 16 4 22-12 10-12 8-5 4 1 4 6 16-3 16 2 4 3 4 15 40-4 24-6 16-8 8 0 5 3 11 16 8-2 8-10 16-8 3-4 13-4 15 4 0 8 4 8 5 3 16 0 24 7 15-6 16 5 24 2 8-4 8-15 8-1 16 16 24 0 11-7 5-7 16 4 6 3 3 8 15 10 9-2-3-8 2-1 7 1 6 8 11 5 24-2 24 5 16-3M1341 2409l-24-9-16 7-16 1-8 6-8 1-3-3-5-2-8 0-24 12-19 14-13 3-5-3 0-8-3-3-8-1-16 1-8 4-24-5-8 5-8 0-8-4-16 5-23 0-16 4-16-5-16 5-8-1-16-8-8 1-8 7-11 3-5 10-8 7-8-6-8-2-16-1-21-8 5-6 8-2 16 1 16 4 8-4 16-17-8-4-24 2-14 10-2 7-16-1-24 2-6 8-10 5-4-5 1-8-5-5-24-5-24 4-16 8-8-10-8-3-24 5-16-4-8 0-3 2 0 8 4 8-9 2-16-3-8-5-8-10-8-5-8 2-23 11-9 7-8 1-8-6-8-1-16 2-9 5 1 8-3 8-13 12-20-12-9 0-3 8 5 8 2 8-7 10-8 2-24-12-8-3-8 0-24 15-16 3-8-1-16-8-40 2-29-16-11-1-4 1 4 5 8 4 8 7-1 8-7 4-24 4-6-8-1-8 7-8 0-8-8-6-16-1-8-3-16-14M390 1452l8-1 10 4-1 8-9 3-5-3-4-8zM1006 1454l1 1-1 4-3-4zM1301 1452l8-1 8 2 17 10-9 9-16 1-9-10-3-8zM1213 1461l9 2-1 2-8 1-2-3zM1109 1466l8 1 5 4 0 8-5 4-8 0-5-4-2-8zM1070 1482l5 5-5 3-7-3zM1213 1487l11 0 0 8 2 8-5 5-9-5-2-8zM454 1500l2 3-2 3zM1054 1498l8 1 0 21-8-2-8-7 0-8zM1101 1502l8 4 8 10 16 5 10-1-3 8-7 4-8-1-8-8-17-12 0-8zM1237 1518l9 2-9 0zM998 1527l16-5 10 6-2 8 8 4 24-4 16 13 8-1 7-9 8-4 16 2 16 7 16-1 9 9-2 8 1 1 8 0 16 6 16-3 21 4 11 8 8 13 8 5 16 4 8 0 8-4 8 0 5 6-13 7-8 0-16 5-16 15-18 5 2 2 16 1 8 13 8 8 2-8 6-5 8-5 4 2 2 8-6 6-16 2-3 8 10 8-8 32 8 8 3 8-10 17 5 8 1 8 1 8-2 8-14 8 5 16-12 13-24 9-16 1-10 9 2 10 8 7 16-10 3 1 4 8-7 7-2 9-6 9-8-4-8-17-8 6-4 6-4 17-6 7-2 8 0 17-2 7-6 4-16-2-16 5-8 0-24-18-7-2-12 5 0 16 4 4 23 2 8 2 1 8-7 17-2 3-8 2-23-21-8 6-6-7 9-16-3-2-16 5-16 0-16 5-13 0 3 8-5 8-17 1-8-5-8-2-8 1-16-7-24-20 4-8-20-3-16-23-8 1-8-7-3-8 6-8 7-16-2-8-20-16-10-16 4-8-7-16 1-1 8 3 8-5 10-13 2-16-4-5-8-3-8 1-8-3-8-7-16-4-6-4-6-8 2-8 10-3 24 4 16-13 8 0 8-7 2-5-4-8 6-8 2-8-6-5-8-1-9 6 1 8-8 2-17-18 17-2 4-6 4-12 8-1 8 3 24-2 16-9 19-3 5-15 2-1 6-2 8 2 16-13 24-3-3-8-23-16 0-8 18-10zM1285 1523l3 5-3 3-1-3zM1006 1533l-4 3 2 16 4 8 6 3 4-3 1-16-5-7-8-4M1197 1537l10 7-10 2-6-2zM870 1553l8 2 8 8 8 4 2 9-2 2-8 2-16-13-5-7zM438 1572l5 4-5 6-3-6zM1189 1580l-8 4 8 14 5-6-1-8zM334 1614l4 2-8 0zM358 1616l8-2 8 1 8 9 3 8-11 5-8 0-8-3-7-10zM638 1618l8 1 8 5-8 5-8-3-2-2zM534 1630l8-6 15 8 5 8-4 2-16-1-9-9zM430 1639l8 0 2 1-10 9-2-1 0-8zM494 1639l8-2 8 3-1 8-7 3-8-3-1-8zM1205 1638l-2 2 2 1 2-1-2-2M582 1654l8 1 16 8 1 17-5 16 12 7 5 9-5 8-8 2-16 1-41-3-4-8 5-2 5 2 3 6 8 2 7-8 3-16 11-16-2-16-7-8zM902 1653l-7 3 7 2 2-2zM1301 1656l8 0 7 8-2 8-5 4-8 0-2-4zM494 1670l16-2 8 2 3 2 4 8-7 4-8 0-16-4-2-8zM542 1672l8-2 8 2-6 8-10 3-3-3zM1269 1667l8 0 3 5-3 3-8 0-4-3zM430 1687l2 1 1 8-3 2-22-2 16-8zM462 1689l8 5 12 10 4 8-10 8 3 8 7 4 8-1 6 6 2 5 14 3-6 4-16-5-8 2-16-9-14-17 6-3 4-5 0-8-8-8zM518 1704l3 0 2 8-13 2-3-2zM750 1710l5 2-5 3-4-3zM774 1711l1 1-4 0zM870 1718l-2 2 2 1 1-1-1-2M1277 1728l16 3 6 6-11 8-3 7-23-7 2-8 5-8zM438 1735l8-4 8 23-8 3-8-4-5-8zM798 1743l16-3 24 4 7 9-1 8-6 7-8 0-8-6-8-4-8 10-8 5-6-4-3-8 1-8zM654 1748l8 0 8 6 3 7-3 2-8 0-8-2-2-8zM1285 1753l8 5 16 1 6 2-6 4-16-3-8 2-7-3zM542 1765l8-1 8 1 5 4-7 8-15 8-6 8-3 8-6 4-7-4 2-16zM614 1768l8-4 8 5-2 8-6 3-9-3zM422 1780l5 5 4 8-10 0-4-8zM1325 1797l8 5 5 15-5 2-8 0-3-2-2-8 1-8zM1237 1823l4 2-4 1-3-1zM446 1831l8-2 3 4-3 6-8 3-1-1 0-8zM838 1829l2 12-2 3-6-3zM838 1864l2 1-2 2zM774 1911l10 2-2 2-8 0-1-2zM870 1913l4 8-12 5-5-5 5-6zM894 1911l16 2-8 2-8 5-4-7zM1149 1949l8 5-8 3-3-3zM1046 1959l8 1 4 10-4 5-8-3-2-2zM1245 1961l2 1-2 1-2-1zM854 1999l3 3-3 1-6-1zM366 2235l3 8-3 4-1-4zM614 2315l3 0-3 8zM702 2331l8 5 1 3-9 6-6-6 3-8zM1293 2338l2 1-2 7-5-7zM806 2342l-7 5 5 8 10 2 9-2 2-8-3-4-8-3zM1062 2442l8-1 6 3 3 8-9 6-8-6-3-8zM774 2451l0 1 0 1-1-1zM1062 2462l8-1 3 7-3 5-8-1-4-4zM294 2339l8-3 8-8 8-3 8 1 24-9 24-4 16-7 24-6 8-5 24 9 8 5 32-3 3 9 5 2 24-1 16 14 48 4 16 13 24 2 24 7 16 1 16 8 16 2 16 6 40-9 16 2 16-2 40 8 8 0 16-1 24-9 40-3 40 24 9-4-1-8 8 0 8 4 8 1 24-10 24-5 24 0 24 11 7 3 8 0 48-14 48 1 24-5 8 6 0 11 32 9 8 1 9-5 4 8-13 5-32 20-16-1-16 3-16 0-24 4-8-1-16-6-16-4-16-12-8-3-8 4-3 8 2 8-14 1-16 5-40 2-16-6-16-21-8-3-16 4-16-1-19 19-5 2-16 2-40-4-32-12-24 1-8 4-24 3-16 4-32-4-16 1-16-6-8-1-32 15-8 3-48 4-16 11-32 3-24 12-48 2-24 9-16-3-8 1-10 9-6 3-8 0-16-10-24-9-16-2-48-15-8 1M1093 1559l8-1 9 2 5 8-6 8-2 8 2 2 8 2 16-6 16-2 17 12 6 8 2 8 9 8 3 8-3 8 0 8 2 8 10 24 10 16-1 8 3 16-10 7-1 18-4 8-14 8-3 8 1 8-11 16 0 8 3 8-3 4-16 1-8 6-1 5 1 3 12 13-9 16-1 8-10 7-8 2-16-7-16 1-5 5-8 16-10 7-24-2-16-9-8 0-16 16-8-1-8-7-16 0-8-2-8-8-7-10-17-6-8 4 1 18-3 8-6 4-8 2-8-1-8-4-7-9-2-8 0-8 16-24 17-7 16-1 1-8-9-7-24-2-6-7-1-8 4-16-5-8 5-24 11-1 4-7-4-8-8-3-8-6-4-8 1-8 3-1 8-1 5-6 3-10 16-18 8-12-1-8 3-8 21-24 2-8 6-8 9-1 2 1-8 8 9 8 1 8-12 5-3 3 4 8 7 4 8-5 8-15 16-11 11-5 5-11 16-6 21-15 6-8 18-8zM982 1599l11 1-3 4-8 0-3-4zM926 1685l-3 3 11 12 4-4 2-8-6-3zM1221 1726l10 2-2 19-8 2-5-4 1-17zM1205 1760l0 1zM1006 1864l-3 1 3 2 8 0 1-2zM1014 1903l8-6 4 8-4 5-10-5zM518 2296l8 1 0 2-8 1zM1333 2379l6 0 1 8-7 4-8-4 6-8zM294 2348l8-2 16-8 31-7 49-16 8 0 40 14 24-4 24 7 16 1 16 7 24 3 40 11 40 4 63 21 9 8-16 4-40 19-32 5-16 0-64 17-24 3-56 10-24 0-24 9-104-31-8 1M1078 1599l15 8 16-6 16 1 8 3 24 17 7 10 8 24 1 16-5 16-1 24-3 8-10 8-3 9 11 8-5 16-1 8-7 9-8 2-8 5-16 19-13 5-3 8 0 16-16 0-15-7-32 12-16 1-16-3-8 2-5-5-3-8-16-15-21-9 6-16-18-32-2-16 2-9 5-8 9-24 3-16 8-7 16-4 5-5 11-17 24-17 18-6 14-17 8-4zM910 1855l8 6 3 12 0 8-3 5-7 3-9 0-9-8-2-8 3-9 8-6zM870 2369l32-1 8 1 4 2 9 8 2 8-2 9-4 8-9 4-16 2-24-2-16-7-7-5-4-9 7-8zM1022 2369l24-2 8 0 8 3 11 9 2 8-3 9-8 8-18 6-24 1-16-4-8-9-4-11 6-8zM1133 2370l32-4 32 5 9 8 4 8-2 9-8 8-11 4-32 4-8-3-24-13-6-9 1-8zM734 2376l16-4 16 1 16 6 7 8-5 9-19 8-7 2-16-2-16-8-4-9 6-8zM294 2362l24-15 56-11 16-6 16-1 40 8 32 0 24 8 40 5 24 8 72 11 26 10 7 8-17 10-16 3-16 5-32 3-56 16-64 7-16 4-24 1-24 6-64-13-40-20-8-1M1062 1627l8-3 15 6 24 2 40 37 2 27-9 16 0 8-7 25-10 18-13 6-11 14-23 15-32 8-32-10-16-3-16-11-6-5-7-32-7-17 3-8 5-8 1-8 11-11 16-24 16-15 17-6 9-8 16-8zM910 1864l5 9-2 8-3 2-8-1-5-9 5-7zM870 2377l16-2 16 0 8 4 3 8 0 9-3 3-8 4-16 1-16-4-8-4-4-9 7-8zM1022 2377l16-3 16 1 7 4 3 8-4 9-6 3-12 5-13 0-19-8-1-9 7-8zM1133 2379l16-5 16-2 8 1 20 6 5 8-2 9-7 4-32 4-8-3-15-14zM742 2387l16-2 3 2-3 6-8 3-8-6-1-3zM294 2378l24-17 32-13 56-9 136 20 16 5 32 7 40 13 5 3-19 9-18 1-64 18-128 19-64-13-31-17-17-14M1070 1648l15 3 24 9 7 4 3 8 0 16 3 8 1 24-6 8-12 9-7 16-20 17-32 10-8 0-32-5-9-6-3-8 1-8 4-8-3-8-6-9 10-24 10-16 2-8 10-9 19-7 13-11 8-4zM1165 2379l8 2 10 6-10 6-8 1-8-1-8-5 0-2 8-6zM886 2385l8 0 4 2-4 7-8-2-5-5zM1030 2386l8-2 9 3-9 6-8-3-2-3zM1070 1678l8-2 7 0 8 4 2 8-2 8-3 8-2 16-18 20-24 5-12 0-4-3-7-14-2-16 3-8 23-16zM406 2347l32 2 32 8 56 7 56 15 10 8-19 9-47 12-120 19-48-9-16-5-25-17-6-9 3-8 8-8 20-12 16-4zM398 2354l8-1 32 3 40 10 40 5 26 8 9 8-27 11-23 6-89 14-16 0-40-8-16-6-9-8-7-9 3-8 9-8 12-6zM390 2363l16-3 32 3 64 16 14 8-30 11-40 9-40 6-48-11-11-6-7-9 5-8 5-3zM398 2370l8-2 31 3 27 8 11 8-29 11-40 7-8-1-25-8-13-9 9-8zM406 2377l22 2 12 8-36 9-15-9 10-8z"/>
</g>
</g>
<g clip-path="url(#clipd)">
<rect x="417.3" y="364.3" width="259.1" height="258.9" fill="#d9f8db"/>
<g transform="scale(0.25)">
<path fill-rule="evenodd" fill="#f4fdf4" d="M1669 1449l8 0 16 7 16 2 8-1-3-8 206 0 22 7 24-1 17 10 24-4 33-12 320 0 8 8 8-1 11-7 239 0-17 14-37 10 21 7 16-10 32 3 19-8-5-8-1-8 60 0 0 111-6 2-7 8 13 2 0 63-8 2-5 5 13 3 0 226-3 4 3 7 0 129-5 0 5 0 0 47-15-7 4-8-10-16 3-8-7-2-8 1-7 9 7 16 0 8 15 8 3 8-18 8-2 8 10 3 19-3 2-8 4-4 0 373-15 1-14 8 13 4 16-2 0 46-682 0-17-3-11 3-309 0-26-5-4 5-4 0 0-13 5-3-5-3 0-55 8 5 56 5 17-4 8-4-8-9-39-8-42 5 0-502 4 0-4-1 0-31 14-8-14-5 0-187 16 3 16 6 16 1 16-3 3-8-11-4-24 1-8-2-8-11-16-2 0-21 2-1-2-3 0-68 3-1-3-9 0-112zM2072 1457l-10 8 9 4 8 0 16-4 2-8zM2131 1457l4 1 1-1-1 0zM1886 1465l-7 8 7 7 8 0 12-15-12-3zM2148 1465l3 1 1-1-1 0zM1830 1481l8 6 9-6zM2127 1497l-1 8 16 0-6-8zM1676 1505l1 17 8 7 40-2 12-6 0-8-3-1-41-10zM2291 1505l-6 8 11 6 8-1 5-5-2-8-3-1zM2054 1521l3 8-2 5-16 0-11 4-4 16 7 7 24-1 19-6-4-8-9-8 2-2 32 3 19-10-23-8-12-7-16 2zM2375 1521l18 0-9-4-8 1zM2439 1521l19 0-10-4zM2138 1529l21 3 7-3-7-4zM1688 1546l-7 8 12 2 16-2-7-8zM2096 1570l7 3 17-3-9-3zM1722 1586l3 3 9 0 6-3-6-4-9 1zM2008 1586l8 8-11 8 10 1 5-1 3-5 19-11-11-4zM1922 1594l5 8-4 8-13 8 0 8 16 10 40 9 25-2 24 5 8-1 10-13-10-4-8-1-32 6-25-7-3-2 3-2 23-6-23-8-5-8-3-14-16 0zM2118 1602l1 0 8 0 2 0-2-1-8 0zM2051 1618l12 9 8 2 9-3-17-10zM1725 1706l-1 8 10 5 8 0 12-5-5-8-7-6-8 1zM1885 1722l-6 8 7 4 8 0 6-4-1-8zM1752 1835l15 0-9-4zM1729 1875l9 0-4-2zM1954 1883l12 3 25 1 8-2 2-2-18-6zM1728 2067l-23 8 20 14 9-1 7-5 9-14 5-2-5-5zM1683 2075l2 1 2-1-2 0zM2089 2075l6 4 8 0 8-4-16-3zM2195 2075l4 1 1-1-1 0zM1681 2107l-15 8-2 9 5 17 10 7 14 4 16 0 17-4-2-8-29-8 21-17-23-11zM2239 2140l-2 8 3 1 16 3 3-4-1-8zM1676 2164l-3 8 12 8 10 0-1-8-8-8zM2176 2164l7 2 16-2-16-6zM2123 2172l2 8 18 8 12 0 9-8-1-8-4-2-16-1zM2125 2388l-7 8 9 1 25-9-9-1zM1749 2396l2 8 7 2 10-2 1-8-3-3-8-1zM2610 2421l7 7 8 1 10 0 20-8-22-3zM2007 2437l-8 8 8 3 15-3-7-6zM2246 2437l18 9 8 0 6-9-14-5-8 0zM2656 2461l-3 8 4 2 15-2-3-8zM2176 2485l-1 8 8 1 14-1 12-8-10-2zM2253 2485l19 3 9-3-9-4z"/>
<path fill-rule="evenodd" fill="#ddf8de" d="M1669 1449l16 11 16 4 29-7 0-8 64 0 20 4 20-4 21 0 28 8-5 8-16 14-24-2-17 4-3 8 20 4 8-1 16-8 8-1 32 10 26-4-10-2-8-6-1-8 7-8-4-8 6-1 24 5 12 4 12 10 17 2 2-4 18-8 47-16 52 0-42 8-7 8 2 11 8 4 32-9 16-10 16 2 24 10 16 0-2-8-28-16 215 0-2 8-6 4-16 0-13 4-3 8 8 6 8 1 8-2 16-12 8-3 16 0 24 8 16 0 10-6 2-8-4-4-26-4 101 0 14 6 32-6 72 0-16 12-25 4-25 8-16 8 2 3 8-1 16-4 48 10 16-9 40-7 24 2 7-2 2-9-33-6-3-9 52 0 0 64-8 4-25 4 0 8-5 9 5 4 8 1 25-10 0 22-16 3-9 12 9 4 16 1 0 32-10 3-7 16-8 5-17 3 1 8 12 8 29 7-8 13-14 4-5 8 2 2 25 3 0 26-8-3-8 1-8 3-1 8 17 4 8-10 0 61-3 1 3 3 0 69-17 1-17 8 15 8 3 8-2 8 18 4 0 18-16-3-9 2-7 3-2 8 30 8 4 4 0 44-16 1-5 7 12 8-3 16-29 7-14 9 0 8 8 16-11 8 18 8 8 8-11 8-5 8 7 6 16 2 25-3 0 51-8 8-25-5-2 6 35 2 0 262-12 9 5 8-4 8-14 3-16 9-22 4-18 6-16 0-17-6 3-8 11-8 57-8 12-8-10-4-40-4-16 1-21 7-6 8 0 16-5 8-1 8 9 8 24-2 8 2 8 8-14 16 0 8-425 0 38-9 40 3 12-2 10-8 8-16-6-6-8 0-16 9-16 3-24-8-26 2-17 8-14 2-32-3-8 9 5 8 35 8-75 0-7-8-6-3-9 3 7 8-35 0-9-8-10-2-16 1-28 9-280 0-6-6-5-2 5-4 24-2 25 7 16 0 24-12 4-5-7-8-5-1-32 5-57-7-8-2-13-11 5-5 8-2 57-7 16-4 6-6-3-8 5-9 12-8 5-8-4-8-13-4-16-3-41-1-3 0 0 8 25 16-70 7 0-242 13 11-4 8 7 2 40 0 9 6 16 3 28-3-2-8-10-5-16-2-17 3-8-2-8-9-3-9 12-8 24-6 9 6-4 8 3 1 16-2 9-15-5-8-12-3-16 2-21-7 2-8 2-2 37-7-28-2-13-6-2-8 24-8 38-24-13-16-2-6-24 0-25-7-32 1-10 4-5 8-9 1 0-32 23-9 1-8-7-8 3-8-7-8-13-6 0-45 24-3 6-10-30-9 0-19 40-11 33 4 40-4 2 7 17 0-3-6-7-2-17-1-8-5-12-10-4-12-17 0-18 4-1 8-13 7-16-1-16-6 10-8-10-1 0-68 8-4-8-3 0-36 20 15 12 5 16-1 11-4-43-17-16 0 0-47 48 11 4 5-1 8 11 8 2 5 9 3 8-2 25-6 10-24-12-16-2-8 23-8-44-13-18 5 5 8-20 3-8 0-36-11-3-8 14-8-12-16 4-8-3-8-4-2 0-34 13-4 3-6 32-4 19-6 14-16 1-9 8-8 6-16-17-8-23-3-40 2-8 3-8 8 0-58zM2250 1465l-3 8 9 5 16 1 11-6-4-8-7-2zM2459 1481l-16 8 14 8 8 0 16-4 22-12-22-4zM1983 1489l16 5 2-5-10-3zM2087 1489l-15 16-26 8-8 8-22 8 0 17-16 16 1 8-18 3-20-3-5-4-8 5-2 7-6 2-37 6 4 8 7 8-6 6-19 10-4 8 23 20 32 2 16 9 33-6 40 4 8-2 8-8 8-5 40 1 11-7-12-16 0-8-19-8-5-8-7-2-11-14 3-3 8-3 16 1 24 11 8-1 24-11 32 2 16-1 10-3 6-12 41 0 8-3 2-1-2-2-32-5-12-9-19-9-10-12-13-4 29-5 6-11 0-8-6-2-24 6-16 1-32-12-8-1zM2237 1489l11 8 4-8zM2004 1497l-5 1-21 15 13 7 8 2 16-4 12-13-12-6zM2300 1497l-25 8-5 8 26 13 30-5 1-8-7-6-1-10-7-2zM2340 1513l7 8 29 5 24 0 10-5-8-8-18-5-16 0zM2425 1513l-5 8 4 4 8 4 16 2 17 9 16 1 8-4 8-8-16-9-8-8-16-6-17 0zM2395 1546l13 2 15-2-7-8-8 0zM1709 1578l-5 24 13 3 8 1 9-3 18-17-1-8-9-3-25-1zM2088 1594l15 14 24 1 24-7-19-8-21-6-8 0zM2680 1602l1 0 8 1 4-1-4-2-8 1zM1824 1642l6 2 9-2-1-4-8 0zM1793 1658l5 1 8 0 6-1-6-1-8 0zM1868 1658l-3 8 5 5 8 0 29-5 0-8-5-5-8-2-16 1zM2117 1658l10 6 10-6-10-2zM1949 1666l-31 3-14 13-26 4-5 4 4 8 41 0 8 0 16-10 41-7 37 1-12-8-33-6-17-8zM2041 1682l22 4 21-4-13-7-8-1zM2653 1706l12 2 8-2-8-7-8 2zM1868 1722l-6 8 5 8-1 8 3 8 25 3 24 7 5-2 3-5 0-12 8-7 16-1 11-7-15-8-12 0-5 0 2 8-5 3-5-3 3-8-30-7-16 2zM1720 1738l22 4 7 4 1 8 8 8-7 8 7 4 8 0 5-4 3-8 14-8-6-8-48-15-9 2zM1796 1754l5 8 13 12 16 2 9-6 1-8-10-5-16-3zM1970 1770l5 3 7-3zM2050 1770l29 13 8 1 9-6-15-8-18-4-8-1zM1852 1778l7 8-6 8-15 5-32 1-13 2 5 8-8 13-8 2-32-5-15 15 7 5 8 2 40-7 20 8 4 9 8 6 8-2 1-5-7-8 4-8-8-9 10-9 8-5 31-10 4-8 21-10 17-6-9-6zM1737 1794l7 8-9 8 7 4 8-2 8-10 2-8-2-5-8-2zM2002 1818l-17 8 6 3 40 1 16-4-8-8zM1884 1851l-6 8 16 2 11-2 0-8zM1919 1875l8 16-29 8 20 6 43 2 5-1 9-8 16-2 24 1 5-6-21-23zM1978 1907l-2 8 23 9 5 7 0 8 11 5 8-1 23-12-7-7-16-5-16-11-16-3zM1738 1923l2 8 2 0 2-8zM1906 1931l4 2 12-2-12-2zM1989 1987l18 18 16 2 16-4-40-18zM2090 1995l-3 8 8 5 8 2 8-2 5-5-15-8zM2149 2003l-5 8 8 8-9 3-24 1-8-8-8-3-27 7 11 5 23 3 4 16 13 4 24-8 24-16 19-4-27-11zM2567 2011l26 5 10-5-10-3zM2004 2051l-2 8 13 5 24-4 32 6 8 16 8 6 8 1 16-3 18-11-18-9-24-3-8-4-1-8-7-2-56-1zM2215 2051l1 1 3-1-3 0zM2253 2051l11 3 4-3zM2162 2067l0 8 13 7 16 4 37 5-21 8 19 8 22 3 17-3 1-16 3-8-13-3-24 2-8-2-9-13-8-4-32-1-8 1zM2605 2075l12 8 17-8-9-2zM2604 2091l-12 8-3 8 4 2 41-2 7-8-1-8-23-7-8 2zM2148 2115l-11 17 6 6 24-1 14-5-14-9zM2267 2124l-19 6-24-2-8 3-2 1 7 8-5 10-41 0-22 14-26 0-16 4-5 4 1 8 11 8 9 3 38 5-6 2-4 6 0 8 12 3 16-3 5-8-5-4-12-4 8-16 4-3 33-3 72-2-8-10-5-14 5-6 29-10-29-10zM2663 2124l-6 8 16 6 2-14-2-4-8-2zM2593 2172l24 3 16-3-24-4zM2658 2180l-4 8 3 3 13-3-3-8zM2149 2372l-16 8-22 6-40-5-8 4-2 3 1 8 9 3 24 1 16 5 32-3 32-16 32-9 9-5-17-1-32 2-16-3zM1997 2404l2 9 8 4 42-5-2-6-40-6zM2274 2404l14 4 13-4-13-3zM2243 2429l-15 8 17 8 4 8 7 3 32 3 8-2 3-4-10-8 4-8-5-4-24-9-8 0zM1993 2437l-7 8 5 6 3 2 21-2 17-6-8-8-9-5-16 0zM2146 2437l-19 9-24-5-16 1-8 3 24 11 16 1 16 8 16-6 31-6-2-8 3-5 28-3-20-7-24 1zM2052 2469l11 8 16 6 21-6 10-8-15-4zM2111 1513l2 0-2 1-4-1zM1664 1538l7 8-10 8 0-18zM2119 1542l16-3 16 1 16 8 23 6-47 6-32-3-6-3zM1975 1593l10 1-10 8-3-8zM2007 1617l8 0 2 1-2 0-8 0-1 0zM2714 2022l0 19-8-14zM1669 2089l16 1 16-3 5 4-21 2-24 19 0-24zM1669 2154l3 2-11 2 0-6zM2698 2468l10 1-14 16 4 7 8 3 8 6-58 0-9-16z"/>
<path fill-rule="evenodd" fill="#c6f4c8" d="M1669 1454l16 16 8 3 16-3 32-13 1-8 40 0 8 8 8 1 48-3 16 3 8 7-16 7-32 5-9 4-7 10-8 3-32 6-57-16-16 5-32-2 0-38 4 0zM1758 1465l0 8 8 3 14-3 5-8-3-4-8 0zM2071 1449l8 0 1 0-1 0-8 1-6-1zM2151 1449l40 2 9-2 145 0-9 6-24 6-16 9-16-12-40 4-33-4-11 7-13 3-37-19zM2440 1457l9-8 32 0 22 8 2 5 16 3 6-8 36-8 46 0-9 8-7 3-48 6-72 0-25-2zM2673 1449l41 0-2 40 2 12-8 3-25 2-17 7 4 16-5 9-6 5-35 11-7 8-3 16 20 0 0-8 17-13 16-4 8 3 5 6-5 8 5 8 11 3 25-3 0 20-25-9-8 0-11 5-5 8 22 8 3 8-9 6-24 6-7 4 11 16-4 16 10 0 2-8 4 0 9 0 16 8-25 2-3 6 2 8-7 7-23 9-1 8 24 9 16 15 25 7 8 6 0 28-18 7-3 8 11 8-6 17-9 2-6-3-18 0-15 8 4 17 17 16-10 8-2 8 22 6 2 2-2 8 14 8-14 5-16 0-13-5-11-13-8-3-24 7-24-4-8 1-7 4 9 8 6 0 24-8 8 3 8 13 16 8-4 8-12 1-24-6-32 8-48-4-10 1-1 8 11 4 40 7 32-8 32 8 2-3 6-2 48-7 5 1-13 16 0 6 16-6 9 0 8 3 7 13-5 8-27 6-6 10 19 8 2 8-7 4-26 4-3 8-14 8-2 8 6 8-9 9-21-1-10-8 11-8-3-8 1-8 6-6 32-8-8-10-3-8-5-2-56-13-6 15 4 8 21 8-3 4-8 2-32 5-6 5 35 16-22 8 2 8 13 8 7 8-11 16 7 8-7 24 13 8-11 17 20 9 24 7 9 0 7-5 8 1 24 12 25 6 16 8 0 236-97 3-33 12-6 8 2 8-6 16 4 16 7 5 31 3-7 3-24 0-12 5 1 8 25 8-309 0 26-8-1-16 5-16-2-8-15-8 4-8 11-8-6-3-24-1-14-4 6-4 24-4 11-9-43-15 6-9-6-2-24-3-32-9-41 1-24-10-8 3-12 12-20 7-40-7-26 0-13 8 9 8 0 8-2 1-21-1-3-5-8-3-28 0 12 8-4 8 6 17-14 8 0 8-17 16 21 14 16-1 9 3 2 8 0 8-16 8-19 5-42 3-166 0 23-4 16 0 8-3-5-9-1-8-9-8-17-6-40 3-40-13 32-9 32-1 8-9 1-5-2-8 20-25-2-8-30-16-11-10-3-6-13-2-6 2 19 16-54 4-8 4 4 8 9 8-15 8-22 2 0-210 32-1 24 7 25 3 24-4 12-5-3-8-8-8 17-32 1-8-20-8 1-8 13-9-1-8-12-4-24 3-8-7 48-18 14-14-12-16-2-16-8-16-8-4-24-4-25-13-17-3 25-2 17-4 16-8 10-10-12-8-3-8 6-8 2-8-1-8 2-8-3-8-9-4-8 0-28 12-2 8 22 8-3 8-8 8-9 16-21 5-15-5 2-8-10-8-7-16 30-2 12-6 2-16-11-8-35-7 0-5 6-4 34-7 33 1 24-2 32 9 8 0 8-4 10-13 6-3 16-3 40-1 16 4 10 11-9 8-24 8 6 8 55 8-30 4-12 4-4 8 4 8 20 8 16-1 6-7 14-8-6-8 10-3 12 3 21 11 13 13 19 11 24-1 4-2-7-8 4-8 23-8 9-8-41-8-6-8 19-16-18-8-6-8-5-17 8-9 40 8 41-6 14-8-7-4-44-4 1-9-5-8-16-12-8 0-6 4-58 3-11 13 7 9-14 8-7 7-16-4-24-2-8-1-13-8 39-17-22-16 4-7 19-9-3-8 8-6 8-1 24 10 25 3 48 18 8-1 16-11 32 1 24-5 21 0-4-8 2-8-12-8 5-8-3-8-13-8 20-6 16 1 14-3-6-3-16 0-10-13-12-8-18-5-8 1-3 4 8 8-11 8-5 8 12 8 8 16 8 8-9 6-8 0-48-11-8 2-8 12-8 2-48-9-25 2-8-5-4-7 1-8 30-8 5-8-3-8 4-4 40-3 5-9-13-2-49 1-6-7 20-8 19-2 80 5 32-8 3-3-1-8 6-2 48-2 32 1 24-5 14-8-5-9-39 9-18-1-13-7 8-8-11-8-30-8-10-8 64-12 7 4 17 3 8-3-8-4-16-2-8-6-52-12 12-8 8-1 24 4 16 0 33-13 40-6 8-7 0-4-8-5-28-8-2-9-19-8 8-8 1-17 18 9 8 8 30 8 16 10 16 1 32-3 40 1 11 8-8 8 5 8 24 0 40-10 25 5 31-3-3-8 5-9-1-8-19-16 11-4 72-14 12 2 10 8-1 8 43 7 8-7-11-8-4-8 7-4 32-8 33 3 5-7 2-8-7-6-17-2-8-5-1-3zM2533 1521l20 6 10-6-10-4zM2312 1554l16 9 12-1 1-8-5-3-16-1zM2519 1554l2 0 1 0-1-1zM2293 1570l3 0 8 0 1 0-1-1-8 0zM2186 1594l5 2 4-2zM2262 1610l10 10 8 2 17-12-17-5-8 0zM2154 1690l13 3 10-3-10-6-8 0zM2238 1714l-15 8 12 8-13 8 27 8 9-8-10-8 0-8 5-8-5-3zM1963 1802l12 3 2-3zM2226 1810l6 2 2-2zM2250 1851l6 8 16 2 17-2-17-9zM2350 1851l-5 8 15 2 5-2 6-8-11-4zM2044 1883l3 5 8 0 15-5-7-4zM2088 1899l7 2 11-2-3-3-8 0zM1797 1915l9 8 16-3 7-5-15-4zM1852 1931l11 0-9-5zM2092 1939l11 8 8 0 14-8-6-5-16-3-8 3zM2657 1955l8 6 8 0 12-6-4-5-8-3zM1995 1971l-20 6-9 11 17 8 16 12 16 6 40-2 8 15 8 6 13 2-13 4-32 1-16-3-8-6-24 2-7-6-9-2-2 2 9 8 17 2 4 6-34 8 0 8 27 8 2 8-5 8 14 12 8-3 1-9 13-16 10-1 12 1 28 27 32 5-11 8 8 8-1 9 15 16-5 8-1 8-21 16 1 8 10 16 29 9 16 13 40 14 8 4-5 8 5 4 8-1 8-3-8-6-7-2 1-8-6-8 37-4 12-4-21-16 25-6 32 2 16-8 17-4 5-8-6-5-16-6-8-5 0-8 30-8 5-8 1-8-4-5-27-4 13-8-8-8-14-8 3-8-19-8-4-6-16 3-15-5 7-2 32 1 14-7 5-8-35-8-49-4-30 4 6 9-29-1 17-8 1-8 13-8 30-8-36-16-12-16-16 0-32 7-32-6-8 2-16 10-8-1-35-12-6-16-7-2zM2064 2115l7 7 18-7-10-2zM2021 2132l-6 0-9 8 2 8 7 6 16 0 15-6 0-8-7-7zM2589 2164l-8 8 4 3 14 5 34 4 5 4 12 24 7 8 29 0-5-2-9-14-2-8 21-8-18-15-8-4-16-1-32-7zM2190 2284l1 4 8 1 9-5-9-6zM2188 2324l3 7 8-2 4-5-4-2-8 0zM1938 2445l12 4 6-4zM1934 1465l13 8-5 8-16-2-8-6 8-6zM2015 1465l24-7 4 7-4 16 8 7 16 6 2 3-10 6-8 1-40-20-10-11zM2216 1472l8-1 7 2 8 8-23 5-10-5zM2360 1473l24 1 23 7-7 10-49 14-15 2-4-2 2-8 21-8-6-8zM2135 1481l8-4 8 0 22 4-14 8-8 0zM2296 1481l1 8-17 2-4-2zM1862 1496l16-1 24 6 40-6 33 2-9 9-32 7 8 7 16 0 29 9-12 4-25 0-7 5 20 8-29 4-7 4-4 8 12 8-1 8-32 2-14 6 17 16-22 8-21 19-32-1-8 3-16 18-16 4-16 2-17-5-7-8 8-7 35-9 0-8 5-4 30-4-22-4-28 4-11 8-9 2-20-2 12-8 0-8 8-11 8-5 32-3 6-5 1-8-7-7-48 3-16-4 23-8 7-16 18-2 17-7 3-8-1-8 13-11zM1860 1513l10 2 3-2zM1791 1554l7 5 8 0 27-5-27-5-8 0zM1669 1576l16-3 7 5-31 19 0-19zM1685 1616l16-2 25 4-17 7-16 2-8-1-2-8zM1846 1648l8-2 6 4-4 8-1 16 7 8 0 8-16 14-8 2 16 8-9 8-7 13-8-3-8-10 7-16-41-16 16-8-5-8 7-8 29-8zM1991 1657l52 9-12 5-8 0-22-5-2-4-11-4zM1669 1698l-8 1 0-2zM2698 1697l16-1 0 4zM1886 1705l41 1-17 3-24-2-4-1zM1677 1713l16-1 12 10-4 4-8 1-24-1-6-4 6-6zM1838 1744l2 2-5 0zM1666 1754l8 8-13 6 0-17zM1685 1767l32 2 17 4 9 5-25 16 7 8-32 16-14-16-15-8 19-16-5-8zM1782 1786l18 0-9 8-9 0-2-8zM1822 1786l21 0-13 3-13-3zM1854 1816l8-1 11 3 0 8 4 9-7 5-8 1-8-2-20-13 12-8zM2689 1826l9-4 8 3 8 7 0 6-16-1zM1766 1849l16-6 8 2 5 6 2 8-5 8-18 1-12-9 1-8zM1934 1854l24-3 8 1 11 7-11 7-26 1-6-2-7-6zM1663 2027l-2 4 0-4zM2657 2066l7 1-7 2-2-2zM1668 2099l-7 7 0-11zM2167 2099l8 1 13 7-5 4-16-3-7-9zM2681 2098l33-4 0 17-16 9-20-13 0-8zM2625 2115l20 0 4 9-16 11-25-11zM2698 2129l3 3-8 0zM2143 2154l5 2-10 0zM1667 2180l-6 5 0-10zM2216 2395l16-2 24 7 6 12-22 7-8 0-2-7-18-16zM2079 2410l48 2 8 2 10 7-5 8-5 1-24-6-8 0-16 6-5-1-2-8-7-9zM2023 2424l16-1 16 6 8 8-3 8-5 6-8-3-1-3-28-16zM2633 2437l37 0 0 8-45 7-7-7zM2207 2444l21 1 4 8-7 8-26 0-2-8zM2167 2466l10 3-10 2-6-2zM2047 2484l8 0 2 1-2 1-8-1-2 0zM2103 2484l13 1-5 2-8-1-2-1zM1725 2497l12 4-16 0zM2143 2500l8 0 2 1-2 0-8 0-2 0zM2224 2500l8 0 8 0 8-1 8 0 8 1 8 1 2 0-2 0-8 0-8 0-8 0-8 0-8 0-8 0-4 0zM2681 2500l8 1 1 0-1 0-8 0-3 0z"/>
<path fill-rule="evenodd" fill="#b0f0b3" d="M1665 1457l11 16-7 5-8 1 0-25zM1758 1449l13 0-5 4-8 1-5-5zM2159 1449l2 0-2 0zM2175 1456l7 1-7 1-2-1zM2224 1449l50 0-13 8-13 2-14-2-17-8zM2312 1449l8 0 8 0 3 0-3 1-8 0-8-1zM2465 1456l16-1 9 2-17 2-12-2zM2545 1456l31-7 22 0-8 8-5 1-32 2-12-3zM2706 1449l8 0 0 29-4-5 1-8-6-8-1-8zM1742 1465l16 16 8 1 16-2 18-15 6-2 32-2 18 4-26 5-16 6-23 13-25 6-41-14-5-8 14-8zM2007 1473l16-5 8 1 2 4-10 9-8-1zM2376 1480l17 1-9 3-14-3zM2665 1481l8 1 14 7 5 8-35 5-15-5-3-8zM2545 1497l24-3 7 3-3 8-4 4-40 7-11-3-5-8zM1910 1505l27 0-35 10-3-2 6-8zM1822 1512l8-1 8 2 41 16 4 9 29 8 2 8-3 8 5 8-30 5-10 11 11 16-25 2-16-7-44-3 4-1 15-15 0-8 10-8 21-8-53-16 11-9zM2577 1518l16-3 56 4 5 2 3 8-10 9-39 8-7 9-8 2-16-7-21-4-3-8 8-1 8-5zM2521 1529l8 0 24 9-8 4-24-2-6-2zM2328 1537l8 0 2 1-2 0-8 0-1 0zM2288 1545l1 1-1 1-1-1zM2352 1544l6 2-11 0zM2360 1554l24 6 56-4 25 4 24-4 40 7 32-4 24 7 4 4-1 8-6 8 35 4 32-8 19 4-19 13-24-3-8 1-5 5 13 4 24-2 8 1 13 5 10 8-39 6-9 10 9 9 1 7-4 8-1 16 17 8-21 11-4 5 4 9 27 15-3 10-10 6 34-1 17 4 16 10 0 15-57 16-1 4 1 1 24 4 9 3-8 8-25 4-20 12 9 25 11 8-16 9-24 9-40 2-21 4-3 8 2 8 20 8-1 8-69 3-11 5 11 16 42 8 4 8 1 8 16 16 0 8-7 7-8 7-12 2 4 1 2 7-2 8 15 16-9 8 7 8 13 8 7 8-13 16 7 8 1 8-3 8 0 8 8 8-6 17 26 16-6 8-15 8-3 8 11 9 38 7 14 16 2 16 10 8 65 2 0 118-2 0 2 1 0 39-21 0-1 8-19 5-32-2-18 5-22 3-28 14-5 8 5 8-9 16 0 8 5 16-15 8-8 16-229 0 14-8 1-8-7-8 2-16-7-16 2-8 6-8-5-8 2-17-5-5-20-11 2-8-3-8-27-10-8-1-16 5-24-7-41 3-8-3-8-7-16-2-16 11-24 9-24-5-24 0-24 4-24 8-40 3-9 4-2 4 14 16 4 8-4 9-17 8-3 3-24 5-8 4-2 4 10 10 14 6 18 15 21 9-4 2-17 4-32 1-27 9-71 0 4-8-10-19-16-4-37-17 9-16-3-16 19-25-3-8-13-8-6-8 3-8-33-17-16-2-17 2-5 1-9 16-18 5-24 19 0-39 2-1-2-1 0-115 24 0 24 5 17-1 24-8-42-8 18-8 32-4 28-12-9-16 13-28 18-12-3-8-13-8 6-9 1-8-5-8 3-8 9-8-3-8 2-8-10-16 0-8 11-12 8-2 24 3 6-5-14-5-16 3-16-4-10-10-22-8-5-8 22-24-2-8-10-8 19-8 4-8 4-2 16-3 16 3 3 2 1 8 12 6 16-6 24 2 15 6 9 24-6 8 30 9 41 7-29 16 6 8 10 8 1 8-15 8-1 8 32 16 3 32 24 8 7 9-11 8-10 16 15 14 8 4 8 0 24-8 14-10-3-8 6-8 23-2 21 10-12 8 1 8-13 8 5 24-1 8 8 8 31 6 48 26 9 16 4 16 0 8-6 8 1 8 8 6 8-1 14-13-2-16 3-16 12-8-4-8 5-8 40-8 15-8 22-19 21-13 9-24-3-16 4-16-13-17-6-24-29-8 2-8 16-8 7-8-15-8 15-1 11-7 0-8-16-16 5-8-8 0-8 5-16 2-24-2-8-6-11 1 8 16 35 17-32 0-24-3-17-4-1-2 29-8-12-8-29-8 13-16-54-8-1-8-17-12-7-12 8-8-1-8-16-5-19-3-5-8 30-16-21-16-25-8-5-8 20-8 41-9 19-7-5-8-23-17-7-16 66-8 1 8-19 5-5 3 13 9 32 11 9 0 24-7 24-15 22-6 4-8-26-12-8-1-17 5 21 8-12 6-45-6 1-16 4-8-3-8-6-4-32 15-8 1-12-12 15-8 9-16 20-10 10 2-10 10-14 6 14 6 65-1 14-5 7-16-6-8 17-10 3-6-27-6-16 0-32 14-25 3-23-3 4-8 19-9 25-5 2-2-2-3-11-5 10-8 33-3 12-5-7-16 19-12 16-2 24 8 24-10 0-8-24-4-11-4 14-8 0-8-3-2-56 0-8-3-8-7-16-4-4-8 36-5 56 8 40-16 5-3zM2560 1666l0 8 17 6 7-6 2-8-1-3-8-2zM2285 1722l19 4 6-4-14-6-8 1zM2296 1835l4 8-4 1-56-6-16 0-10 5 34 19 24 4 48-7 32 9 16 0 4-1 14-16 11-8-37-9-24 7-24-11-8 0zM2515 1867l-10 4-2 4 2 2 16 2 13-4 1-8zM2138 1907l-8 8 13 6 16 1 12-7-3-8-9-3-8-2zM2447 1907l-23 5-32 2-40-4-56 4-17 9 7 8 3 8-15 8 6 2 32-1 40-14 40-1 65-11 14-7-14-8zM2483 1947l6 5 8 0 3-5-11-4zM2213 1955l3 7 20-7-12-5-8 2zM2203 1963l11 0-7-2zM2302 1971l-6 8 8 4 8 3 11-7-5-8-6-2zM2472 1971l-6 8 7 3 12-3zM2185 2316l-7 8-1 8 6 9 16 3 8-1 4-3-1-8 2-8-13-13-8 0zM2631 2388l10 5 10-5-10-3-8 0zM1663 1586l-2 1 0-1 0-1zM2714 1584l0 4-6-2zM1774 1594l8-1 4 1-4 0-8 0-1 0zM2224 1609l8-4 16 0 12 13-5 8-31 7-25-3-24 3-8-1-14-6-10-8 24-3 32 9 8-1zM1790 1634l8-2 9 2-3 8-6 3-16 4-8-1-9-6zM1822 1670l8-3 8 2 2 5-2 4-8 2-15-6zM1846 1689l1 1-1 0-4 0zM2119 1686l8-3 8 1 13 14-5 5-23-5-5-8zM2047 1704l27 10-11 7-8 1-8-3-8-5 4-8zM1975 1745l8-1 3 2-11 3-7-3zM1958 1753l5 1-7 0zM1999 1753l22 1 3 8-9 4-21-4 2-8zM2071 1752l14 2-14 1-4-1zM1701 1778l16-2 11 2-19 3zM1966 1786l3 0-3 1-6-1zM1685 1792l10 2-2 6-13-6zM2079 1794l40 8-40 6-15-6 7-7zM1701 1800l5 2-11 0zM1934 1802l1 0-1 1 0-1zM1910 1834l8-2 11 3-11 1zM2039 1865l12 2-12 2-4-2zM1870 1882l8 1-8 0-3 0zM1701 1889l29 2 4 8-9 6-16-1-17-5 2-8zM1750 1890l19 1-3 5-8 0-15-5zM1822 1896l8-3 4 6-12 0-3 0zM2047 1903l16-2 5 6-5 7-11 1-5-1-7-7zM2055 1938l16-2 8 2 2 9-10 5-16-2-4-3 1-8zM2585 1936l8-2 8 3 2 2-2 7-8 3-15-2 0-8zM1693 1947l13 0 4 8-9 5-8 1-8-3-3-3 3-5zM1958 1942l13 5 4 5 9 3 3 8-17 0 1-8-19-8zM1942 1970l16-2 4 3-12 5-8-1-5-4zM2039 1978l10 1 9 8-13 0-9-8zM2111 1975l16 4 3 8-11 2-15-2-1-8zM1999 2018l7 1-7 1-4-1zM2031 2090l8-4 16 2 15 11-15 5-24-2-4-3zM2698 2106l8 1-8 1-3-1zM2304 2154l4 2-4 0zM2689 2169l9 0 16 6 0 8-8 1-13-4-7-8zM2689 2195l25 4 0 19-25-6-8-8 5-8zM1669 2200l23 4-15 11-16 3 0-18zM1669 2391l14 5-14 4-8 0 0-10zM2714 2393l0 4-3-1z"/>
<path fill-rule="evenodd" fill="#99eb9d" d="M2240 1449l22 0-14 3zM1664 1473l-3 1 0-4zM1766 1488l8 1-8 1-5-1zM2537 1505l3 0-3 1-5-1zM1822 1527l8-4 16 0 20 6 2 9-6 5-8 2-32-4-10-3zM2593 1526l16-1 18 4-10 5-16 3-8-1-6-7zM1886 1549l8 0 9 5-9 8-8 1-4-1-3-8zM1854 1566l16 0 6 4-14 5-16-5zM2376 1569l24-4 24 5 33 1 8 3 8 6 40 9 6-3-6-7-19-9 3-2 56-2 15 4 1 8-5 8 5 3 27 5 5 8 8 7 25 9-17 10-8 2-16-3-10-9-25 0 21 24-16 16-13 8 0 8 10 8 3 8-5 8 21 16-4 8 5 8 37 6 32 11 40-1 19 8 2 8-37 5-16-5-48-8-15 0 0 8 12 8 3 8 24 6 20 10-3 8-9 9-22 7-1 8 9 9-2 2-16-2-32 4-32-13-8 4-3 5 3 8-2 8-6 7-37 9 13 21 12 3 5 8-17 3-16 9-41-8-56 6-40-3-48 1-31 8-9 5-3 3 12 8 2 8-11 4-16 3-16-4-16-17-29-2-8-16-13-8-2-8 7-16-4-4-16 12-16 6-24-12-12-2-4-8 23-8 33-4 24-12 0-8 8-2 9 2 7 16 25 5 16 9 32 5 40-7 40 8 24 2 14-6 1-8 9-8 8-3 16-2 24 6 9 0 14-9-6-5-8-2-33 2-24-4-24-10-16-2-30-12-2-8-21-16-21-8-11-16 28-8-12-8-5-8 26-4 10-4 2-8-2-8 13-8-8-8-4-8 12-8-5-8-17-8 23-8 7-16 17-21 21-3 4-8 5-16-3-8-19-3-8 3-16 0-2 0-1-8 27-5zM2535 1602l2 0 8 0 1 0-1-1-8 0zM2564 1802l-6 8 3 3 16 1 13-4-5-9-8-1zM2280 1585l3 1-1 8-15 0 5-7zM2344 1608l18 2-10 8-8 0-6 0 2-8zM2232 1615l8-2 10 5-10 5-8 0-5-5zM2617 1657l8 4 2 5-10 13-8 0-9-5 9-15zM2272 1672l8-1 8 4 15 15-15 3-41-3-4-8zM2601 1697l11 1 0 8-3 0zM2207 1706l2 0-2 0zM2633 1720l8 2-8 2-5-2zM2232 1759l27 3-13 8-14 2-5-2-2-8zM2296 1810l15 0-15 3zM2272 1817l20 1-12 15-12 2-14-9 11-8zM2617 1848l8-2 11 5-11 3-8-2-2-1zM2561 1857l16-1 11 3-19 3-15-3zM2448 1930l26 1-9 8-4 8 6 8-2 2-17 2-3-4-2-24zM2368 1938l13 1 16 8-5 4-32-3 0-9zM2143 1946l8-4 32-3 8 1 10 7-4 8-6 3-24 5-16-6-9-10zM2304 1954l48 4 24 6 8-1 16-8 24 3 16 4 21 25-13 14-32-4-3 6 18 8 17-7 25-4 16-7 8 0 34 10 4 8-5 8 1 8 17 16 13 8 5 8-10 8-5 8 10 16 0 16 4 8-3 17 18 16-4 8-8 8-1 8 4 8 6 3 24 5 10 8-34 13-4 3 2 8 15 8 0 8 11 7 8 0 24-9 8 0 57 0 16 3 0 103-16 7-25 3-15 6 7 6 8 1 41-7 0 25-33-3-16 1-24-4-5-3-2-16-17-7-16 0-15 7-9 8 28 8 7 8-3 6-8 5-8 0-16-4-8 4-6 5 10 8-2 8-10 9-4 8 6 8-2 5-8 11-8 24-15 24-200 0 11-8 3-8-8-8-3-8 1-8-3-16 7-16-5-33 7-8-3-8-41-17-32-17-16 1-16-3-13-12 0-8-7-8-7-16 14-16-1-16 5-16 13-8 4-8 24-6 34-18 10-8 25-24 12-24 2-8-5-8 0-8 3-8-4-9-8-8-4-24-12-16 8-8 0-8 9-16 0-8-13-16 2-8-2-8 14-16-2-8-13-7-24 2-15 13 12 8 5 8-18 6-16-2-16-14-40-6 16-4 8-6 32-2zM1862 1963l8-6 16 0 6 6-1 8-5 13-4 3 4 8 8 4 37 4-6 8-15 13-20 3-4 4-16-3-8-4-15-13-33-7 9-9-12-8-1-8 12-5 32-1zM2497 1962l32-5 23 14 1 8-16 1-32-4-11-5 0-8zM1918 2035l16-4 14 4-3 8-11 5-8 16-15 3 7 3 24 0 17 5 7 8 1 8-2 16-5 8 23 4 14 5-6 10-20 14 27 16 9 13 29 11-5 5-32-5-15 8 2 8 9 8 20 1 9-1 7-12 8-1 40 14 24-1 32 7 35 25 10 24-6 24 6 16-10 16-7 16-12 3-16 13-24 3-32-3-48 10-24 8-41 2-9 4-2 8 2 8 17 16-16 10-40 9-8 6 2 8 9 8 4 8 0 24-39 10-17-2 20-16-35-5-8-9-8-5-13-5-19-2-8-4 2-10-4-16 14-9-2-8 2-8-4-8-17-16 4-8-26-16-6-8-27-1-41 7-8-1-16-7-8 0 0-98 24-2 24 4 41-2 16 3 8-2 8-13-17-8-2-8 31-16-5-16 5-8 1-16 31-16-1-8-10-8-2-9 8-16-2-8 4-8-10-8 0-16-6-8 0-8 7-3 10 3 6 7 8 0 24-13 48 0zM1662 2204l3 8-4 1zM2698 2203l16 0 0 10-8-1-12-8zM2609 2218l8-2 2 4-10 0-2 0zM1669 2355l6 1-6 16-8 6 0-23z"/>
<path fill-rule="evenodd" fill="#82e787" d="M1838 1528l15 1 2 9-9 2-20-2 5-9zM2392 1572l8 0 16 5 32 2 15 7 2 8 40 4 8 4 5 8 27 12 15 12-2 8 1 8-5 8-12 8 0 8 4 8-2 8 1 8 18 16-17 16 34 8-3 4-24 1-16 8-17 3 25 4 7 4-9 8 5 8 13 8 5 8-13 5-16 13-16 5-32-3-32 3-25-3-24 2-16-3-32 1-11-4-6-16-27-24 23-8 0-8-21-8 5-8 12-8 4-16 11-8-8-16 12-8 4-8 2-16-3-8 5-8 45-32 1-8-3-8 2-8-21-8zM2569 1601l8-2 8 0 4 3-2 8-22 0zM2609 1746l8 0 1 0-1 0-8 1-5-1zM2609 1793l20 1 3 8-6 8-15 0-6-8 1-8zM2408 1826l4 0-4 1 0-1zM2465 1824l24 0 24-4 7 6 6 17-4 8-9 5-40 5-6-2 6-4 11-12-3-12-19-5zM2577 1826l8-2 9 2-9 2zM2416 1857l49 4 2 6 22 4 9 12 3 8-1 8-11 7-24-5-25-2-56 5-32-2-48 1-53 12-9 8 20 8-2 8-4 1-16-2-7-7 3-8-45-13-14-11-2-8 13-16 0-8 3-4 8-1 17 1 8 6 16 4 40 1 32-6 48 8 24 1 17-2 13-8-4-8zM2384 1971l24-8 8 1 24 13 8 10-16 2-16-6-8 0-14 4-5 8 0 8 11 8-10 8-3 8 18 0 52-13 32-2 16-9 8 2 7 6-19 8 4 8 16 5 16 11 10 8 4 8-16 16 5 8 10 8-1 24-5 9 13 16-1 8 5 8-6 8 6 16 14 8 2 8-16 16 0 8 14 8 13 16 13 8 8 0 24-5 40 3 25-7 16 3 0 90-16 6-33 3-16 7-8 0-16-6-24-5-8 0-8 4-20 19 4 8-1 8-20 16 4 16-5 17 5 8-3 8-7 8-8 16-8 8-1 8-16 16-164 0 8-16-2-8-9-8-3-16 8-16-3-33 6-16 0-8-12-8-42-17-11-7-6-8-47-5-13-19-1-8-5-8 10-16 1-16 8-15 40-17 32-21 14-11 28-32 10-24-5-8 5-16-13-17 2-8-6-32 11-16 1-8-6-8 1-8-15-16 5-12 8-4 38-8-6-8zM1894 2011l3 0-3 0zM1870 2042l16-1 29 10-17 16 3 16 17 5 24-5 8 3 4 5 1 8-4 8-21 8 12 15 7 2-8 8 6 8 11 2 30 14 4 16-19 16-1 8 6 8 21 5 40 5 8 6 16 4 40-8 32 1 32 32 4 11-6 24 5 16-3 8-32 36-24 2-32-3-48 10-32 9-41 4-12 6-3 16-7 8 4 8-24 9-20 16 2 8 12 8-4 8-20 3-6-3-4-8-6-5-24-8-17-11 16-17-23-12-22-28 3-8-24-16 6-8-1-8-10-11-16-1-57 21-8 0-16-8-16 0 0-85 40 1 33-3 32 10 17-4 7-16 9-8 3-8-23-8 19-7 6-9-3-8 4-32 39-16 0-8-9-8-3-9 14-7 24-3 11-6-8-16-11-7-24 1-11-2-1-8 4-3 24-11 11-10zM1737 2284l-4 8 17 6 0-14zM1752 2300l6 1 1-1-1-1zM1958 2130l19 2-19 2-5-2zM2706 2364l8 0 0 10-15-2 2-8zM1950 2412l8 0 1 0-1 1-8 0-3-1z"/>
<path fill-rule="evenodd" fill="#6ce371" d="M2432 1586l9 0 5 8-3 8 22 4 24-4 14 16 33 8 12 8-2 8 6 8-5 8-11 8-2 8 1 8-5 8 3 8 10 8 1 8-12 8-5 8 10 8-13 8-21 8 6 8-7 8-13 5-16 0-11 3 11 7 24 0 32 6 7 3-7 5-8 2-16-2-16-10-8-1-8 1-7 5 2 8-11 4-17-4-32 4-32-3-3-1 19-4 5-4-4-8-9-2-24-1-10-5 10-9 22-7-22-6-8-10-3-8 11-3 7-5-11-8-3-8 8-8-5-16 11-16 7-24 19-16 14-16 19-8 4-8-8-8zM2505 1839l8 4-8 3-4-3zM2424 1872l16-4 25 11 24-2 5 6 3 8-4 8-4 3-32-8-41 1-32 5-40-3-40 0-72 16-33-5-14-9-3-8 9-10 8-5 8 0 73 2 32-3 80 6 16-1zM2344 2011l16-6 8 0 12 6-20 6zM2465 2019l9 0 2 8-2 16 3 8 20 4 24-2 8 1 5 5-5 10-27 14 11 9 16-2 4 1 3 8-7 9-8 1-7 6 5 9 17 8 6 8 0 8 5 8-5 8 2 8 4 8 10 8 2 8-8 16 0 8 41 37 8 3 64 1 33-6 16 0 0 75-25 9-35-7-1 8-12 4-48-8-16 3-22 25 4 8-2 8-20 16 1 33 4 8-3 8-7 8-3 9-20 15-1 8-5 8-9 8-133 0-5-8 6-8 1-8-11-8-3-8 0-8 6-8 3-8-4-8 0-8 4-41-14-12-47-20-17-13-40-7-13-12 1-8-7-8 8-16 1-16 5-8 13-8 28-8 13-8 6-8 32-24 26-32 3-8 10-16-6-8 8-16-15-17 0-32 6-16 7-8 2-11 8-5 56-6zM1878 2051l8-2 4 2-4 20-19-4 12-8zM1926 2099l8-1 4 1-4 2-8-1 0-1zM1870 2113l16-4 8 1 16 2 8 5 11 15-6 8 0 8 23 8-4 8 0 8 16 2 12 6 1 8-12 16 5 8 11 5 48 8 20 11 12 2 80-6 16 23 7 5 2 8-10 8 1 24 5 8 0 8-14 24-7 8-24 2-24-3-16 1-73 16-48 8-15 8-3 8-18 24-12 7-16 13-16-2-8-4-5-5 11-9-6-6-9-2 12-16-11-8-4-8-6 0-1 8-5 4-8 2-16-13 0-9-23-16 8-8-18-24-12-24 1-8-9-8 0-8 21-8 12-8 0-8 5-8 17-16 5-16-6-8-3-8 2-27 4-5 27-8 15-8 2-8-3-8 5-9zM1669 2258l13 10-5 4-16 7 0-23zM1717 2257l8-4 17 7-8 6-9 0-10-6zM1685 2283l8 0 5 9 22 8 5 8 0 8-16 3-32 0-16 5 0-36z"/>
<path fill-rule="evenodd" fill="#55de5b" d="M2424 1617l16-3 17 1 24 10 40 4 12 5 3 8 8 8-3 8-12 8-4 16-5 8 3 8 8 8-1 8-10 8-4 8 8 8-27 13-4 3 0 8-4 2-24 3-25 9-24-1-12-5-4-10-8-6-18-8 8-8 1-8-11-8-4-8 3-8-5-16 21-40 20-16 9-13zM2207 1881l41-1 32 2 16 9-32 10-40 4-25-4-8-6-2-4 2-3zM2336 1883l29 0 31 8-20 3-49-3zM2432 1880l10 3-10 3-6-3zM2481 1883l9 0 2 8-3 5-16-5zM2432 2034l16-1 5 2 10 16 26 10 24 4 2 2-24 8-4 8 11 16-1 16 8 9 18 8 7 8 6 16-4 8 0 8 4 8 13 16-5 16 0 8 28 24 21 25 72 15-32 9-8 0-24-7-8 6-3 8 3 3 40 7 32-3 16 1 25 8 2 8-19 8-32-6-32 9-32-5-17 2-27 24-4 7 5 9-3 8-26 16 8 16 4 25-13 16-3 8-16 8-5 8 0 8-7 7-13 9-90 0-19-8 9-8 2-8-5-8-13-8 2-8 21-8-6-8-9-3-6-5-1-8 6-17-3-16 1-8-5-7-11-9-21-8-24-13-28-19 3-8-16-8-23-3-8-4-2-9 9-16-1-8 2-3 8-5 32-9 25-15 10-16 29-24 3-8 14-16 7-14 16-10-8-8 8-8 1-8-20-17-5-13 4-19 25-32zM1886 2114l16 2 12 8-2 8-14 8 0 8 6 8-2 8 11 8 45 12 4 4-36 16 16 4 24 15 49 6 32 12 24 1 64-4 13 22 1 8-3 8 1 48-12 20-24 2-40-2-105 20-46 16-14 8 4 8-5 8-11 2-8-3-4-7 2-8-12-16-50-13-16-11 3-8-21-24-10-24 1-8-3-8 2-8 24-16 0-8 5-8 21-16 8-16-7-24 1-3 8-7 29-6-1-8 10-16 0-8-3-8 8-9zM1664 2268l-3 2 0-4zM2698 2265l8-3 8 0 0 12-25 14-23-4 15-4z"/>
<path fill-rule="evenodd" fill="#3eda46" d="M2432 1625l81 8 8 3 15 14-2 8-15 8-2 16-5 8 2 8 7 8-2 8-15 16 5 8-12 4-24 17-23 3-18 6-16-4-10-26-22-16-4-8 1-8-7-16 6-16 12-16 32-28zM2199 1890l41-6 16 2 13 5-37 6-25-1-8-3-1-2zM2432 2058l16-5 17 6 9 8 1 16 8 16-1 8 2 8 7 9 19 8 6 8 0 8 7 8-5 8 1 8 4 8 16 16-4 16 2 8 35 32 7 16 6 16-7 24 15 7 32 2 13 7-21 6-32-5-19 7-13 14-15 10-3 8 4 8-2 4-8 4-24 0-8 8 3 16 6 8 0 9 7 4 9 12-14 8-4 8-7 5-23 3-2 8 9 7 2 9-27 8-4 8-44 0 4-8 0-8-24-24 0-8 28-6 3-2-1-8-10-4-33-4-3-8 13-17-9-7-5-9 3-8-5-8-10-8-19-8-28-19-14-13-2-8-9-8-15-8-24-4-9-4 22-16-11-8 30-9 37-23 8-16 27-19 4-5-1-8 18-16 4-8 28-16 2-8 6-8-5-8-16-9 14-16-30-4-5-4 13-16 16-4 8-4 0-3zM1886 2122l14 2-14 2zM1878 2170l8-3 8 6 39 15-15 5-12 11 28 8 22 16 10 4 41 3 32 8 24 3 72-3 6 9 4 16-2 16 2 32-5 16-5 8-56-1-40 7-40 3-73 25-16 3-16-1-24-11-24-6-24-9-5-10-17-16-10-16-5-16 2-24 21-16 1-8 5-6 18-10 7-8 2-8 8-8 4-8-7-16zM2673 2316l1 0-1 0z"/>
<path fill-rule="evenodd" fill="#28d530" d="M2440 1633l25-1 40 6 11 4 9 8-2 8-14 8-1 16-5 8 2 8 6 8-2 8-19 16-17 19-13 5-12 0-8-4-42-28-7-8 0-8-9-16 0-8 2-4 16-19zM2432 2073l16-5 9 6 12 17-4 16 5 8-1 9 28 8 5 8-12 16 19 24 19 16 1 8-3 8 3 8 36 32 12 32 0 8-9 16 6 8-5 8-17 16-23 16-8 15-29 9-7 8-6 24-12 9-3 8 8 8 4 8-24 16-3 8 11 8-3 8-9 3-15-3-4-8 14-8-14-8 3-6-1-10-1-8-6-8-31-8 9-9 16-8 7-8 1-8-10-1-16 7-8 0-8-3-3-3 3-8-5-8-67-46-13-18-21-16 11-8-4-16 19-17 22-15 10-15 16-8 22-17-8-8 26-13 8-11 13-8 11-16 9-8-3-8-14-9 10-8 2-8-13-8 4-8zM1886 2179l16 9-12 16 36 11 10 5 6 8 17 8 24 5 104 11 48-4 6 12 1 8 0 56-4 8-3 4-56-2-48 9-40 0-16 5-10 8-47 16-24-3-62-21-27-24-11-16-2-16 2-24 20-16 8-12 22-12 10-18 24-10 2-4-1-8zM2416 2461l3 0-3 0z"/>
<path fill-rule="evenodd" fill="#11d11a" d="M2448 1640l17-2 18 4 6 5 11 3 3 8-4 8 2 8-1 8-6 8 1 8 6 8-1 8-35 23-8 2-25-5-21-12-7-8-1-8-11-13-3-11 5-8 14-13 25-11zM2440 2081l8 0 8 10-8 6-16-6 3-8zM2440 2115l8-2 4 2-4 3zM2440 2139l8-4 30 5-8 8-2 8 23 16 7 16 17 16 5 16 37 32 13 32 1 8-11 16 2 8-4 8-13 14-15 10-17 19-34 13-13 8-1 16-17 11-11-11 8-16-13-8-40-9-32-19-42-28-6-12-19-20 4-8-1-8 15-24 65-46 47-26-6-8 17-8-1-16zM1870 2212l16-3 32 9 6 2 7 8 15 8 37 11 32 1 80 9 40-4 5 15 0 56-5 8-64-2-40 7-48 1-9 2-21 16-19 8-16 3-32-5-40-13-32-20-11-13-6-16 1-24 2-8 27-24 27-16 8-12zM2448 2433l4 4 2 8-6 2-4-2 0-8z"/>
<path fill-rule="evenodd" fill="#23d117" d="M2416 1665l16-3 41-1 8 1 7 4 5 8-3 8-8 8 0 8 8 8-1 8-32 17-17-1-18-8-5-8-1-8-16-16-3-8 7-8zM2448 2167l17 0 14 5-2 8-4 4-10 4 18 4 16 10 8 7 7 11 31 24 7 8 8 16 7 24-11 16-1 8-8 13-41 35-39 14-17 1-56-17-64-37-10-17-15-16 1-16 16-24 64-43 32-14 22-7 6-8-2-8zM1878 2218l8-1 15 3 33 16 49 16 64 4 56 9 32-7 2 10 1 56-3 4-64-1-80 6-25 6-24 15-24 8-32-4-40-13-32-20-11-17-2-8 4-32 25-20 22-12z"/>
<path fill-rule="evenodd" fill="#35d114" d="M2440 1674l33-3 8 3-15 16-2 8 9 8 2 8-18 9-21-1-5-8 1-8-2-8-12-8-5-8 11-6zM2416 2203l32-7 17 1 16 5 16 10 39 32 9 10 11 22 4 16-19 32-28 24-24 15-41 10-48-14-65-35-9-16-16-16 1-16 18-24 62-40zM1886 2228l56 14 49 17 64 5 20 4 12 7 24 6 22 11 2 4 1 28-41 1-24-4-80 8-25 6-24 12-32 8-24-1-32-9-37-21-10-16-1-8 2-24 3-8 27-21 32-15zM2094 2300l9 2 4-2z"/>
<path fill-rule="evenodd" fill="#48d212" d="M2448 2202l17 2 16 6 39 26 25 28 10 20 0 8-18 29-32 26-24 12-33 5-40-7-64-33-11-16-17-16-1-8 3-8 18-23 23-17 41-21zM1886 2236l56 10 57 22 3 8-4 8 0 8 9 10 24 0 23 6-6 8-41 4-41 11-32 14-32 5-24-2-32-10-24-14-10-16-2-8 6-32 30-21 24-10zM2039 2274l16 1 6 9-14 5-16 2-3-7 4-8z"/>
<path fill-rule="evenodd" fill="#5ad20f" d="M2448 2210l33 6 32 20 24 24 13 24 0 8-15 24-38 30-24 9-16 3-17 0-24-4-40-16-24-14-12-16-18-16-1-8 15-24 24-20 48-22zM1862 2244l24-5 40 6 25 7 32 16 5 8-2 16 3 16-3 8-9 8-35 14-40 7-32-2-24-8-16-8-14-19-2-8 3-24 4-8 10-8z"/>
<path fill-rule="evenodd" fill="#6cd20c" d="M2424 2219l24-3 25 3 24 11 18 14 22 23 8 17-1 8-14 24-25 19-16 9-24 8-17 2-24-3-40-14-24-13-8-7-24-25-1-8 15-24 34-24 32-14zM1878 2243l24 1 32 6 37 18 8 8 0 8 0 24-4 8-10 8-31 12-40 5-32-4-31-13-14-24 4-24 5-8 28-18z"/>
<path fill-rule="evenodd" fill="#7fd209" d="M2408 2226l24-4 33 0 16 4 18 10 30 28 11 20 0 8-11 18-8 9-24 17-24 9-25 4-24-3-32-9-25-13-33-32-1-8 11-19 14-13 26-16zM1862 2250l16-3 16-1 32 5 16 6 19 11 9 8 4 24-2 8-6 8-10 8-30 10-16 3-40-1-32-11-14-17-3-8 4-24 5-8 8-6z"/>
<path fill-rule="evenodd" fill="#92d108" d="M2416 2228l24-3 25 1 16 5 16 9 30 28 8 16 0 8-9 16-13 13-24 15-41 9-48-9-16-6-16-9-27-29-1-8 3-8 11-16 14-11 24-13zM1870 2251l16-2 26 3 22 7 18 9 10 8 4 8 2 16-3 8-6 8-13 8-36 10-32 1-36-11-12-13-5-11 5-24 5-8 11-7z"/>
<path fill-rule="evenodd" fill="#a6d006" d="M2408 2234l16-4 24-1 17 1 16 6 16 9 25 23 9 16 0 8-10 16-8 9-16 11-24 9-25 3-16-1-32-6-16-6-16-11-14-16-8-8-1-8 8-16 8-8 23-16zM1862 2257l16-4 24 1 24 6 16 7 12 9 6 8 3 16-4 8-8 8-14 8-27 7-32 1-30-8-16-16-4-8 1-8 5-16 4-5z"/>
<path fill-rule="evenodd" fill="#b9cf05" d="M2416 2236l16-3 25 0 16 4 16 8 28 23 9 16 0 8-9 16-12 11-16 10-32 7-49-4-16-5-16-9-24-26-1-8 3-8 6-9 16-13zM1870 2258l16-2 16 1 32 11 19 16 4 16-14 16-25 10-32 4-32-7-18-15-4-8 1-8 5-16 8-8z"/>
<path fill-rule="evenodd" fill="#cdce03" d="M2440 2235l17 1 21 8 34 24 10 16 0 8-10 16-9 8-14 9-16 5-25 2-32-2-16-4-16-7-26-27-2-8 4-8 16-18 40-18zM1878 2260l24 1 24 7 13 8 7 8 4 8 1 8-5 8-11 8-25 9-32 2-24-7-14-12-5-8 3-13 5-11 9-8z"/>
<path fill-rule="evenodd" fill="#e1cd02" d="M2424 2242l24-3 17 4 16 7 24 16 12 18 0 8-9 16-25 16-26 5-49-4-24-10-21-23-1-8 4-8 5-8 13-10zM1862 2267l24-4 32 7 13 6 8 8 5 8 1 8-11 12-24 10-24 3-24-5-16-10-7-10 1-8 8-16z"/>
<path fill-rule="evenodd" fill="#f4cc00" d="M2440 2243l25 4 16 7 21 14 11 16 0 8-10 16-22 14-33 5-32-4-16-4-16-8-8-8-8-11 0-8 10-16 22-14zM1870 2268l24-1 24 7 14 10 6 8 1 8-13 12-24 8-24 1-16-4-16-12-3-5 1-8 10-16z"/>
<path fill-rule="evenodd" fill="#f8bf00" d="M2424 2251l16-3 17 1 32 14 8 5 11 16 1 8-5 8-6 8-11 8-22 7-41-2-16-3-16-6-13-12-5-8-1-8 11-16 8-5zM1862 2275l24-5 24 5 16 10 6 7 1 8-9 8-20 8-18 2-16-2-16-8-7-8 1-8z"/>
<path fill-rule="evenodd" fill="#fab200" d="M2408 2259l32-6 17 1 16 4 16 8 8 7 6 11 1 8-11 16-20 11-25 2-40-6-16-7-13-16 0-8 5-8 8-9zM1878 2275l16 0 16 5 15 12 1 8-10 8-22 6-16 0-16-4-11-10 1-8 10-11z"/>
<path fill-rule="evenodd" fill="#fda500" d="M2424 2258l33-1 24 8 13 11 4 8 1 8-11 16-23 9-34-1-31-8-11-8-5-8 1-8 13-16zM1870 2282l16-2 16 2 16 10 1 8-15 8-10 3-24-2-14-9 1-8z"/>
<path fill-rule="evenodd" fill="#ff9700" d="M2408 2267l24-6 33 1 15 6 9 8 6 16-13 16-17 6-25 0-31-6-14-8-6-8 1-8 5-8zM1870 2288l8-3 16 1 14 6 1 8-23 7-16-2-8-5 1-8z"/>
<path fill-rule="evenodd" fill="#ff8400" d="M2416 2267l32-4 25 5 10 8 5 8 1 8-8 11-16 8-25 0-32-7-7-4-6-8 1-8 5-8zM1878 2291l12 1 4 8-22 0 4-8z"/>
<path fill-rule="evenodd" fill="#ff7100" d="M2432 2267l16-1 17 3 11 7 6 8 2 8-11 12-13 4-28-1-24-7-8-8 1-8 7-8 8-5z"/>
<path fill-rule="evenodd" fill="#ff5d00" d="M2416 2276l24-6 17 1 12 5 7 8 2 8-9 8-12 4-40-4-11-8 2-8z"/>
<path fill-rule="evenodd" fill="#ff4a00" d="M2432 2275l16-1 11 2 9 8 3 8-16 8-31-2-10-6 1-8z"/>
<path fill-rule="evenodd" fill="#ff3700" d="M2424 2284l8-3 16-2 11 5 2 8-13 4-16-1-9-3z"/>
<path fill="none" stroke="#6e6e6e" stroke-width="3.4" stroke-linejoin="round" d="M1671 1449l14 11 8 3 8 1 29-7 0-8M1794 1449l12 4 8 0 20-4M1855 1449l28 8-5 8-16 14-24-2-17 4-3 8 12 4 8 0 8-1 16-8 8-1 32 10 8 0 18-4-10-2-8-6-1-8 7-8-4-8 6-1 24 5 12 4 12 10 9 3 8-1 2-4 18-8 47-16M2102 1449l-31 5-11 3-7 8 2 11 8 4 20-7 12-2 16-10 16 2 16 8 8 2 16 0-2-8-28-16M2352 1449l-2 8-6 4-16 0-13 4-3 8 8 6 8 1 8-2 16-12 8-3 16 0 8 1 16 7 16 0 10-6 2-8-4-4-24-2-2-2M2499 1449l14 6 32-6M2617 1449l-16 12-25 4-25 8-6 5-10 3 2 3 8-1 16-4 40 10 8 0 16-9 40-7 24 2 7-2 3-8-1-1-9-2-16-1-8-3-3-9M2714 1513l-8 4-25 4 0 8-5 9 5 4 8 1 9-2 16-8M1661 1536l8 6 2 4-10 8M2714 1555l-16 3-5 4-4 8 9 4 16 1M1661 1574l13-4 3-6 32-4 19-6 14-16 1-9 8-8 6-16-7-1-10-7-23-3-40 2-8 3-8 8M2714 1607l-10 3-7 16-8 5-17 3 1 8 12 8 29 7M2714 1659l-8 11-14 4-5 8 2 2 25 3M1661 1690l48 11 4 5-1 8 11 8 2 5 9 3 8-2 25-6 8-16 2-8-12-16-2-8 23-8-44-13-8 1-10 4 5 8-20 3-8 0-16-6-20-5-3-8 14-8-12-16 4-8-3-8-4-2M2714 1713l-8-3-8 1-8 3-1 8 17 4 4-4 4-6M1661 1739l16 11 4 4 12 5 16-1 11-4-11-6-32-11-8-1-8 1M2714 1777l-3 1 3 3M1661 1782l8-4-8-3M2714 1850l-17 1-17 8 15 8 3 8-2 8 10 4 8 0M1661 1887l21-4 11-6 8-1 33 4 40-4 2 7 17 0-3-6-7-2-17-1-8-5-12-10-2-8-2-4-17 0-18 4-1 8-5 4-8 3-8 0-8-1-16-6 10-8-10-1M2714 1905l-16-3-9 2-7 3-2 8 30 8 4 4M1661 1928l16-1 8-2 6-10-14-6-16-3M2714 1971l-16 1-5 7 12 8 0 8-3 8-29 7-14 9 0 8 8 16-11 8 18 8 8 8-11 8-5 8 7 6 16 2 25-3M1661 2020l23-9 1-8-7-8 3-8-7-8-13-6M2714 2041l-8-14 8-5M1661 2088l24 2 16-3 5 4-21 2-24 19M2714 2122l-2 2 2 2M2714 2139l-8 8-25-5-2 6 35 2M1661 2152l11 4-11 2M1661 2169l13 11-4 8 7 2 40 0 9 6 16 3 16 0 12-3-2-8-10-5-16-2-17 3-8-2-8-9-3-9 12-8 24-6 9 6-4 8 3 1 8 0 8-2 9-15-5-8-12-3-16 2-21-7 2-8 2-2 37-7-28-2-13-6-2-8 24-8 38-24-13-16-2-6-24 0-25-7-24 0-8 1-10 4-5 8-9 1M2714 2412l-12 9 5 8-4 8-14 3-16 9-22 4-18 6-8 1-16-3-9-4 3-8 11-8 11-3 46-5 12-8-10-4-40-4-16 1-21 7-6 8 0 16-5 8-1 8 9 8 24-2 8 2 8 8-14 16 0 8M1707 2501l-6-6-5-2 5-4 24-2 9 1 16 6 16 0 24-12 4-5-7-8-5-1-15 1-17 4-16-1-25-5-16-1-8-2-13-11 5-5 8-2 57-7 16-4 6-6-3-8 5-9 12-8 5-8-4-8-29-7-44-1 0 8 15 8 10 8-6 3-24-1-40 5M2050 2501l-9-8-10-2-16 1-28 9M2100 2501l-7-8-6-3-9 3 7 8M2194 2501l38-9 40 3 12-2 10-8 8-16-6-6-8 0-16 9-16 3-24-8-26 2-7 1-10 7-14 2-32-3-8 9 5 8 19 3 16 5M2656 2501l-9-16 34-10 17-7 8 0 2 1-14 16 4 8 8 2 8 5M2256 1465l-6 0-3 8 9 5 16 1 11-6-4-8-7-2zM2465 1479l-22 10 5 5 9 3 16-1 8-3 22-12-22-4zM1991 1486l-8 3 16 5 2-5-10-3M2095 1487l-8 2-8 7-7 9-26 8-8 8-22 8-1 9 1 8-6 8-10 8 1 8-18 3-20-3-5-4-8 5-2 7-6 2-37 6 4 8 7 8-6 6-19 10-4 8 16 16 7 4 32 2 16 9 8 0 17-5 8-1 24 4 16 0 8-2 8-8 8-5 40 1 11-7-12-16 0-8-19-8-5-8-7-2-11-14 3-3 8-3 16 1 16 9 8 2 8-1 24-11 32 2 16-1 10-3 3-8 3-4 41 0 8-3 2-1-2-2-32-5-12-9-19-9-10-12-13-4 21-2 8-3 4-3 2-8 0-8-6-2-8 0-24 8-16-2-24-11-8-1zM2240 1489l-3 0 11 8 4-8-4-1zM2007 1497l-8 1-21 15 13 7 8 2 16-4 8-6 4-7-12-6-8-2M2304 1496l-29 9-5 8 18 11 8 2 8 0 22-5 1-8-7-6-1-10-7-2zM2111 1513l2 0-2 1-4-1zM2344 1513l-4 0 7 8 29 5 24 0 10-5-8-8-18-5-16 0zM2432 1508l-7 5-5 8 12 8 16 2 17 9 16 1 8-4 8-8-16-9-7-7-9-5-17-2zM2119 1542l16-3 16 1 16 8 23 6-47 6-32-3-6-3zM2400 1542l-5 4 5 2 23-2-7-8-8 0zM1709 1577l-4 9-1 16 13 3 8 1 9-3 18-17-1-8-9-3-17-2zM1975 1593l10 1-8 8-2 0-2 0-1-8zM2095 1591l-7 3 15 14 24 1 24-7-19-8-21-6-8 0zM2681 1601l0 1 12 0-12-1M2007 1617l8 0 2 1-2 0-8 0-1 0zM1830 1638l-6 4 6 2 9-2-1-4-8 0M1798 1657l-5 1 5 1 14-1-14-1M1870 1656l-5 10 5 5 8 0 29-5 0-8-5-5-16-2-8 1-8 4M2119 1657l-2 1 2 3 8 3 8-4 2-2-10-2-8 1M1950 1665l-8 2-24 2-14 13-26 4-5 4 4 8 17-1 24 1 8 0 16-10 41-7 24 2 13-1-5-2-7-6-33-6-6-2-3-4-8-2zM2047 1680l-6 2 14 4 8 0 21-4-13-7-8-1-16 6M2657 1701l-4 5 12 2 8-2-8-7-8 2M1870 1721l-8 9 5 8-1 8 3 8 25 3 24 7 5-2 3-5 0-12 8-7 16-1 11-7-15-8-12 0-5 0 2 8-5 3-5-3 3-8-30-7-16 2zM1725 1733l-5 5 22 4 7 4 1 8 8 8-7 8 7 4 8 0 5-4 3-8 8-6 6-2-6-8-48-15-9 2M1798 1754l-2 0 5 8 13 12 16 2 9-6 1-8-10-5-16-3zM1975 1770l-5 0 5 3 7-3zM2055 1765l-5 5 21 10 16 4 9-6-17-8zM1854 1778l-2 0 7 8-6 8-15 5-32 1-13 2 5 8-8 13-8 2-32-5-15 15 7 5 8 2 16-1 24-6 20 8 4 9 8 6 8-2 1-5-7-8 4-8-8-9 10-9 8-5 31-10 4-8 21-10 17-6-9-6zM1742 1791l-5 3 7 8-9 8 7 4 8-2 8-10 2-8-2-5-8-2zM2007 1818l-16 5-6 3 6 3 40 1 8 0 8-4-8-8zM1886 1850l-8 9 16 2 11-2 0-8zM1926 1873l-7 2 8 16-29 8 20 6 43 2 5-1 9-8 16-2 24 1 5-6-21-23-73 5M1983 1906l-5 1-2 8 23 9 5 7 0 8 11 5 8-1 8-6 15-6-7-7-16-5-16-11-8-2-16 0M1742 1922l-4 1 2 8 2 0 2-8-2-1M1910 1929l-4 2 4 2 8 0 4-2zM1991 1986l-2 1 18 18 16 2 16-4-14-8-26-10-8 1M2095 1994l-5 1-3 8 8 5 8 2 8-2 5-5-15-8-6-1M2151 2003l-7 8 8 8-9 3-24 1-8-8-8-3-16 3-11 4 11 5 23 3 4 16 5 3 8 1 24-8 24-16 19-4-19-8zM2569 2010l-2 1 2 1 8 2 16 2 10-5-10-3-24 2M2007 2050l-3 1-2 8 5 4 8 1 24-4 32 6 8 16 8 6 8 1 16-3 18-11-18-9-24-3-8-4-1-8-7-2-24-2-32 1zM2216 2051l-1 0 1 1 3-1zM2256 2051l-3 0 3 1 8 2 4-3-12 0M2167 2063l-5 4 0 8 5 3 24 8 33 3 4 2-21 9 17 5 2 2 14 3 25-3 1-16 3-8-13-3-24 2-8-2-9-13-8-4-32-1zM2609 2075l-4 0 4 4 8 4 17-8-9-2zM2609 2086l-17 13-3 8 4 2 16 1 25-3 7-8-1-8-23-7zM2151 2115l-3 0-5 5-6 12 6 6 24-1 8-2 6-3-14-9zM2272 2121l-16 7-8 2-24-2-8 3-2 1 7 8-3 8-2 2-9 2-24-3-8 1-16 12-6 2-26 0-16 4-5 4 1 8 11 8 9 3 38 5-6 2-4 6 0 8 12 3 16-3 5-8-5-4-12-4 4-6 4-10 4-3 33-3 56 0 16-2-8-10-5-14 5-6 29-10-29-10-8-1M2665 2118l-8 14 8 4 8 2 2-14-2-4-8-2M2593 2171l24 4 16-3-24-4zM2665 2179l-8 1-3 8 3 3 13-3-5-9M2151 2370l-18 10-22 6-8 0-32-5-8 4-2 3 1 8 9 3 24 1 16 5 16 0 16-3 32-16 32-9 9-5-17-1-32 2zM1999 2403l-2 1 1 8 9 5 42-5-2-6-16-1-24-5zM2280 2402l-6 2 6 4 8 0 13-4-13-3zM2248 2426l-20 11 17 8 4 8 7 3 32 3 8-2 3-4-10-8 4-8-5-4-24-9zM1999 2432l-13 13 5 6 8 2 8 0 16-4 9-4-8-8-9-5-8-1zM2151 2435l-8 2-16 9-24-5-16 1-8 3 24 11 16 1 16 8 16-6 31-6-2-8 3-5 28-3-20-7-24 1zM2055 2468l-3 1 11 8 16 6 8-1 13-5 10-8-7-4-8 0zM1662 1449l23 26 9 6-9 3-24 0M1779 1449l0 8-21 5-4 3 1 8 11 5 8 0 8-3 8-10 8-4 48-3 16 3 4 4-12 5-32 6-12 5-4 6-8 4-32 7-53-17-5-8 15-8 22-8 0-8M2179 1449l17 8-5 5-8 3-16-6-18-10M2342 1449l-6 3-16 4-24 8-8-7-8-3-16 5-24 2-20-4-14-8M2606 1449l-9 8-4 2-40 5-16-2-5-5 35-8M2714 1484l-5-3-3-8 1-8-1-2-17-9-12-5M1661 1580l21-2-5 2-2 6-14 8M2714 1596l-25-10-16 3-7 5-5 8 20 8 6 8-6 4-24 4-8 3-4 5 6 8 4 8-7 8-1 8 2 3 13 5 6 8-11 7-20 9 1 8 27 13 8 11 25 6 8 4 8 7M1661 1753l7 9-7 4M2714 1769l-23 9-6 8 14 8-4 8-6 5-24 1-8 3-11 7 5 17 16 16-18 13-40 13-32-2-8 3-5 5 5 8 8 2 8 1 24-6 5 3 11 13 7 3-7 3-32-2-24 7-32-3-24 1-9 2 2 8 7 5 48 9 8-1 24-7 8 0 8 4 8 12 8-1 11-13 5-2 16-1 12 3-7 16-10 8-3 4-7 4 23 3 8 3 0 4-6 6 23 8 2 8-3 2-16 1-7-3-10-8 0-8-15-6-32-5-24-10-8 1-3 4 2 8-1 16 22 8-12 4-24 4-9 8 9 7 20 9-20 8 4 8 14 8 6 8-10 16 6 8 0 8-5 8 0 8 10 8-8 17 15 8 24 10 8 2 24-2 24 10 16 2 25 10M1661 2097l3 2-3 3M2714 2109l-16 6-9-3-6-5 4-8 27-3M1661 2177l4 3-4 3M2714 2187l-16 0-9-3-16-16-32-4-16-5-16-1-16 2-9 4-5 8 6 5 7 3 41 7 11 17 5 16 8 3 24 1 20-4-12-2-8-6-6-8 0-8 6-4 17-3 8 1 3 6 5 1M1661 2198l32 0 24 7 25 2 24-5 15-6-3-8-8-8 20-38 3-2-22-8-1-8 15-9 0-8-11-6-8 0-16 3-8-1-4-4 52-16 10-16-12-16-1-24-13-12-8-3-16-3-12-6-1-8 21-9 15-15-15-16 11-8 1-8-6-8 3-8 0-8-9-7-8-2-33 8-8-3-6-4-32-8 8-8 30-5 25 1 24-2 22 6 10 7 8 0 8-5 19-18 13-3 40-1 11 4 9 8-12 7-24 4-8 11-4 2 7 8-11 2-16-9-24 0-17 7 9 9 8 3 24-4 8 2 2 6 14 8 16 0 16 2 32 14-5 8 5 2 25-2-1-8-7-8 4-8 11-6 8-1 17 3 32 24 8 2 32 0 2-6-8-8 3-8 27-8 8-8-8-4-32-3-4-1-5-8 17-12 16-4 16-8-16-9-24 7-8-1-8-11-3-10 3-3 8-1 32 6 49-10 18-8-1-8-6-9-14-8-6-1-6 1-2 7-6 1 14 3 7 6-27 0 4-9-8-1-26-23 6-8 12-3 24 2 24-3 16 2 24-5 16 1 12-2-1-8-3-1-16 8-8 1-8-2-7-6-1-8-10-8 7-8 10-16 23-8-5-8-17-3-8-3-15-10-20-8-6-8 17-15 16 0 8 1 7 6-1 8 10 6 8 1 8-2 10-5-10-13-21-3 37-1 25-4 31-3-8-16 22-16-5-1-14 1-10 5-16 2-49-2-46-21 38-8 16 1 24 7 8-3 6-5-7-8 1-8-6-8 1-8 19-8 35-5 7-3 7-8-4-8 7-8-1-2-30 2-2-2-8-10-8-5 8-4 32 4 16 13 24 1 32-3 40 3 5 3-7 8 4 8 6 2 24 0 32-7 8-1 17 4 32-1 16 4 16 1 10-2-26-10-8-6 9-17-15-16 22-7 48-9 8 2 8 6-2 8 10 5 16 1 16 4 24-2 0-8-8-2-7-6-4-8 18-8 25-2 25 6 15 12-7 4-39 4-18 8 8 1 6 7 1 8-5 9-10 5-24 4-8 5-14 18-1 8 7 5 32-5-1-8 17-11 8 0 4 3-2 8 0 8 14 5 8 2 25-5M2714 2403l-16-2-33 5-24 0-24 2-16 3-21 10-5 8 3 8-2 8-5 8 0 8 3 8 10 8-18 8-3 8 6 5 14 3M1823 2501l3-8-9-8-4-8-15-11-8-3-16-2-32 2-29-10 29-8 24 3 11-11 1-8-2-8 20-25-2-8-16-8-6-8 1-8-15-4-8-6-8-3-8-1-9 2-4 4 5 8-9 6-24 3-13 7 2 8 11 8-16 8-16 1M2301 2501l11-3 10-5-4-16 4-16-1-8-12-8 3-8 10-8-2-3-8-3-24 0-9-2 25-4 8-5 7-8-7-4-30-12 7-8-9-7-16 1-16-1-32-9-41 1-16-9-8-2-8 4-18 14-14 5-8-1-24-6-24 0-17 2-7 5-16 6-32 1-8 2-3 2 11 9 5 15 0 9-16 8 1 8-7 3-24 1-10 4 10 7 16 5 6 4 6 8 5 2 24 6 3 8-19 9-17 3-24 0-17 4M2448 1454l9-4 8 0 16 1 18 6-2 5-8 2-8 0-33-4-2-3zM2023 1464l8-1 8 2 0 8-7 16-17-3-9-5-6-8zM1926 1470l8-1 9 4-9 4-8-1-4-3zM2143 1479l16 0 9 2-9 5-8 0-12-5zM2216 1480l8-2 6 3-14 1-2-1zM2360 1477l8-2 16 1 19 5-11 10-16 1-8-1-13-10zM2039 1495l8-2 8 1 4 3-4 3-8 0-9-3zM2344 1496l16-3 6 4-22 5-4-5zM1822 1504l16-2 24 2 16-5 24 3 40-4 8 1 8 6-31 8 1 8 5 8 1 10 8 5 8 2-24 3-4 5-3 8 11 8-3 8-33 0-8 5-2 3 2 2 14 14-25 8-13 12-8 2-24-2-3 4-5 1-16 19-8 3-16 4-8 0-12-3-7-8 11-7 33-9 7-7 16-1 24-8-2-8-6-2-32 0-40 7-8-2-2-3 3-8 7-5 8-1 16 0 10-2 9-8 4-16 25-8-16-6-24-4-11-6 16-9 4-8 0-8 7-6zM1854 1510l-2 3 2 1 16 7 9 0 2-8-3-2-16-5zM2529 1521l-5 0 29 9 8-2 6-7-6-6-8 0-24 6M1966 1529l8 0-8 1-3-1zM2312 1545l-7 9 11 8-4 3-24 2-9 3 25 4 8-2 8-5 16-2 10-3 0-8-2-2-16-5zM1774 1552l3 2-3 8-18 0 10-4zM2135 1581l8-2 39 7-15 6-8 0-31-6zM2264 1605l-5 5 8 8 1 8 4 3 14-3 5-8 12-8-7-5-8-2-16 0zM2175 1649l8-1 11 2-11 1zM1846 1657l4 9 0 8 8 16-4 4-16 7-8-1-16-8-17-2 9-1 8-5 0-2-9-8 7-8zM2015 1665l19 1-11 2-12-2zM1991 1690l24 4 24 0 32 5 20 15-20 15-8 1-16-2-16-8-5-6 1-8-4-2-8-2-40 0-14-4zM2248 1705l-24 13-15 4 10 8-9 8 6 5 24 4 19-1 5-8-2-8-6-8 5-8 0-8zM1669 1720l8-3 8-1 11 6-19 3-8-2-2-1zM1983 1721l16-2 13 3-10 16 5 8 12 0 12-10 16-1 32 6 16 10 10 11-10 4-8-2-40-10-8 1-8 9-8 6-8 0-40-9-25 0-8-7 4-8 20-4 8-4 4-8 2-8zM1693 1770l32 3 13 5-28 16 10 8-19 8-8 0-24-16 16-13 6-11zM1934 1776l8-1 16 6 33 5 8 6 29 10-5 4-16 2-24-8-25-2-5 4 9 8 0 8-8 8 10 9-6 3-8 1-32 3-8 0-13-7 13-8 24-5 3-4-24-16 5-4 16-8 3-4-5-8zM2216 1809l-19 9 19 4 21-4 8-8-13-4zM1846 1823l8-3 8-1 4 7-4 6-8 0-14-6zM2368 1842l-16 3-9 6-5 8 14 4 8 1 8-3 9-10-1-3zM1774 1850l8-1 5 2 4 8-9 7-8-1-6-6zM2248 1844l-7 7 9 8 22 4 23-4-11-8zM1934 1859l16-5 16 2 5 3-5 3-16 2-8-1zM2649 1874l8-3 16 3 3 1-4 8 16 8-15 3-14-3-2-8-9-8zM2095 1890l-14 9 1 8 5 1 26-9-7-8zM1886 1913l19 2-19 2-6-2zM2151 1914l3 1-3-1M2344 1914l-3 1 3 5 8 5 18-2-4-8zM2432 1915l-2 0 2 3 8 0 20-3-12-3zM2416 1923l11 0-3-2-8 2M2095 1929l-7 2 0 8 6 8-4 8-11 6-7 2-1 2-8 1-8-3-2 8 18 2 7 14-15 9-8 0-30-9-4-8 0-8-6-4-8-1-16 3-16 5-9 5-8 8 8 7 17 6 8 9 24 7 32 2 8 7 2 10-10 1-12-1-10-8-10-2-16 1-8-1-11-6-5-7-12 7 1 8 11 13 7 3-21 8 0 8 29 8 2 8-4 8 18 24 7 0 2-1 0-7 7-16 17-14 16 9 24 19 14 2-15 8-27 8 0 9 20 2 24-2 8 3 15 13-8 8-2 8-13 11-3 5 0 8 8 16 11 7 24 5 16 12 24 9 12 7 4 12 6 4-4 8 3 16-5 2-4 6 3 8 9 0 11-8-3-5-3-3 1-16-3-8 17-8-7-8 0-8-3-8 31-2 8-2 5-4-12-8 3-8 12-2 24 3 8-3 8-6 22-8 5-8-3-8-16-3-13-5 2-8 27-5 3-3 5-16-10-9-6-11-8-10-6-3-3-8-19-8 2-8 13-8 7-8-10-4-24-5-57-5-24 0-4-2 12-8 29-8-13-7-23-9 0-8 6-8-39-3-8 1-16 7-8 0-26-5-3-8 2-8 11-12 9-4 17-16-12-8zM1709 1937l17 2-2 8-18 24-13 3-9-3 0-8-10-8-1-8 4-4 24-3zM2312 1938l-6 1 6 0 1 0zM2698 1948l8 6 0 2-6 7-15 0 4-3zM2312 1977l-3 2 5 0-2-2M2625 2010l8-4 8-2 8 1 6 6-16 8-6 6-8-6zM2312 2027l-2 0-1 8 3 1 1-1zM2625 2035l8-6 9 6-9 5zM2625 2121l8-3 8 2 3 4-11 4-14-4zM2015 2129l-8 5-4 6 0 8 4 8 8 2 16-1 20-9-4-17-8-4zM1693 2212l8 2 7-2-7-3zM1669 2227l-2 1 2 0 8 0 2 0-2-1zM2191 2318l-7 6 1 8 6 4 8-1 8-11-8-5zM2240 2401l13 3 1 8-6 2-10-2-3-8zM2119 2418l8-2 12 5-4 3-8 1-13-4zM2031 2425l8 0 10 4 7 8-9 4-8-4-16-8zM2649 2436l8 1 7 8-31 3-10-3zM2207 2449l9-2 8 2 2 4-10 6-9 0-5-6zM2262 1449l-14 3-10-3M1661 1470l3 3-3 1M1661 2204l4 8-4 1M2714 2213l-8-1-12-8 20-1M1661 2240l24-2 24 4 41-2 16 3 8-2 8-13-17-8-2-8 27-13 4-3-5-16 5-8-1-8 2-8 19-11 12-5-1-8-10-8-2-9 8-16-2-8 4-8-10-8 0-16-6-8 0-8 7-3 10 3 6 7 8 0 24-13 24-1 24 1 16-5 8-1 14 4-3 8-11 5-4 11-4 5-15 3 7 3 24 0 17 5 7 8 1 8-2 16-5 8 23 4 14 5-6 10-20 14 27 16 9 13 24 8 5 3-5 5-32-5-15 8 2 8 9 8 20 1 9-1 7-12 8-1 40 14 24-1 32 7 16 13 10 4 9 8 8 16 2 8-6 24 5 8 1 8-10 16-7 16-12 3-16 13-24 3-16-3-16 0-48 10-24 8-41 2-9 4-2 8 2 8 17 16-8 7-8 3-40 9-8 6 2 8 9 8 4 8 0 24-39 10-17-2 20-16-35-5-8-9-8-5-13-5-19-2-8-4-1-2 3-8-4-16 14-9-2-8 2-8-4-8-17-16 4-8-26-16-1-4-5-4-11-2-16 1-41 7-8-1-16-7-8 0M2714 2340l-16 7-25 3-15 6 7 6 8 1 41-7M1661 2355l14 1-6 16-8 6M2714 2381l-33-3-16 1-24-4-5-3-2-16-17-7-16 0-15 7-9 8 8 4 20 4 7 8-3 6-8 5-8 0-16-4-8 4-6 5 10 8-2 8-10 9-4 8 6 8-2 5-8 11-8 24-15 24M2330 2501l11-8 3-8-8-8-3-8 1-8-3-16 7-16-5-33 7-8-3-8-41-17-32-17-16 1-16-3-8-6-5-6 0-8-7-8-7-16 14-16-1-16 5-16 13-8 4-8 24-6 34-18 10-8 6-8 19-16 12-24 2-8-5-8 0-8 3-8-4-9-8-8-4-24-12-16 8-8 0-8 9-16 0-8-13-16 2-8-2-8 14-16-2-8-13-7-8-1-16 3-8 5-7 8 12 8 5 8-18 6-8 0-8-2-16-14-24-5-16-1 16-4 3-4 5-2 32-2 35-12 53 3 24 6 8-1 16-8 8 1 24 3 8 3 21 25-13 14-32-4-3 6 18 8 17-7 25-4 16-7 8 0 32 9 2 1 4 8-5 8 1 8 17 16 13 8 5 8-10 8-5 8 10 16-1 8 1 8 4 8-3 17 11 8 7 8-4 8-8 8-1 8 4 8 6 3 24 5 10 8-2 2-32 11-4 3 2 8 10 4 5 4 0 8 11 7 8 0 24-9 8 0 24 1 33-1 16 3M1766 1488l8 1-8 1-5-1zM2537 1505l3 0-3 1-5-1zM1822 1527l8-4 16 0 20 6 2 9-6 5-8 2-32-4-10-3zM2593 1526l16-1 18 4-10 5-16 3-8-1-6-7zM1886 1549l8 0 9 5-9 8-8 1-4-1-3-8zM1854 1566l16 0 6 4-14 5-16-5zM2376 1569l8-3 16-1 24 5 33 1 8 3 8 6 40 9 6-3-6-7-19-9 3-2 8-1 24 2 24-3 15 4 1 8-5 8 5 3 27 5 5 8 8 7 25 9-17 10-8 2-8 0-8-3-10-9-25 0 21 24-2 0-14 16-13 8 0 8 10 8 3 8-5 8 21 16-4 8 5 8 37 6 32 11 40-1 19 8 2 8-12 3-25 2-16-5-24-3-24-5-15 0 0 8 12 8 3 8 24 6 20 10-3 8-9 9-22 7-1 8 9 9-2 2-16-2-32 4-32-13-8 4-3 5 3 8-2 8-6 7-32 6-5 3 13 21 12 3 5 8-17 3-16 9-8 0-16-6-17-2-32 5-24 1-40-3-48 1-31 8-9 5-3 3 12 8 2 8-11 4-16 3-16-4-16-17-9-2-16 1-4-1-8-16-13-8-2-8 7-16-4-4-8 4-8 8-8 4-8 2-8-2-16-10-12-2-4-8 23-8 33-4 24-12 0-8 8-2 9 2 7 16 25 5 16 9 32 5 40-7 8 1 32 7 24 2 14-6 1-8 9-8 8-3 16-2 24 6 9 0 14-9-6-5-8-2-33 2-24-4-24-10-16-2-30-12-2-8-21-16-21-8-11-16 28-8-12-8-5-8 10-3 16-1 10-4 2-8-2-8 13-8-8-8-4-8 12-8-5-8-17-8 23-8 7-16 8-8 9-13 21-3 4-8 5-16-3-8-19-3-8 3-16 0-2 0-1-8 27-5zM2280 1585l3 1-1 8-15 0 5-7zM2537 1601l-2 1 2 0 9 0zM2344 1608l18 2-10 8-8 0-6 0 2-8zM2232 1615l8-2 10 5-10 5-8 0-5-5zM2617 1657l8 4 2 5-10 13-8 0-9-5 9-15zM2272 1672l8-1 8 4 15 15-15 3-41-3-4-8 13-3zM2601 1697l8-1 3 2 0 8-3 0-9-8zM2207 1706l2 0-2 0zM2633 1720l8 2-8 2-5-2zM2232 1759l8-1 19 4-13 8-14 2-5-2-2-8zM2569 1801l-5 1-6 8 3 3 16 1 13-4-5-9-16 0M2296 1810l8-1 7 1-7 3-8 0zM2272 1817l16 0 4 1-12 15-12 2-4-2-10-7 11-8zM2617 1848l8-2 11 5-11 3-8-2-2-1zM2561 1857l16-1 11 3-19 3-15-3zM2448 1930l17-1 9 2-9 8-4 8 6 8-2 2-17 2-3-4 0-8-3-8 1-8zM2368 1938l13 1 16 8-5 4-32-3-1-1 1-8zM2143 1946l8-4 32-3 8 1 10 7-4 8-6 3-16 4-8 1-16-6-9-10zM1862 1963l8-6 16 0 6 6-1 8-5 13-4 3 4 8 8 4 37 4-6 8-15 13-20 3-4 4-16-3-8-4-15-13-33-7 0-2 9-7-12-8-1-8 12-5 24 0 8-1zM2497 1962l32-5 8 3 15 11 1 8-16 1-32-4-11-5 0-8zM2609 2218l8-2 2 4-10 0-2 0zM1661 2256l12 4 9 8-5 4-16 7M2714 2283l-2 1 2 1M1661 2288l16-2 8-3 8 0 5 9 22 8 5 8 0 8-8 2-40 1-8 1-8 4M2714 2330l-25 9-8-1-18-6-9 0-1 8-4 3-8 1-48-8-8 0-8 3-22 25 4 8-2 8-20 16 0 8 2 8-1 17 4 8-3 8-7 8-3 9-20 15-1 8-5 8-9 8M2361 2501l-5-8 6-8 1-8-11-8-3-8 0-8 6-8 3-8-4-8 0-8 4-41-6-7-8-5-47-20-8-8-9-5-40-7-13-12 1-8-7-8 8-16 1-16 5-8 13-8 28-8 13-8 6-8 32-24 26-32 3-8 10-16-6-8 8-16-15-17 0-32 6-16 7-8 2-11 8-5 32-2 31-6 23-8 12 0 2 8-2 16 3 8 20 4 24-2 8 1 5 5-5 10-15 6-12 8 11 9 16-2 4 1 3 8-7 9-8 1-7 6 5 9 17 8 6 8 0 8 5 8-5 8 2 8 4 8 10 8 2 8-8 16 0 8 17 13 24 24 8 3 16 1 48 0 33-6 16 0M2432 1586l9 0 5 8-3 8 22 4 24-4 14 16 33 8 12 8-2 8 6 8-5 8-11 8-2 8 1 8-5 8 3 8 10 8 1 8-12 8-5 8 10 8-13 8-21 8 6 8-7 8-13 5-16 0-11 3 3 3 8 4 24 0 32 6 7 3-7 5-8 2-16-2-8-3-8-7-8-1-8 1-7 5 2 8-11 4-17-4-32 4-32-3-3-1 19-4 5-4-4-8-9-2-24-1-10-5 10-9 22-7-14-2-8-4-8-10-3-8 11-3 7-5-11-8-3-8 8-8-5-16 11-16 6-16 1-8 19-16 14-16 19-8 4-8-8-8zM2505 1839l8 4-8 3-4-3zM2424 1872l8-4 8 0 25 11 24-2 5 6 3 8-4 8-4 3-32-8-41 1-32 5-40-3-40 0-16 3-16 6-40 7-33-5-14-9-3-8 9-10 8-5 8 0 73 2 32-3 80 6 16-1zM2344 2011l16-6 8 0 12 6-12 5-8 1zM1878 2051l8-2 4 2-4 20-19-4 12-8-2-8zM1926 2099l8-1 4 1-4 2zM1870 2113l16-4 8 1 16 2 8 5 7 7 4 8-6 8 0 8 23 8-4 8 0 8 16 2 12 6 1 8-8 8-4 8 5 8 11 5 48 8 8 3 12 8 12 2 16 0 32-5 32-1 16 23 7 5 2 8-9 5-1 3 1 24 5 8 0 8-5 5-3 11-6 8-7 8-24 2-24-3-16 1-48 9-25 7-32 4-16 4-15 8-3 8-18 24-12 7-16 13-16-2-8-4-5-5 11-9-6-6-9-2 5-8 4-2 3-6-11-8-4-8-6 0-1 8-5 4-8 2-16-13 0-9-23-16 8-8-4-8-14-16-6-16-6-8 1-8-9-8 0-8 21-8 12-8 0-8 5-8 10-8 7-8 5-16-6-8-3-8 2-27 4-5 27-8 15-8 2-8-3-8 5-9zM1717 2257l8-4 9 2 8 5-8 6-9 0-8-3-2-3zM2432 1629l16-1 57 5 16 6 12 11-2 8-15 8-2 16-5 8 2 8 6 8-1 8-16 16 1 8-12 6-16 13-25 3-16 4-11-2-1-16-7-8-10-8-14-8-5-8 0-8-7-16 1-8 14-21 8-8 17-11zM2207 1889l33-2 18 4-26 4-25-2-4-2zM2440 2059l8-2 9 2 9 8 12 32-1 8 4 9 5 8 21 8 4 8-1 8 4 8-2 8 2 8 4 8 11 7 7 9 0 8-4 8 2 8 36 32 12 32-1 8-7 16 13 8-7 8-11 4-16 16-18 12-3 8 2 8-5 4-16 1-13 3-7 8 0 16 3 8-9 9 2 7 16 0 11 9-19 8-6 8-18 3-9 5-1 8 12 8 1 8-19 5-17 7-16-1-3-3-2-8-6-8-19-16 6-7 16-2 8-7-2-8-6-5-8-1-26-2-5-8 16-17-9-4-8-8-2-4 3-8-5-8-10-8-17-8-25-17-18-15-2-8-4-4-16-11-8-5-27-4 11-4 24-4-8-11-13-5 21-5 40-27 3-8 5-8 26-16 6-8-2-8 2-3 8-7 11-6 5-8 26-16 3-8 7-8-4-8-16-9 14-16-14-5-20-3 4-3 16-1 7-4 9-10zM1862 2178l24-6 33 16-18 16 33 10 17 14 15 6 41 4 27 6 29 3 32 1 40-3 7 15 1 8-1 16 1 40-4 8-4 6-32 1-24-1-40 7-48 3-8 2-10 6-39 14-24 5-24-4-14-7-26-6-22-10-4-8-19-16-10-16-4-16 2-8-1-8 2-8 20-16 2-8 8-8 18-10 4-6 2-8 17-16-5-16zM2601 2322l8-2 8 0 15 4-15 4-19-4zM2416 1665l16-3 41-1 8 1 7 4 5 8-3 8-8 8 0 8 8 8-1 8-32 17-17-1-18-8-5-8-1-8-16-16-3-8 7-8zM2448 2167l17 0 14 5-2 8-4 4-10 4 18 4 16 10 8 7 7 11 31 24 7 8 8 16 7 16 0 8-11 16-1 8-8 13-34 27-7 8-39 14-17 1-56-17-64-37-10-17-10-8-5-8 1-16 16-24 24-17 26-15 14-11 32-14 22-7 6-8-2-8zM1878 2218l8-1 15 3 13 8 20 8 49 16 64 4 56 9 32-7 2 10 1 56-3 4-64-1-32 3-48 3-25 6-24 15-24 8-32-4-40-13-32-20-11-17-2-8 4-32 25-20 22-12 18-14zM2448 2210l17 2 16 4 32 20 24 24 13 24 0 8-15 24-14 13-24 17-24 9-16 3-17 0-24-4-40-16-24-14-12-16-18-16-1-8 15-24 24-20 48-22zM1862 2244l24-5 40 6 25 7 32 16 5 8-2 16 3 16-3 8-9 8-35 14-16 4-24 3-16 0-16-2-24-8-16-8-4-3-10-16-2-8 3-24 4-8 10-8 15-10zM2424 2228l24-2 17 2 16 5 19 11 25 24 9 16 0 8-13 20-16 13-16 9-16 5-25 4-24-2-32-8-16-8-11-9-22-24-2-8 9-16 10-11 20-13 20-10zM1878 2251l16 0 16 2 24 7 15 8 10 8 5 8 2 16-3 8-7 8-13 8-33 9-32 1-16-3-18-7-14-15-4-9 5-24 6-8 9-6 16-7zM2424 2242l24-3 17 4 16 7 24 16 12 18 0 8-9 16-11 9-14 7-26 5-25 0-24-4-24-10-21-23-1-8 4-8 5-8 13-10zM1862 2267l24-4 16 2 16 5 13 6 8 8 5 8 1 8-11 12-8 4-16 6-24 3-24-5-16-10-7-10 1-8 8-16zM2424 2258l16-2 17 1 24 8 13 11 4 8 1 8-11 16-15 8-8 1-34-1-31-8-11-8-5-8 1-8 5-8 8-8 10-5zM1870 2282l16-2 16 2 8 4 8 6 1 8-15 8-10 3-16 0-8-2-14-9 1-8zM2424 2274l16-3 17 1 9 4 8 8 2 8-10 8-9 3-17 0-18-3-13-8 1-8 6-6z"/>
</g>
</g>
<g clip-path="url(#clipa)"><line x1="74.3" y1="286.7" x2="333.3" y2="27.9" stroke="#7f7f7f" stroke-width="2.7" stroke-dasharray="16.6 5.9 4.6 6.0" stroke-dashoffset="0"/><polyline points="72.0,282.6 73.2,282.6 74.4,282.6 75.6,282.6 76.8,282.6 78.0,282.6 79.2,282.5 80.4,282.5 81.6,282.5 82.8,282.5 84.0,282.4 85.2,282.4 86.4,282.3 87.6,282.3 88.8,282.2 90.0,282.1 91.2,282.0 92.4,281.9 93.6,281.8 94.8,281.6 96.0,281.5 97.2,281.3 98.4,281.1 99.6,280.9 100.8,280.6 102.0,280.3 103.2,279.9 104.4,279.4 105.6,278.9 106.8,278.3 108.0,277.6 109.2,276.8 110.4,276.0 111.6,275.0 112.8,273.6 114.0,271.9 115.2,270.1 116.4,268.0 117.6,265.5 118.8,262.4 120.0,258.6 121.2,253.3 122.4,247.8 123.6,242.5 124.8,237.4 126.0,233.8 127.2,231.1 128.4,229.6 129.6,228.7 130.8,228.8 132.0,229.6 133.2,230.8 134.4,232.7 135.6,235.6 136.8,239.4 138.1,243.1 139.3,246.3 140.5,249.4 141.7,252.6 142.9,255.8 144.1,258.8 145.3,261.3 146.5,263.5 147.7,265.5 148.9,267.3 150.1,268.8 151.3,270.2 152.5,271.3 153.7,272.4 154.9,273.4 156.1,274.3 157.3,275.0 158.5,275.8 159.7,276.4 160.9,277.0 162.1,277.5 163.3,278.0 164.5,278.5 165.7,278.9 166.9,279.3 168.1,279.7 169.3,280.0 170.5,280.3 171.7,280.6 172.9,280.9 174.1,281.1 175.3,281.3 176.5,281.5 177.7,281.7 178.9,281.8 180.1,281.9 181.3,282.0 182.5,282.0 183.7,282.1 184.9,282.1 186.1,282.1 187.3,282.2 188.5,282.2 189.7,282.2 190.9,282.2 192.1,282.2 193.3,282.1 194.5,282.0 195.7,281.9 196.9,281.8 198.1,281.7 199.3,281.6 200.5,281.4 201.7,281.0 202.9,280.6 204.1,279.9 205.3,278.9 206.5,278.1 207.7,277.3 208.9,276.8 210.1,276.6 211.3,276.4 212.5,276.2 213.7,276.2 214.9,276.1 216.1,276.1 217.3,276.0 218.5,276.0 219.7,276.0 220.9,275.9 222.1,275.9 223.3,275.9 224.5,275.8 225.7,275.8 226.9,275.8 228.1,275.8 229.3,275.7 230.5,275.7 231.7,275.5 232.9,275.3 234.1,275.0 235.3,274.7 236.5,274.4 237.7,274.1 238.9,273.8 240.1,273.5 241.3,273.2 242.5,272.8 243.7,272.4 244.9,272.0 246.1,271.5 247.3,270.9 248.5,270.3 249.7,269.5 250.9,268.7 252.1,267.8 253.3,266.8 254.5,265.5 255.7,263.9 256.9,262.3 258.1,260.6 259.3,259.2 260.5,258.0 261.7,257.0 262.9,256.0 264.1,255.2 265.3,254.6 266.5,254.1 267.7,253.6 268.9,253.2 270.2,253.0 271.4,252.9 272.6,253.1 273.8,253.6 275.0,254.2 276.2,255.0 277.4,255.8 278.6,256.7 279.8,257.7 281.0,259.0 282.2,260.3 283.4,261.4 284.6,262.5 285.8,263.6 287.0,264.6 288.2,265.5 289.4,266.4 290.6,267.2 291.8,267.9 293.0,268.6 294.2,269.2 295.4,269.8 296.6,270.4 297.8,270.9 299.0,271.4 300.2,271.8 301.4,272.3 302.6,272.7 303.8,273.1 305.0,273.4 306.2,273.8 307.4,274.1 308.6,274.5 309.8,274.8 311.0,275.1 312.2,275.4 313.4,275.7 314.6,275.9 315.8,276.1 317.0,276.3 318.2,276.5 319.4,276.6 320.6,276.8 321.8,277.0 323.0,277.1 324.2,277.2 325.4,277.3 326.6,277.4 327.8,277.5 329.0,277.6 330.2,277.7 331.4,277.8 332.6,277.9 333.8,277.9 335.0,277.9" fill="none" stroke="#000" stroke-width="4.6" stroke-linejoin="round"/></g>
<g clip-path="url(#clipc)"><line x1="75.6" y1="623.0" x2="333.3" y2="363.8" stroke="#7f7f7f" stroke-width="2.3" stroke-dasharray="14.05 5.0 3.9 5.1" stroke-dashoffset="0"/></g>
<g clip-path="url(#clipd)"><line x1="417.3" y1="623.2" x2="676.4" y2="364.3" stroke="#7f7f7f" stroke-width="1.95" stroke-dasharray="12.1 4.3 3.35 4.35" stroke-dashoffset="0"/><ellipse cx="519.9" cy="418.3" rx="2.8" ry="3.4" fill="#7189c4"/></g>
<rect x="90.3" y="39.7" width="144.2" height="38.5" fill="#fff"/><text x="94.3" y="65.4" class="lb">99 fs, <tspan font-weight="bold">1</tspan>, <tspan class="om">φ</tspan>&#8201;=&#8201;5°</text>
<rect x="84.7" y="373.8" width="143.7" height="37.8" fill="#fff"/><text x="88.2" y="399.5" class="lb">81 fs, <tspan font-weight="bold">2</tspan>,&#160; <tspan class="om">φ</tspan>&#8201;=&#8201;5°</text>
<rect x="427.4" y="373.6" width="152.9" height="37.7" fill="#fff"/><text x="431.5" y="399.3" class="lb">79 fs, <tspan font-weight="bold">2</tspan>, <tspan class="om">φ</tspan>&#8201;=&#8201;20°</text>
<line x1="415.8" y1="286.3" x2="675.1" y2="27.2" stroke="#7f7f7f" stroke-width="2.7" stroke-dasharray="16.6 5.9 4.6 6.0" stroke-dashoffset="0"/>
<path d="M103.1 286.7v-3.6M103.1 27.9v3.6M160.6 286.7v-3.6M160.6 27.9v3.6M218.2 286.7v-3.6M218.2 27.9v3.6M275.7 286.7v-3.6M275.7 27.9v3.6M333.3 286.7v-3.6M333.3 27.9v3.6M74.3 257.9h3.6M333.3 257.9h-3.6M74.3 200.4h3.6M333.3 200.4h-3.6M74.3 142.9h3.6M333.3 142.9h-3.6M74.3 85.4h3.6M333.3 85.4h-3.6M74.3 27.9h3.6M333.3 27.9h-3.6" stroke="#262626" stroke-width="1.2" fill="none"/>
<rect x="74.3" y="27.9" width="259.0" height="258.8" fill="none" stroke="#262626" stroke-width="1.4"/>
<text x="103.1" y="310.0" text-anchor="middle" class="tk">15</text>
<text x="160.6" y="310.0" text-anchor="middle" class="tk">16</text>
<text x="218.2" y="310.0" text-anchor="middle" class="tk">17</text>
<text x="275.7" y="310.0" text-anchor="middle" class="tk">18</text>
<text x="333.3" y="310.0" text-anchor="middle" class="tk">19</text>
<text x="64.7" y="265.5" text-anchor="end" class="tk">15</text>
<text x="64.7" y="208.0" text-anchor="end" class="tk">16</text>
<text x="64.7" y="150.5" text-anchor="end" class="tk">17</text>
<text x="64.7" y="93.0" text-anchor="end" class="tk">18</text>
<text x="64.7" y="35.5" text-anchor="end" class="tk">19</text>
<text x="202.3" y="335.5" text-anchor="middle" class="al"><tspan class="om">ω</tspan><tspan class="om" font-size="13" dy="4">τ</tspan><tspan dy="-4"> (1000 cm</tspan><tspan font-size="13" dy="-8">-1</tspan><tspan dy="8">)</tspan></text>
<text transform="translate(25.6 158.8) rotate(-90)" text-anchor="middle" class="al"><tspan class="om">ω</tspan><tspan class="om" font-size="13" dy="4">t</tspan><tspan dy="-4"> (1000 cm</tspan><tspan font-size="13" dy="-8">-1</tspan><tspan dy="8">)</tspan></text>
<path d="M444.6 286.3v-3.6M444.6 27.2v3.6M502.2 286.3v-3.6M502.2 27.2v3.6M559.9 286.3v-3.6M559.9 27.2v3.6M617.5 286.3v-3.6M617.5 27.2v3.6M675.1 286.3v-3.6M675.1 27.2v3.6M415.8 257.5h3.6M675.1 257.5h-3.6M415.8 199.9h3.6M675.1 199.9h-3.6M415.8 142.4h3.6M675.1 142.4h-3.6M415.8 84.8h3.6M675.1 84.8h-3.6M415.8 27.2h3.6M675.1 27.2h-3.6" stroke="#262626" stroke-width="1.2" fill="none"/>
<rect x="415.8" y="27.2" width="259.3" height="259.1" fill="none" stroke="#262626" stroke-width="1.4"/>
<text x="444.6" y="309.6" text-anchor="middle" class="tk">15</text>
<text x="502.2" y="309.6" text-anchor="middle" class="tk">16</text>
<text x="559.9" y="309.6" text-anchor="middle" class="tk">17</text>
<text x="617.5" y="309.6" text-anchor="middle" class="tk">18</text>
<text x="672.7" y="309.6" text-anchor="middle" class="tk">19</text>
<text x="406.2" y="265.1" text-anchor="end" class="tk">15</text>
<text x="406.2" y="207.5" text-anchor="end" class="tk">16</text>
<text x="406.2" y="150.0" text-anchor="end" class="tk">17</text>
<text x="406.2" y="92.4" text-anchor="end" class="tk">18</text>
<text x="406.2" y="34.8" text-anchor="end" class="tk">19</text>
<text x="543.7" y="336" text-anchor="middle" class="al"><tspan class="om">ω</tspan><tspan class="om" font-size="13" dy="4">τ</tspan><tspan dy="-4"> (1000 cm</tspan><tspan font-size="13" dy="-8">-1</tspan><tspan dy="8">)</tspan></text>
<text transform="translate(369 159.2) rotate(-90)" text-anchor="middle" class="al"><tspan class="om">ω</tspan><tspan class="om" font-size="13" dy="4">t</tspan><tspan dy="-4"> (1000 cm</tspan><tspan font-size="13" dy="-8">-1</tspan><tspan dy="8">)</tspan></text>
<path d="M75.6 623.0v-3.6M75.6 363.8v3.6M127.1 623.0v-3.6M127.1 363.8v3.6M178.7 623.0v-3.6M178.7 363.8v3.6M230.2 623.0v-3.6M230.2 363.8v3.6M281.8 623.0v-3.6M281.8 363.8v3.6M333.3 623.0v-3.6M333.3 363.8v3.6M75.6 623.0h3.6M333.3 623.0h-3.6M75.6 571.2h3.6M333.3 571.2h-3.6M75.6 519.3h3.6M333.3 519.3h-3.6M75.6 467.5h3.6M333.3 467.5h-3.6M75.6 415.6h3.6M333.3 415.6h-3.6M75.6 363.8h3.6M333.3 363.8h-3.6" stroke="#262626" stroke-width="1.2" fill="none"/>
<rect x="75.6" y="363.8" width="257.7" height="259.2" fill="none" stroke="#262626" stroke-width="1.4"/>
<text x="75.6" y="646.3" text-anchor="middle" class="tk">14</text>
<text x="127.1" y="646.3" text-anchor="middle" class="tk">15</text>
<text x="178.7" y="646.3" text-anchor="middle" class="tk">16</text>
<text x="230.2" y="646.3" text-anchor="middle" class="tk">17</text>
<text x="281.8" y="646.3" text-anchor="middle" class="tk">18</text>
<text x="333.3" y="646.3" text-anchor="middle" class="tk">19</text>
<text x="66.0" y="630.6" text-anchor="end" class="tk">14</text>
<text x="66.0" y="578.8" text-anchor="end" class="tk">15</text>
<text x="66.0" y="526.9" text-anchor="end" class="tk">16</text>
<text x="66.0" y="475.1" text-anchor="end" class="tk">17</text>
<text x="66.0" y="423.2" text-anchor="end" class="tk">18</text>
<text x="66.0" y="371.4" text-anchor="end" class="tk">19</text>
<text x="202.9" y="675.5" text-anchor="middle" class="al"><tspan class="om">ω</tspan><tspan class="om" font-size="13" dy="4">τ</tspan><tspan dy="-4"> (1000 cm</tspan><tspan font-size="13" dy="-8">-1</tspan><tspan dy="8">)</tspan></text>
<text transform="translate(25.5 491.6) rotate(-90)" text-anchor="middle" class="al"><tspan class="om">ω</tspan><tspan class="om" font-size="13" dy="4">t</tspan><tspan dy="-4"> (1000 cm</tspan><tspan font-size="13" dy="-8">-1</tspan><tspan dy="8">)</tspan></text>
<path d="M417.3 623.2v-3.6M417.3 364.3v3.6M469.1 623.2v-3.6M469.1 364.3v3.6M520.9 623.2v-3.6M520.9 364.3v3.6M572.8 623.2v-3.6M572.8 364.3v3.6M624.6 623.2v-3.6M624.6 364.3v3.6M676.4 623.2v-3.6M676.4 364.3v3.6M417.3 623.2h3.6M676.4 623.2h-3.6M417.3 571.4h3.6M676.4 571.4h-3.6M417.3 519.6h3.6M676.4 519.6h-3.6M417.3 467.9h3.6M676.4 467.9h-3.6M417.3 416.1h3.6M676.4 416.1h-3.6M417.3 364.3h3.6M676.4 364.3h-3.6" stroke="#262626" stroke-width="1.2" fill="none"/>
<rect x="417.3" y="364.3" width="259.1" height="258.9" fill="none" stroke="#262626" stroke-width="1.4"/>
<text x="417.3" y="647.8" text-anchor="middle" class="tk">14</text>
<text x="469.1" y="647.8" text-anchor="middle" class="tk">15</text>
<text x="520.9" y="647.8" text-anchor="middle" class="tk">16</text>
<text x="572.8" y="647.8" text-anchor="middle" class="tk">17</text>
<text x="624.6" y="647.8" text-anchor="middle" class="tk">18</text>
<text x="674.8" y="647.8" text-anchor="middle" class="tk">19</text>
<text x="407.7" y="630.8" text-anchor="end" class="tk">14</text>
<text x="407.7" y="579.0" text-anchor="end" class="tk">15</text>
<text x="407.7" y="527.2" text-anchor="end" class="tk">16</text>
<text x="407.7" y="475.5" text-anchor="end" class="tk">17</text>
<text x="407.7" y="423.7" text-anchor="end" class="tk">18</text>
<text x="407.7" y="371.9" text-anchor="end" class="tk">19</text>
<text x="539.9" y="676.5" text-anchor="middle" class="al"><tspan class="om">ω</tspan><tspan class="om" font-size="13" dy="4">τ</tspan><tspan dy="-4"> (1000 cm</tspan><tspan font-size="13" dy="-8">-1</tspan><tspan dy="8">)</tspan></text>
<text transform="translate(368.5 492.8) rotate(-90)" text-anchor="middle" class="al"><tspan class="om">ω</tspan><tspan class="om" font-size="13" dy="4">t</tspan><tspan dy="-4"> (1000 cm</tspan><tspan font-size="13" dy="-8">-1</tspan><tspan dy="8">)</tspan></text>
<line x1="475.5" y1="286" x2="475.5" y2="95" stroke="#00ff00" stroke-width="1.9"/>
<line x1="546.9" y1="286" x2="546.9" y2="95" stroke="#0000ff" stroke-width="1.9"/>
<line x1="609.4" y1="286" x2="609.4" y2="95" stroke="#ff0000" stroke-width="1.9"/>
<line x1="424.2" y1="84.4" x2="475.5" y2="84.4" stroke="#00ff00" stroke-width="1.9"/>
<line x1="424.2" y1="89.8" x2="546.9" y2="89.8" stroke="#0000ff" stroke-width="1.9"/>
<line x1="424.2" y1="95.2" x2="609.4" y2="95.2" stroke="#ff0000" stroke-width="1.9"/>
<line x1="424.2" y1="148.8" x2="475.5" y2="148.8" stroke="#00ff00" stroke-width="1.9"/>
<line x1="424.2" y1="154.5" x2="546.9" y2="154.5" stroke="#0000ff" stroke-width="1.9"/>
<line x1="424.2" y1="159.8" x2="609.4" y2="159.8" stroke="#ff0000" stroke-width="1.9"/>
<line x1="424.2" y1="221.2" x2="475.5" y2="221.2" stroke="#00ff00" stroke-width="1.9"/>
<line x1="424.2" y1="226.4" x2="546.9" y2="226.4" stroke="#0000ff" stroke-width="1.9"/>
<line x1="424.2" y1="231.6" x2="609.4" y2="231.6" stroke="#ff0000" stroke-width="1.9"/>
<path d="M416.2 84.4L425.2 79.4L425.2 89.4Z" fill="#00ff00"/>
<path d="M416.2 89.8L425.2 84.8L425.2 94.8Z" fill="#0000ff"/>
<path d="M416.2 95.2L425.2 90.2L425.2 100.2Z" fill="#ff0000"/>
<path d="M416.2 148.8L425.2 143.8L425.2 153.8Z" fill="#00ff00"/>
<path d="M416.2 154.5L425.2 149.5L425.2 159.5Z" fill="#0000ff"/>
<path d="M416.2 159.8L425.2 154.8L425.2 164.8Z" fill="#ff0000"/>
<path d="M416.2 221.2L425.2 216.2L425.2 226.2Z" fill="#00ff00"/>
<path d="M416.2 226.4L425.2 221.4L425.2 231.4Z" fill="#0000ff"/>
<path d="M416.2 231.6L425.2 226.6L425.2 236.6Z" fill="#ff0000"/>
<circle cx="475.5" cy="89.8" r="19.5" fill="#c280e0" stroke="#3a3a3a" stroke-width="1.5" stroke-dasharray="1.4 1.95"/>
<text x="468.7" y="89.6" text-anchor="middle" class="cf">P</text>
<text x="478.0" y="81.6" text-anchor="middle" class="cs">-</text>
<line x1="466.3" y1="99.3" x2="480.8" y2="79.6" stroke="#000" stroke-width="1.6"/>
<text x="479.2" y="105.4" text-anchor="middle" class="cf">P</text>
<text x="490.3" y="97.7" text-anchor="middle" class="cs">+</text>
<circle cx="546.6" cy="89.9" r="19.5" fill="#f5f5f5" stroke="#3a3a3a" stroke-width="1.5" stroke-dasharray="1.4 1.95"/>
<text x="540.9" y="87.4" text-anchor="middle" class="cf">J</text>
<line x1="535.3" y1="100.3" x2="550.5" y2="80.9" stroke="#000" stroke-width="1.6"/>
<text x="551.5" y="103.2" text-anchor="middle" class="cf">P</text>
<text x="563.1" y="95.5" text-anchor="middle" class="cs">+</text>
<circle cx="609.4" cy="89.6" r="19.65" fill="#c280e0" stroke="#454545" stroke-width="1.5"/>
<text x="606.6" y="100.0" text-anchor="middle" class="cb">P</text><text x="619.2" y="90.7" text-anchor="middle" class="cs2">+</text>
<circle cx="475.3" cy="154.3" r="19.5" fill="#f5f5f5" stroke="#3a3a3a" stroke-width="1.5" stroke-dasharray="1.4 1.95"/>
<text x="469.7" y="155.5" text-anchor="middle" class="cf">P</text>
<text x="478.9" y="147.2" text-anchor="middle" class="cs">-</text>
<line x1="469.5" y1="164.9" x2="483.7" y2="145.5" stroke="#000" stroke-width="1.6"/>
<text x="482.9" y="168.1" text-anchor="middle" class="cf">J</text>
<circle cx="546.9" cy="154.4" r="19.65" fill="#d46a6a" stroke="#454545" stroke-width="1.5"/>
<text x="547.8" y="163.0" text-anchor="middle" class="cb">J</text>
<circle cx="608.9" cy="159.3" r="19.5" fill="#f5f5f5" stroke="#3a3a3a" stroke-width="1.5" stroke-dasharray="1.4 1.95"/>
<text x="601.2" y="162.5" text-anchor="middle" class="cf">P</text>
<text x="612.4" y="154.0" text-anchor="middle" class="cs">+</text>
<line x1="603.8" y1="170.5" x2="618.6" y2="150.9" stroke="#000" stroke-width="1.6"/>
<text x="619.2" y="172.5" text-anchor="middle" class="cf">J</text>
<circle cx="475.4" cy="226.2" r="19.65" fill="#c280e0" stroke="#454545" stroke-width="1.5"/>
<text x="474.6" y="235.7" text-anchor="middle" class="cb">P</text><text x="485.1" y="226.3" text-anchor="middle" class="cs2">-</text>
<circle cx="546.6" cy="226.3" r="19.5" fill="#f5f5f5" stroke="#3a3a3a" stroke-width="1.5" stroke-dasharray="1.4 1.95"/>
<text x="540.9" y="224.0" text-anchor="middle" class="cf">J</text>
<line x1="538.2" y1="236.6" x2="553.4" y2="216.9" stroke="#000" stroke-width="1.6"/>
<text x="553.2" y="242.7" text-anchor="middle" class="cf">P</text>
<text x="562.8" y="234.1" text-anchor="middle" class="cs">-</text>
<circle cx="608.9" cy="226.3" r="19.5" fill="#c280e0" stroke="#3a3a3a" stroke-width="1.5" stroke-dasharray="1.4 1.95"/>
<text x="600.6" y="229.8" text-anchor="middle" class="cf">P</text>
<text x="611.5" y="221.2" text-anchor="middle" class="cs">+</text>
<line x1="602.2" y1="237.5" x2="617.0" y2="217.5" stroke="#000" stroke-width="1.6"/>
<text x="616.7" y="242.1" text-anchor="middle" class="cf">P</text>
<text x="625.7" y="233.7" text-anchor="middle" class="cs">-</text>
<path d="M475.4 241.9L470.8 250L480 250Z" fill="#00ff00"/>
<path d="M546.9 168L542.3 177L551.5 177Z" fill="#0000ff"/>
<path d="M609.4 102L604.8 110.8L614 110.8Z" fill="#ff0000"/>
<text x="-0.6" y="16.1" class="pl">a</text><text x="349.4" y="15.8" class="pl">b</text>
<text x="-0.6" y="362.2" class="pl">c</text><text x="348.8" y="362" class="pl">d</text>
</svg></body></html>
